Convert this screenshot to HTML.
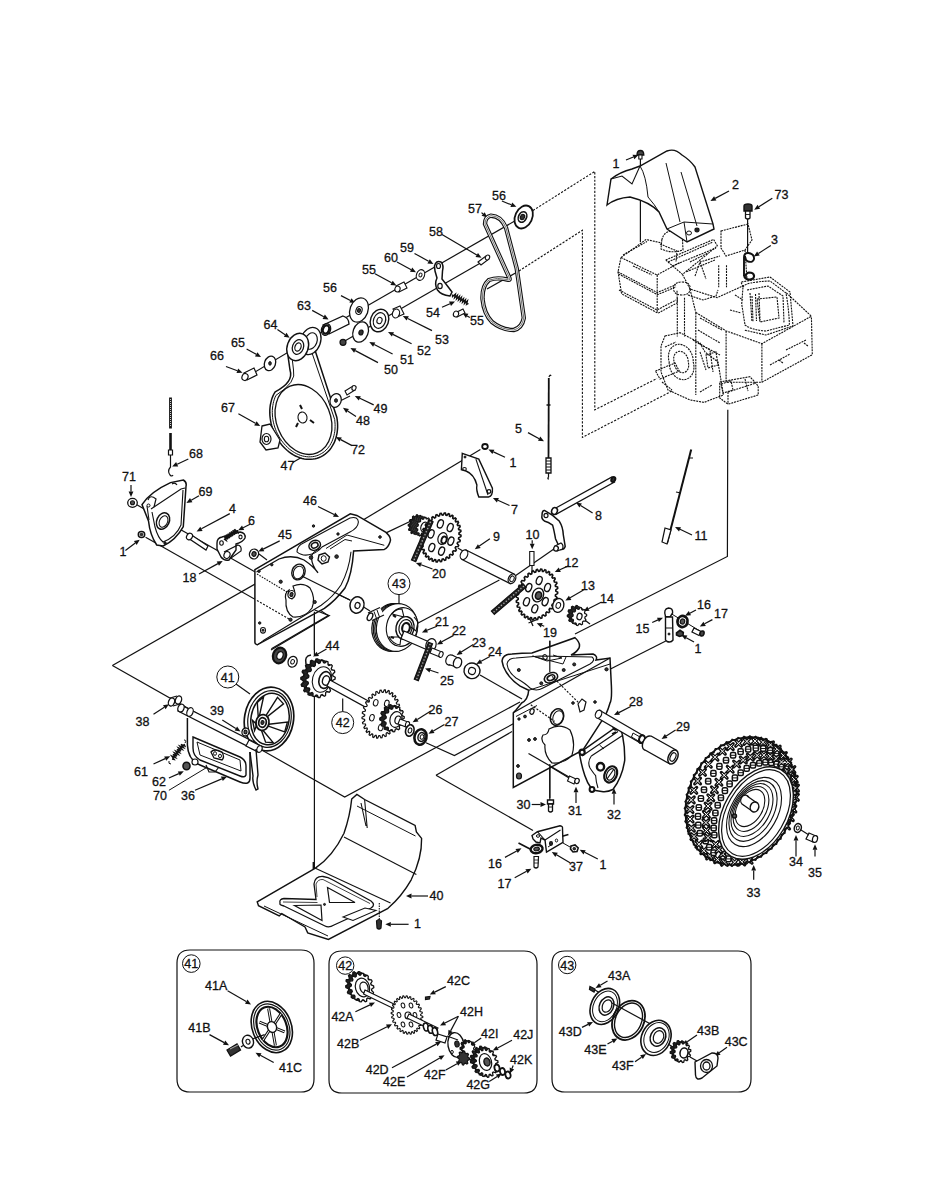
<!DOCTYPE html>
<html><head><meta charset="utf-8"><style>
html,body{margin:0;padding:0;background:#fff;}
body{width:927px;height:1200px;overflow:hidden;position:relative;}
svg{position:absolute;left:0;top:0;}
text{font-family:"Liberation Sans",sans-serif;fill:#111;stroke:#111;stroke-width:0.3px;}
</style></head><body>
<svg width="927" height="1200" viewBox="0 0 927 1200">
<text x="612.5" y="168" font-size="12.5" text-anchor="start">1</text>
<text x="732" y="189" font-size="12.5" text-anchor="start">2</text>
<text x="774.5" y="199" font-size="12.5" text-anchor="start">73</text>
<text x="771" y="244" font-size="12.5" text-anchor="start">3</text>
<text x="492" y="199.5" font-size="12.5" text-anchor="start">56</text>
<text x="468" y="213" font-size="12.5" text-anchor="start">57</text>
<text x="429" y="236" font-size="12.5" text-anchor="start">58</text>
<text x="400" y="252" font-size="12.5" text-anchor="start">59</text>
<text x="384" y="262" font-size="12.5" text-anchor="start">60</text>
<text x="362" y="274" font-size="12.5" text-anchor="start">55</text>
<text x="426" y="317" font-size="12.5" text-anchor="start">54</text>
<text x="470" y="325" font-size="12.5" text-anchor="start">55</text>
<text x="435" y="344" font-size="12.5" text-anchor="start">53</text>
<text x="417" y="355" font-size="12.5" text-anchor="start">52</text>
<text x="400" y="364" font-size="12.5" text-anchor="start">51</text>
<text x="384" y="374" font-size="12.5" text-anchor="start">50</text>
<text x="373.5" y="413" font-size="12.5" text-anchor="start">49</text>
<text x="356" y="425" font-size="12.5" text-anchor="start">48</text>
<text x="351" y="454" font-size="12.5" text-anchor="start">72</text>
<text x="515" y="433" font-size="12.5" text-anchor="start">5</text>
<text x="323" y="292" font-size="12.5" text-anchor="start">56</text>
<text x="297" y="310" font-size="12.5" text-anchor="start">63</text>
<text x="263.5" y="329" font-size="12.5" text-anchor="start">64</text>
<text x="231" y="347" font-size="12.5" text-anchor="start">65</text>
<text x="210" y="360" font-size="12.5" text-anchor="start">66</text>
<text x="221" y="412" font-size="12.5" text-anchor="start">67</text>
<text x="280.5" y="470" font-size="12.5" text-anchor="start">47</text>
<text x="189" y="458" font-size="12.5" text-anchor="start">68</text>
<text x="122" y="481" font-size="12.5" text-anchor="start">71</text>
<text x="198.5" y="496" font-size="12.5" text-anchor="start">69</text>
<text x="303" y="505" font-size="12.5" text-anchor="start">46</text>
<text x="229" y="513" font-size="12.5" text-anchor="start">4</text>
<text x="248" y="525" font-size="12.5" text-anchor="start">6</text>
<text x="278" y="539" font-size="12.5" text-anchor="start">45</text>
<text x="119.5" y="556" font-size="12.5" text-anchor="start">1</text>
<text x="182.5" y="582" font-size="12.5" text-anchor="start">18</text>
<text x="325.5" y="650" font-size="12.5" text-anchor="start">44</text>
<text x="210" y="715" font-size="12.5" text-anchor="start">39</text>
<text x="135.5" y="726" font-size="12.5" text-anchor="start">38</text>
<text x="134" y="776" font-size="12.5" text-anchor="start">61</text>
<text x="152" y="786" font-size="12.5" text-anchor="start">62</text>
<text x="153" y="800" font-size="12.5" text-anchor="start">70</text>
<text x="181" y="800" font-size="12.5" text-anchor="start">36</text>
<text x="509.5" y="467" font-size="12.5" text-anchor="start">1</text>
<text x="511" y="514" font-size="12.5" text-anchor="start">7</text>
<text x="595" y="520" font-size="12.5" text-anchor="start">8</text>
<text x="493" y="541" font-size="12.5" text-anchor="start">9</text>
<text x="525.5" y="539" font-size="12.5" text-anchor="start">10</text>
<text x="564.5" y="567" font-size="12.5" text-anchor="start">12</text>
<text x="432" y="578" font-size="12.5" text-anchor="start">20</text>
<text x="581" y="590" font-size="12.5" text-anchor="start">13</text>
<text x="600" y="603" font-size="12.5" text-anchor="start">14</text>
<text x="435" y="626" font-size="12.5" text-anchor="start">21</text>
<text x="543" y="637" font-size="12.5" text-anchor="start">19</text>
<text x="452" y="635" font-size="12.5" text-anchor="start">22</text>
<text x="472" y="647" font-size="12.5" text-anchor="start">23</text>
<text x="488" y="656" font-size="12.5" text-anchor="start">24</text>
<text x="440" y="685" font-size="12.5" text-anchor="start">25</text>
<text x="629" y="706" font-size="12.5" text-anchor="start">28</text>
<text x="428.5" y="714" font-size="12.5" text-anchor="start">26</text>
<text x="444.5" y="726" font-size="12.5" text-anchor="start">27</text>
<text x="694.5" y="540" font-size="12.5" text-anchor="start">11</text>
<text x="697" y="609" font-size="12.5" text-anchor="start">16</text>
<text x="714" y="618" font-size="12.5" text-anchor="start">17</text>
<text x="635.5" y="633" font-size="12.5" text-anchor="start">15</text>
<text x="694.5" y="653" font-size="12.5" text-anchor="start">1</text>
<text x="676" y="731" font-size="12.5" text-anchor="start">29</text>
<text x="516.5" y="809" font-size="12.5" text-anchor="start">30</text>
<text x="568" y="815" font-size="12.5" text-anchor="start">31</text>
<text x="607" y="819" font-size="12.5" text-anchor="start">32</text>
<text x="488" y="868" font-size="12.5" text-anchor="start">16</text>
<text x="569" y="871" font-size="12.5" text-anchor="start">37</text>
<text x="599.5" y="869" font-size="12.5" text-anchor="start">1</text>
<text x="497.5" y="888" font-size="12.5" text-anchor="start">17</text>
<text x="429.5" y="900" font-size="12.5" text-anchor="start">40</text>
<text x="414" y="928" font-size="12.5" text-anchor="start">1</text>
<text x="789" y="866" font-size="12.5" text-anchor="start">34</text>
<text x="808" y="877" font-size="12.5" text-anchor="start">35</text>
<text x="746.5" y="897" font-size="12.5" text-anchor="start">33</text>
<text x="205" y="990" font-size="12.5" text-anchor="start">41A</text>
<text x="188.3" y="1032" font-size="12.5" text-anchor="start">41B</text>
<text x="279" y="1071.5" font-size="12.5" text-anchor="start">41C</text>
<text x="447" y="985" font-size="12.5" text-anchor="start">42C</text>
<text x="331.4" y="1021" font-size="12.5" text-anchor="start">42A</text>
<text x="337" y="1048" font-size="12.5" text-anchor="start">42B</text>
<text x="365.7" y="1074" font-size="12.5" text-anchor="start">42D</text>
<text x="383" y="1086" font-size="12.5" text-anchor="start">42E</text>
<text x="424" y="1079" font-size="12.5" text-anchor="start">42F</text>
<text x="460" y="1016" font-size="12.5" text-anchor="start">42H</text>
<text x="481" y="1038" font-size="12.5" text-anchor="start">42I</text>
<text x="513.2" y="1039" font-size="12.5" text-anchor="start">42J</text>
<text x="510" y="1064" font-size="12.5" text-anchor="start">42K</text>
<text x="466.4" y="1089" font-size="12.5" text-anchor="start">42G</text>
<text x="608" y="979.5" font-size="12.5" text-anchor="start">43A</text>
<text x="558.8" y="1036" font-size="12.5" text-anchor="start">43D</text>
<text x="584.3" y="1054" font-size="12.5" text-anchor="start">43E</text>
<text x="697" y="1035" font-size="12.5" text-anchor="start">43B</text>
<text x="724.7" y="1046" font-size="12.5" text-anchor="start">43C</text>
<text x="612" y="1070" font-size="12.5" text-anchor="start">43F</text>
<path d="M190,950 H301 Q314,950 314,963 V1079 Q314,1092 301,1092 H190 Q177,1092 177,1079 V963 Q177,950 190,950 Z" fill="none" stroke="#111" stroke-width="1.2" />
<path d="M342,951 H524 Q537,951 537,964 V1080 Q537,1093 524,1093 H342 Q329,1093 329,1080 V964 Q329,951 342,951 Z" fill="none" stroke="#111" stroke-width="1.2" />
<path d="M565,951 H738 Q751,951 751,964 V1079 Q751,1092 738,1092 H565 Q552,1092 552,1079 V964 Q552,951 565,951 Z" fill="none" stroke="#111" stroke-width="1.2" />
<path d="M626.0,160.0 L633.4,157.0" stroke="#111" stroke-width="1.2" fill="none"/>
<path d="M638.5,155.0 L634.3,159.3 L632.5,154.8 Z" fill="#111"/>
<path d="M729.0,191.0 L715.2,198.4" stroke="#111" stroke-width="1.2" fill="none"/>
<path d="M710.4,201.0 L714.1,196.3 L716.4,200.5 Z" fill="#111"/>
<path d="M772.3,198.3 L758.9,206.8" stroke="#111" stroke-width="1.2" fill="none"/>
<path d="M754.2,209.7 L757.6,204.7 L760.1,208.8 Z" fill="#111"/>
<path d="M501.9,201.0 L511.3,204.8" stroke="#111" stroke-width="1.2" fill="none"/>
<path d="M516.4,206.8 L510.4,207.0 L512.2,202.5 Z" fill="#111"/>
<path d="M481.5,212.6 L483.1,214.0" stroke="#111" stroke-width="1.2" fill="none"/>
<path d="M487.3,217.6 L481.6,215.8 L484.7,212.2 Z" fill="#111"/>
<path d="M442.0,234.5 L476.8,255.0" stroke="#111" stroke-width="1.2" fill="none"/>
<path d="M481.5,257.8 L475.5,257.1 L478.0,252.9 Z" fill="#111"/>
<path d="M414.5,253.4 L428.6,261.3" stroke="#111" stroke-width="1.2" fill="none"/>
<path d="M433.4,264.0 L427.4,263.4 L429.8,259.2 Z" fill="#111"/>
<path d="M397.0,262.0 L411.2,269.7" stroke="#111" stroke-width="1.2" fill="none"/>
<path d="M416.0,272.3 L410.0,271.8 L412.3,267.6 Z" fill="#111"/>
<path d="M375.0,273.8 L391.6,282.8" stroke="#111" stroke-width="1.2" fill="none"/>
<path d="M396.4,285.4 L390.4,284.9 L392.7,280.7 Z" fill="#111"/>
<path d="M442.0,307.3 L450.0,303.7" stroke="#111" stroke-width="1.2" fill="none"/>
<path d="M455.0,301.5 L451.0,305.9 L449.0,301.5 Z" fill="#111"/>
<path d="M469.8,317.5 L467.2,315.9" stroke="#111" stroke-width="1.2" fill="none"/>
<path d="M462.5,313.0 L468.4,313.8 L465.9,317.9 Z" fill="#111"/>
<path d="M432.0,330.6 L407.7,318.5" stroke="#111" stroke-width="1.2" fill="none"/>
<path d="M402.8,316.0 L408.8,316.3 L406.6,320.6 Z" fill="#111"/>
<path d="M411.6,343.7 L392.9,334.4" stroke="#111" stroke-width="1.2" fill="none"/>
<path d="M388.0,332.0 L394.0,332.3 L391.9,336.6 Z" fill="#111"/>
<path d="M392.6,354.0 L374.2,344.5" stroke="#111" stroke-width="1.2" fill="none"/>
<path d="M369.3,342.0 L375.3,342.4 L373.1,346.7 Z" fill="#111"/>
<path d="M378.0,362.6 L355.3,350.6" stroke="#111" stroke-width="1.2" fill="none"/>
<path d="M350.4,348.0 L356.4,348.5 L354.1,352.7 Z" fill="#111"/>
<path d="M373.7,404.9 L359.8,398.3" stroke="#111" stroke-width="1.2" fill="none"/>
<path d="M354.8,396.0 L360.8,396.2 L358.8,400.5 Z" fill="#111"/>
<path d="M352.0,445.6 L340.7,439.6" stroke="#111" stroke-width="1.2" fill="none"/>
<path d="M335.8,437.0 L341.8,437.5 L339.5,441.7 Z" fill="#111"/>
<path d="M292.7,462.5 L302.2,457.0" stroke="#111" stroke-width="1.2" fill="none"/>
<path d="M307.0,454.2 L303.4,459.0 L301.0,454.9 Z" fill="#111"/>
<path d="M356.0,416.5 L347.6,410.9" stroke="#111" stroke-width="1.2" fill="none"/>
<path d="M343.0,407.8 L348.9,408.9 L346.2,412.9 Z" fill="#111"/>
<path d="M528.0,432.6 L539.2,438.7" stroke="#111" stroke-width="1.2" fill="none"/>
<path d="M544.0,441.3 L538.0,440.8 L540.3,436.6 Z" fill="#111"/>
<path d="M341.0,295.6 L350.4,300.5" stroke="#111" stroke-width="1.2" fill="none"/>
<path d="M355.3,303.0 L349.3,302.6 L351.5,298.3 Z" fill="#111"/>
<path d="M312.2,310.4 L323.8,316.8" stroke="#111" stroke-width="1.2" fill="none"/>
<path d="M328.6,319.4 L322.6,318.9 L324.9,314.6 Z" fill="#111"/>
<path d="M277.4,329.6 L285.1,334.7" stroke="#111" stroke-width="1.2" fill="none"/>
<path d="M289.7,337.8 L283.8,336.7 L286.5,332.8 Z" fill="#111"/>
<path d="M246.6,348.9 L256.2,354.3" stroke="#111" stroke-width="1.2" fill="none"/>
<path d="M261.0,357.0 L255.0,356.4 L257.4,352.2 Z" fill="#111"/>
<path d="M226.0,366.5 L237.4,370.8" stroke="#111" stroke-width="1.2" fill="none"/>
<path d="M242.5,372.7 L236.5,373.0 L238.2,368.5 Z" fill="#111"/>
<path d="M238.4,413.7 L255.4,423.3" stroke="#111" stroke-width="1.2" fill="none"/>
<path d="M260.2,426.0 L254.2,425.4 L256.6,421.2 Z" fill="#111"/>
<path d="M188.3,459.0 L177.2,464.3" stroke="#111" stroke-width="1.2" fill="none"/>
<path d="M172.2,466.6 L176.1,462.1 L178.2,466.4 Z" fill="#111"/>
<path d="M131.0,485.0 L131.0,491.5" stroke="#111" stroke-width="1.2" fill="none"/>
<path d="M131.0,497.0 L128.6,491.5 L133.4,491.5 Z" fill="#111"/>
<path d="M199.0,495.8 L191.2,500.2" stroke="#111" stroke-width="1.2" fill="none"/>
<path d="M186.4,502.9 L190.0,498.1 L192.4,502.3 Z" fill="#111"/>
<path d="M229.8,513.6 L201.4,528.8" stroke="#111" stroke-width="1.2" fill="none"/>
<path d="M196.6,531.4 L200.3,526.7 L202.6,530.9 Z" fill="#111"/>
<path d="M250.0,524.3 L243.1,527.7" stroke="#111" stroke-width="1.2" fill="none"/>
<path d="M238.2,530.2 L242.0,525.6 L244.2,529.9 Z" fill="#111"/>
<path d="M279.7,540.9 L263.2,549.1" stroke="#111" stroke-width="1.2" fill="none"/>
<path d="M258.3,551.5 L262.2,546.9 L264.3,551.2 Z" fill="#111"/>
<path d="M125.4,550.4 L135.3,543.0" stroke="#111" stroke-width="1.2" fill="none"/>
<path d="M139.7,539.7 L136.7,544.9 L133.9,541.1 Z" fill="#111"/>
<path d="M199.0,574.0 L217.9,563.6" stroke="#111" stroke-width="1.2" fill="none"/>
<path d="M222.7,561.0 L219.0,565.7 L216.7,561.5 Z" fill="#111"/>
<path d="M318.0,506.5 L334.1,514.5" stroke="#111" stroke-width="1.2" fill="none"/>
<path d="M339.0,517.0 L333.0,516.7 L335.2,512.4 Z" fill="#111"/>
<path d="M326.5,649.0 L317.8,653.9" stroke="#111" stroke-width="1.2" fill="none"/>
<path d="M313.0,656.6 L316.6,651.8 L319.0,656.0 Z" fill="#111"/>
<path d="M222.3,720.0 L235.8,728.5" stroke="#111" stroke-width="1.2" fill="none"/>
<path d="M240.5,731.4 L234.6,730.5 L237.1,726.4 Z" fill="#111"/>
<path d="M153.5,714.2 L164.3,707.2" stroke="#111" stroke-width="1.2" fill="none"/>
<path d="M168.9,704.2 L165.6,709.2 L163.0,705.2 Z" fill="#111"/>
<path d="M153.5,764.0 L165.2,758.6" stroke="#111" stroke-width="1.2" fill="none"/>
<path d="M170.2,756.3 L166.2,760.8 L164.2,756.4 Z" fill="#111"/>
<path d="M168.9,778.0 L178.8,773.6" stroke="#111" stroke-width="1.2" fill="none"/>
<path d="M183.8,771.3 L179.8,775.7 L177.8,771.4 Z" fill="#111"/>
<path d="M195.0,790.3 L221.8,778.9" stroke="#111" stroke-width="1.2" fill="none"/>
<path d="M226.9,776.7 L222.8,781.1 L220.9,776.6 Z" fill="#111"/>
<path d="M505.0,457.2 L493.4,451.9" stroke="#111" stroke-width="1.2" fill="none"/>
<path d="M488.4,449.6 L494.4,449.7 L492.4,454.1 Z" fill="#111"/>
<path d="M509.5,505.5 L497.9,500.3" stroke="#111" stroke-width="1.2" fill="none"/>
<path d="M492.9,498.0 L498.9,498.1 L496.9,502.5 Z" fill="#111"/>
<path d="M592.6,513.0 L580.6,505.4" stroke="#111" stroke-width="1.2" fill="none"/>
<path d="M576.0,502.5 L581.9,503.4 L579.4,507.5 Z" fill="#111"/>
<path d="M489.9,538.7 L479.3,546.1" stroke="#111" stroke-width="1.2" fill="none"/>
<path d="M474.8,549.3 L477.9,544.2 L480.7,548.1 Z" fill="#111"/>
<path d="M532.2,540.2 L532.2,543.8" stroke="#111" stroke-width="1.2" fill="none"/>
<path d="M532.2,549.3 L529.8,543.8 L534.6,543.8 Z" fill="#111"/>
<path d="M568.4,565.9 L559.8,569.7" stroke="#111" stroke-width="1.2" fill="none"/>
<path d="M554.8,572.0 L558.8,567.6 L560.8,571.9 Z" fill="#111"/>
<path d="M432.5,569.0 L421.1,564.8" stroke="#111" stroke-width="1.2" fill="none"/>
<path d="M415.9,562.9 L421.9,562.5 L420.2,567.0 Z" fill="#111"/>
<path d="M583.5,590.0 L570.1,597.8" stroke="#111" stroke-width="1.2" fill="none"/>
<path d="M565.4,600.6 L568.9,595.7 L571.4,599.9 Z" fill="#111"/>
<path d="M601.6,602.0 L588.4,608.7" stroke="#111" stroke-width="1.2" fill="none"/>
<path d="M583.5,611.2 L587.3,606.6 L589.5,610.8 Z" fill="#111"/>
<path d="M437.0,626.3 L427.0,630.3" stroke="#111" stroke-width="1.2" fill="none"/>
<path d="M421.9,632.4 L426.1,628.1 L427.9,632.6 Z" fill="#111"/>
<path d="M453.6,635.4 L441.8,641.8" stroke="#111" stroke-width="1.2" fill="none"/>
<path d="M437.0,644.4 L440.7,639.7 L443.0,643.9 Z" fill="#111"/>
<path d="M473.3,644.4 L461.2,652.1" stroke="#111" stroke-width="1.2" fill="none"/>
<path d="M456.6,655.0 L460.0,650.0 L462.5,654.1 Z" fill="#111"/>
<path d="M489.9,656.5 L481.1,661.3" stroke="#111" stroke-width="1.2" fill="none"/>
<path d="M476.3,664.0 L480.0,659.2 L482.3,663.4 Z" fill="#111"/>
<path d="M438.5,673.0 L430.2,670.3" stroke="#111" stroke-width="1.2" fill="none"/>
<path d="M425.0,668.6 L431.0,668.0 L429.5,672.6 Z" fill="#111"/>
<path d="M544.2,626.3 L541.8,625.3" stroke="#111" stroke-width="1.2" fill="none"/>
<path d="M536.7,623.3 L542.7,623.1 L540.9,627.6 Z" fill="#111"/>
<path d="M630.7,706.5 L618.9,712.6" stroke="#111" stroke-width="1.2" fill="none"/>
<path d="M614.0,715.1 L617.8,710.4 L620.0,714.7 Z" fill="#111"/>
<path d="M430.8,711.0 L417.3,719.4" stroke="#111" stroke-width="1.2" fill="none"/>
<path d="M412.6,722.3 L416.0,717.4 L418.5,721.4 Z" fill="#111"/>
<path d="M444.4,724.6 L433.3,731.0" stroke="#111" stroke-width="1.2" fill="none"/>
<path d="M428.5,733.7 L432.1,728.9 L434.5,733.1 Z" fill="#111"/>
<path d="M692.0,535.0 L680.0,529.3" stroke="#111" stroke-width="1.2" fill="none"/>
<path d="M675.0,527.0 L681.0,527.2 L679.0,531.5 Z" fill="#111"/>
<path d="M696.0,610.0 L689.9,613.2" stroke="#111" stroke-width="1.2" fill="none"/>
<path d="M685.0,615.7 L688.8,611.0 L691.0,615.3 Z" fill="#111"/>
<path d="M712.4,619.6 L704.6,623.8" stroke="#111" stroke-width="1.2" fill="none"/>
<path d="M699.8,626.4 L703.5,621.7 L705.8,625.9 Z" fill="#111"/>
<path d="M652.2,622.5 L658.0,619.9" stroke="#111" stroke-width="1.2" fill="none"/>
<path d="M663.0,617.7 L658.9,622.1 L657.0,617.7 Z" fill="#111"/>
<path d="M694.0,642.0 L686.2,637.7" stroke="#111" stroke-width="1.2" fill="none"/>
<path d="M681.4,635.1 L687.4,635.6 L685.1,639.8 Z" fill="#111"/>
<path d="M675.6,730.0 L666.2,736.0" stroke="#111" stroke-width="1.2" fill="none"/>
<path d="M661.6,739.0 L664.9,734.0 L667.5,738.0 Z" fill="#111"/>
<path d="M531.7,804.5 L540.5,804.5" stroke="#111" stroke-width="1.2" fill="none"/>
<path d="M546.0,804.5 L540.5,806.9 L540.5,802.1 Z" fill="#111"/>
<path d="M576.0,803.0 L576.0,792.2" stroke="#111" stroke-width="1.2" fill="none"/>
<path d="M576.0,786.7 L578.4,792.2 L573.6,792.2 Z" fill="#111"/>
<path d="M614.0,804.5 L614.0,793.8" stroke="#111" stroke-width="1.2" fill="none"/>
<path d="M614.0,788.3 L616.4,793.8 L611.6,793.8 Z" fill="#111"/>
<path d="M505.0,857.4 L516.7,851.0" stroke="#111" stroke-width="1.2" fill="none"/>
<path d="M521.5,848.3 L517.8,853.1 L515.5,848.9 Z" fill="#111"/>
<path d="M570.0,862.7 L556.5,854.8" stroke="#111" stroke-width="1.2" fill="none"/>
<path d="M551.8,852.0 L557.8,852.7 L555.3,856.9 Z" fill="#111"/>
<path d="M597.8,859.0 L584.6,852.3" stroke="#111" stroke-width="1.2" fill="none"/>
<path d="M579.7,849.8 L585.7,850.2 L583.5,854.4 Z" fill="#111"/>
<path d="M514.7,877.8 L526.6,871.3" stroke="#111" stroke-width="1.2" fill="none"/>
<path d="M531.4,868.7 L527.7,873.4 L525.4,869.2 Z" fill="#111"/>
<path d="M428.0,896.0 L411.5,896.0" stroke="#111" stroke-width="1.2" fill="none"/>
<path d="M406.0,896.0 L411.5,893.6 L411.5,898.4 Z" fill="#111"/>
<path d="M408.6,924.3 L390.8,924.3" stroke="#111" stroke-width="1.2" fill="none"/>
<path d="M385.3,924.3 L390.8,921.9 L390.8,926.7 Z" fill="#111"/>
<path d="M796.0,856.4 L796.0,840.5" stroke="#111" stroke-width="1.2" fill="none"/>
<path d="M796.0,835.0 L798.4,840.5 L793.6,840.5 Z" fill="#111"/>
<path d="M815.0,856.4 L815.0,849.8" stroke="#111" stroke-width="1.2" fill="none"/>
<path d="M815.0,844.3 L817.4,849.8 L812.6,849.8 Z" fill="#111"/>
<path d="M753.7,879.7 L753.7,870.5" stroke="#111" stroke-width="1.2" fill="none"/>
<path d="M753.7,865.0 L756.1,870.5 L751.3,870.5 Z" fill="#111"/>
<path d="M227.6,990.8 L246.2,1001.6" stroke="#111" stroke-width="1.2" fill="none"/>
<path d="M251.0,1004.4 L245.0,1003.7 L247.5,999.6 Z" fill="#111"/>
<path d="M209.5,1034.6 L224.2,1042.6" stroke="#111" stroke-width="1.2" fill="none"/>
<path d="M229.0,1045.2 L223.0,1044.7 L225.3,1040.5 Z" fill="#111"/>
<path d="M273.7,1062.5 L260.3,1055.3" stroke="#111" stroke-width="1.2" fill="none"/>
<path d="M255.5,1052.7 L261.5,1053.2 L259.2,1057.4 Z" fill="#111"/>
<path d="M445.8,986.6 L434.7,992.1" stroke="#111" stroke-width="1.2" fill="none"/>
<path d="M429.8,994.6 L433.6,990.0 L435.8,994.3 Z" fill="#111"/>
<path d="M355.4,1011.7 L370.0,1004.9" stroke="#111" stroke-width="1.2" fill="none"/>
<path d="M375.0,1002.6 L371.0,1007.1 L369.0,1002.7 Z" fill="#111"/>
<path d="M360.0,1040.3 L387.1,1026.8" stroke="#111" stroke-width="1.2" fill="none"/>
<path d="M392.0,1024.3 L388.2,1028.9 L386.0,1024.6 Z" fill="#111"/>
<path d="M392.0,1067.8 L436.3,1044.1" stroke="#111" stroke-width="1.2" fill="none"/>
<path d="M441.2,1041.5 L437.5,1046.2 L435.2,1042.0 Z" fill="#111"/>
<path d="M407.0,1077.0 L439.8,1058.0" stroke="#111" stroke-width="1.2" fill="none"/>
<path d="M444.6,1055.2 L441.0,1060.0 L438.6,1055.9 Z" fill="#111"/>
<path d="M445.8,1070.0 L457.0,1063.7" stroke="#111" stroke-width="1.2" fill="none"/>
<path d="M461.8,1061.0 L458.2,1065.8 L455.8,1061.6 Z" fill="#111"/>
<path d="M481.2,1038.0 L474.3,1042.8" stroke="#111" stroke-width="1.2" fill="none"/>
<path d="M469.8,1046.0 L472.9,1040.9 L475.7,1044.8 Z" fill="#111"/>
<path d="M512.0,1040.3 L497.6,1048.0" stroke="#111" stroke-width="1.2" fill="none"/>
<path d="M492.7,1050.6 L496.4,1045.9 L498.7,1050.1 Z" fill="#111"/>
<path d="M513.2,1065.5 L512.0,1068.4" stroke="#111" stroke-width="1.2" fill="none"/>
<path d="M509.8,1073.5 L509.7,1067.5 L514.2,1069.4 Z" fill="#111"/>
<path d="M489.2,1081.5 L497.2,1076.4" stroke="#111" stroke-width="1.2" fill="none"/>
<path d="M501.8,1073.5 L498.4,1078.5 L495.9,1074.4 Z" fill="#111"/>
<path d="M607.5,981.0 L600.3,985.2" stroke="#111" stroke-width="1.2" fill="none"/>
<path d="M595.5,988.0 L599.0,983.2 L601.5,987.3 Z" fill="#111"/>
<path d="M582.0,1027.4 L588.1,1024.4" stroke="#111" stroke-width="1.2" fill="none"/>
<path d="M593.0,1021.9 L589.2,1026.5 L587.0,1022.2 Z" fill="#111"/>
<path d="M607.5,1044.0 L612.6,1041.2" stroke="#111" stroke-width="1.2" fill="none"/>
<path d="M617.4,1038.5 L613.8,1043.3 L611.4,1039.1 Z" fill="#111"/>
<path d="M635.0,1061.7 L641.5,1057.2" stroke="#111" stroke-width="1.2" fill="none"/>
<path d="M646.0,1054.0 L642.9,1059.1 L640.1,1055.2 Z" fill="#111"/>
<path d="M697.0,1035.0 L687.2,1041.8" stroke="#111" stroke-width="1.2" fill="none"/>
<path d="M682.7,1045.0 L685.8,1039.9 L688.6,1043.8 Z" fill="#111"/>
<path d="M727.0,1047.3 L719.2,1052.8" stroke="#111" stroke-width="1.2" fill="none"/>
<path d="M714.7,1056.0 L717.8,1050.9 L720.6,1054.8 Z" fill="#111"/>
<path d="M770.8,245.4 L758.4,253.5" stroke="#111" stroke-width="1.2" fill="none"/>
<path d="M753.8,256.5 L757.1,251.5 L759.7,255.5 Z" fill="#111"/>
<path d="M458.4,1016.3 L444.9,1023.0" stroke="#111" stroke-width="1.2" fill="none"/>
<path d="M440.0,1025.5 L443.8,1020.9 L446.0,1025.2 Z" fill="#111"/>
<path d="M458.4,1016.3 L450.6,1030.9" stroke="#111" stroke-width="1.2" fill="none"/>
<path d="M448.0,1035.8 L448.5,1029.8 L452.7,1032.1 Z" fill="#111"/>
<path d="M168.9,790.3 L206.5,767.6" fill="none" stroke="#111" stroke-width="1.0"/>
<path d="M533.0,210.5 L360.0,310.0" fill="none" stroke="#111" stroke-width="1.2"/>
<path d="M352.0,314.0 L250.0,375.0" fill="none" stroke="#111" stroke-width="1.2"/>
<path d="M484.0,261.0 L343.0,342.0" fill="none" stroke="#111" stroke-width="1.2"/>
<path d="M519.0,271.0 L487.0,289.0" fill="none" stroke="#111" stroke-width="1.2"/>
<path d="M350.0,396.0 L314.0,414.0" fill="none" stroke="#111" stroke-width="1.2"/>
<path d="M262.0,437.0 L300.0,420.0" fill="none" stroke="#111" stroke-width="1.2"/>
<path d="M533.0,210.5 L594.8,171.4 L594.8,409.9 L657.0,378.5" fill="none" stroke="#111" stroke-width="1.1" stroke-dasharray="2.2,1.5"/>
<path d="M519.0,271.0 L582.4,230.3 L582.4,437.4 L673.0,390.5" fill="none" stroke="#111" stroke-width="1.1" stroke-dasharray="2.2,1.5"/>
<path d="M640.4,158.0 L640.4,242.0" fill="none" stroke="#111" stroke-width="1.2"/>
<path d="M747.6,219.0 L747.6,253.0" fill="none" stroke="#111" stroke-width="1.2"/>
<path d="M727.8,409.8 L727.4,556.5 L575.0,634.0" fill="none" stroke="#111" stroke-width="1.2"/>
<path d="M665.8,641.0 L610.5,669.0" fill="none" stroke="#111" stroke-width="1.2"/>
<path d="M480.0,675.0 L522.0,699.0" fill="none" stroke="#111" stroke-width="1.2"/>
<path d="M133.7,503.0 L254.8,571.7" fill="none" stroke="#111" stroke-width="1.2"/>
<path d="M145.6,537.3 L257.0,600.5" fill="none" stroke="#111" stroke-width="1.2"/>
<path d="M257.0,600.5 L290.4,619.2" fill="none" stroke="#111" stroke-width="1.2" stroke-dasharray="2,1.5"/>
<path d="M112.4,665.5 L281.0,569.3" fill="none" stroke="#111" stroke-width="1.2"/>
<path d="M281.0,569.3 L480.4,449.5" fill="none" stroke="#111" stroke-width="1.2"/>
<path d="M112.4,665.5 L344.7,797.0 L520.0,702.0" fill="none" stroke="#111" stroke-width="1.2"/>
<path d="M271.4,648.8 L328.3,615.6 L314.0,606.0" fill="none" stroke="#111" stroke-width="1.2"/>
<path d="M314.4,606.0 L314.4,655.0" fill="none" stroke="#111" stroke-width="1.2"/>
<path d="M314.4,682.0 L314.4,869.0" fill="none" stroke="#111" stroke-width="1.2"/>
<path d="M257.0,574.0 L288.0,592.0" fill="none" stroke="#111" stroke-width="1.2" stroke-dasharray="2,1.5"/>
<path d="M411.5,520.7 L386.6,532.6" fill="none" stroke="#111" stroke-width="1.2"/>
<path d="M457.8,548.0 L466.0,552.7" fill="none" stroke="#111" stroke-width="1.2"/>
<path d="M416.3,624.0 L499.4,580.0" fill="none" stroke="#111" stroke-width="1.2"/>
<path d="M515.7,575.4 L556.4,547.3" fill="none" stroke="#111" stroke-width="1.2"/>
<path d="M300.0,576.5 L350.0,600.0" fill="none" stroke="#111" stroke-width="1.2"/>
<path d="M364.0,607.3 L370.0,611.0" fill="none" stroke="#111" stroke-width="1.2"/>
<path d="M426.0,742.7 L454.4,755.5 L513.3,723.8" fill="none" stroke="#111" stroke-width="1.2"/>
<path d="M436.0,775.3 L512.0,731.6" fill="none" stroke="#111" stroke-width="1.2"/>
<path d="M436.0,775.3 L533.0,830.4" fill="none" stroke="#111" stroke-width="1.2"/>
<path d="M532.0,560.0 L532.0,574.2" fill="none" stroke="#111" stroke-width="1.2"/>
<path d="M549.8,640.7 L549.8,674.0" fill="none" stroke="#111" stroke-width="1.2"/>
<path d="M552.0,676.3 L578.3,702.4" fill="none" stroke="#111" stroke-width="1.2" stroke-dasharray="2,1.5"/>
<path d="M530.8,704.8 L554.6,721.4" fill="none" stroke="#111" stroke-width="1.2" stroke-dasharray="2,1.5"/>
<path d="M528.5,753.4 L573.6,780.7" fill="none" stroke="#111" stroke-width="1.2"/>
<path d="M549.8,764.0 L549.8,800.0" fill="none" stroke="#111" stroke-width="1.2"/>
<path d="M580.7,617.0 L590.0,624.0" fill="none" stroke="#111" stroke-width="1.2"/>
<path d="M621,257.5 L646,239.5 L662,243 M621,257.5 L657,275 L680,262.5" fill="none" stroke="#111" stroke-width="1.1" stroke-dasharray="2.0,0.9" />
<path d="M621,257.5 L618,271.8 L621.6,293.8 L658,313.2 L677.3,302.8 L677,290" fill="none" stroke="#111" stroke-width="1.1" stroke-dasharray="2.0,0.9" />
<path d="M617.8,271.8 L657.2,292.5 L676,284.7 M618.5,274 L657.5,294.7 L676,287" fill="none" stroke="#111" stroke-width="1.1" stroke-dasharray="2.0,0.9" />
<path d="M657.2,275 L657.2,313" fill="none" stroke="#111" stroke-width="1.1" stroke-dasharray="2.0,0.9" />
<path d="M633,266 L652,275" fill="none" stroke="#111" stroke-width="1.1" stroke-dasharray="2.0,0.9" />
<path d="M661.8,240 Q664,231 672,231 Q681,232 682.5,240 L683,250 Q672,254 661,249 Z" fill="none" stroke="#111" stroke-width="1.1" stroke-dasharray="2.0,0.9" />
<path d="M665.7,260 L713.6,239.4 L717.4,245.9 L682.5,274.4 Z" fill="none" stroke="#111" stroke-width="1.1" stroke-dasharray="2.0,0.9" />
<path d="M686.4,271.8 L714.9,260 M682.5,274.4 L690,289 L717,297.7 L745,285" fill="none" stroke="#111" stroke-width="1.1" stroke-dasharray="2.0,0.9" />
<path d="M690,262 L708,253" fill="none" stroke="#111" stroke-width="1.1" stroke-dasharray="2.0,0.9" />
<path d="M673.4,288.5 Q674,282 681.8,282 Q690,282 690.3,288.5 Q690,295 681.8,295 Q674,295 673.4,288.5 Z" fill="none" stroke="#111" stroke-width="1.1" stroke-dasharray="2.0,0.9" />
<path d="M677.3,297.7 L677.3,336.5 M684.5,297.7 L684.5,336.5" fill="none" stroke="#111" stroke-width="1.1" stroke-dasharray="2.0,0.9" />
<path d="M718.7,265.3 L718.7,287.3 M726.5,265.3 L726.5,287.3" fill="none" stroke="#111" stroke-width="1.1" stroke-dasharray="2.0,0.9" />
<path d="M721,231 L748,224 L752,240 L745,250 L726,256 L721,248 Z" fill="none" stroke="#111" stroke-width="1.1" stroke-dasharray="2.0,0.9" />
<path d="M745,250 L747,280" fill="none" stroke="#111" stroke-width="1.1" stroke-dasharray="2.0,0.9" />
<path d="M690,289 L695.8,312.5" fill="none" stroke="#111" stroke-width="1.1" stroke-dasharray="2.0,0.9" />
<path d="M743,287 Q745,282 770,281 L786,293 Q789,310 789.4,325 L766,331 Q752,330 745,325 L741.7,304 Z" fill="none" stroke="#111" stroke-width="1.1" stroke-dasharray="2.0,0.9" />
<path d="M747,290 L768,286 L783,296 L784,323 M750,293 L752,322" fill="none" stroke="#111" stroke-width="1.1" stroke-dasharray="2.0,0.9" />
<path d="M757,299 L777,297 L779,318 L760,322 Z" fill="none" stroke="#111" stroke-width="1.1" stroke-dasharray="2.0,0.9" />
<path d="M695.8,312.5 L726.1,330.9 L761.9,343.7 L811.4,316.2 L785.7,292.3" fill="none" stroke="#111" stroke-width="1.1" stroke-dasharray="2.0,0.9" />
<path d="M726.1,330.9 L726.1,382.2 L761.9,382.2 L812.3,354.7 L811.4,316.2" fill="none" stroke="#111" stroke-width="1.1" stroke-dasharray="2.0,0.9" />
<path d="M761.9,343.7 L761.9,382.2" fill="none" stroke="#111" stroke-width="1.1" stroke-dasharray="2.0,0.9" />
<path d="M695.8,312.5 L695.8,395" fill="none" stroke="#111" stroke-width="1.1" stroke-dasharray="2.0,0.9" />
<path d="M804,343 L808,346 M779,360 L783,363" fill="none" stroke="#111" stroke-width="1.1" stroke-dasharray="2.0,0.9" />
<path d="M665,336 L680,332.7 L700,343 L705,352 L718,362 L723.4,395 L704,402.4 L690,400 L668,390 L661,372 L661,346 Z" fill="none" stroke="#111" stroke-width="1.1" stroke-dasharray="2.0,0.9" />
<path d="M681.2,362 m-12,0 a12,15 -20 1,0 24,0 a12,15 -20 1,0 -24,0" fill="none" stroke="#111" stroke-width="1.1" stroke-dasharray="2.0,0.9" />
<path d="M681.2,362 m-7,0 a7,9 -20 1,0 14,0 a7,9 -20 1,0 -14,0" fill="none" stroke="#111" stroke-width="1.1" stroke-dasharray="2.0,0.9" />
<path d="M693,340 L710,350 L713,372 M700,352 L706,370" fill="none" stroke="#111" stroke-width="1.1" stroke-dasharray="2.0,0.9" />
<path d="M655.5,371 L675,363 L679.3,371 L660,379 Z" fill="none" stroke="#111" stroke-width="1.1" stroke-dasharray="2.0,0.9" />
<path d="M719.7,382 L750,376.7 L758.2,386 L758.2,395 L728,404.2 L719.7,398 Z" fill="none" stroke="#111" stroke-width="1.1" stroke-dasharray="2.0,0.9" />
<path d="M728,392 L756,383 M728,392 L728,404" fill="none" stroke="#111" stroke-width="1.1" stroke-dasharray="2.0,0.9" />
<path d="M623,255 L647,241.5 M660,244 L677,251 L676,262" fill="none" stroke="#111" stroke-width="1.1" stroke-dasharray="2.0,0.9" />
<path d="M619,290 L657,310 L676,300" fill="none" stroke="#111" stroke-width="1.1" stroke-dasharray="2.0,0.9" />
<path d="M668,262 L713,242 M672,266 L716,248" fill="none" stroke="#111" stroke-width="1.1" stroke-dasharray="2.0,0.9" />
<path d="M695,276 L700,262 L720,256 M700,262 L706,279" fill="none" stroke="#111" stroke-width="1.1" stroke-dasharray="2.0,0.9" />
<path d="M688,295 L703,300 L716,296 L718,290" fill="none" stroke="#111" stroke-width="1.1" stroke-dasharray="2.0,0.9" />
<path d="M752,296 L753,322 M755.5,294 L756.5,321 M759,293 L760,320" fill="none" stroke="#111" stroke-width="1.1" stroke-dasharray="2.0,0.9" />
<path d="M743,287 L741,282 L770,277 L790,292 L793,326 L766,335 L744,330" fill="none" stroke="#111" stroke-width="1.1" stroke-dasharray="2.0,0.9" />
<path d="M735,295 L743,300 M730,310 L741,313" fill="none" stroke="#111" stroke-width="1.1" stroke-dasharray="2.0,0.9" />
<path d="M700,318 L722,330 M698,330 L720,343 M698,343 L720,355" fill="none" stroke="#111" stroke-width="1.1" stroke-dasharray="2.0,0.9" />
<path d="M665,347 L676,342 M662,382 L672,390 M700,392 L712,385" fill="none" stroke="#111" stroke-width="1.1" stroke-dasharray="2.0,0.9" />
<path d="M706,355 L716,352 L718,365 L708,368 Z" fill="none" stroke="#111" stroke-width="1.1" stroke-dasharray="2.0,0.9" />
<path d="M721,384 L731,381 L733,390 L723,393 Z M745,379 L748,391" fill="none" stroke="#111" stroke-width="1.1" stroke-dasharray="2.0,0.9" />
<path d="M786,350 L806,340 M770,365 L790,354" fill="none" stroke="#111" stroke-width="1.1" stroke-dasharray="2.0,0.9" />
<path d="M607,205 L611,179 Q620,172 632,169 L640,166 L667,151 Q675,148 682,155 Q690,160 695,167 L713,224 L714,229 L687,242 L667,229 L659,212 Q650,202 630,197 Q616,198 607,205 Z" fill="#fff" stroke="#111" stroke-width="1.4" />
<path d="M611,179 L622,176 L632,184 L640,166" fill="none" stroke="#111" stroke-width="1.1" />
<path d="M640,166 Q646,175 648,197 Q655,205 659,212" fill="none" stroke="#111" stroke-width="1.0" />
<path d="M666,163 L680,222 M681,172 L697,226" fill="none" stroke="#111" stroke-width="1.0" />
<path d="M667,229 L684,222 L713,224 M684,222 L687,242" fill="none" stroke="#111" stroke-width="1.0" />
<ellipse cx="689" cy="233" rx="2.5" ry="2" transform="rotate(0 689 233)" fill="none" stroke="#111" stroke-width="1.0"/>
<ellipse cx="697" cy="230" rx="2" ry="1.8" transform="rotate(0 697 230)" fill="#222" stroke="#111" stroke-width="1.2"/>
<path d="M637,155 Q637,150.5 640.4,150.5 Q643.8,150.5 643.8,155 Z" fill="#444" stroke="#111" stroke-width="1.3" />
<path d="M638.8,155 L642,155 L642,159 L638.8,159 Z" fill="#fff" stroke="#111" stroke-width="1.1" />
<path d="M744,206 Q744,204 748,204 Q752,204 752,206 L752,211 L744,211 Z" fill="#333" stroke="#111" stroke-width="1.4" />
<path d="M745.5,211 L750,211 L750,218 Q747.7,220 745.5,218 Z" fill="#fff" stroke="#111" stroke-width="1.3" />
<path d="M745.5,214.5 L750,214.5" fill="none" stroke="#111" stroke-width="0.9" />
<path d="M744,276 L744,257.5 Q744,252.5 748.5,253 Q754.5,254 754,259 Q753,263 748,261.5 Q745,260 745.5,257" fill="none" stroke="#111" stroke-width="1.9" />
<path d="M744,275 Q745,280 750,279.5 Q754.5,279 754,275.5 Q753.5,272.5 749,272.5 Q746,273 745.5,276" fill="none" stroke="#111" stroke-width="2.2" />
<ellipse cx="523.7" cy="217" rx="8.5" ry="12" transform="rotate(25 523.7 217)" fill="#fff" stroke="#111" stroke-width="1.8"/>
<ellipse cx="522.5" cy="217" rx="4" ry="5.5" transform="rotate(25 522.5 217)" fill="#fff" stroke="#111" stroke-width="1.6"/>
<ellipse cx="522.5" cy="217" rx="2" ry="2.8" transform="rotate(25 522.5 217)" fill="#333" stroke="#111" stroke-width="1.2"/>
<path d="M491,215.7 Q485,217 485,224 L509,277 Q511,281 507,279.5 Q497,277 489,280 Q482,286 482.5,299 Q484,314 492,322 Q502,330 513.7,330 Q522,328 523.8,318 L516.7,268.5 L506,227.8 Q501,216 491,215.7 Z" fill="none" stroke="#111" stroke-width="4.4" />
<path d="M491,215.7 Q485,217 485,224 L509,277 Q511,281 507,279.5 Q497,277 489,280 Q482,286 482.5,299 Q484,314 492,322 Q502,330 513.7,330 Q522,328 523.8,318 L516.7,268.5 L506,227.8 Q501,216 491,215.7 Z" fill="none" stroke="#fff" stroke-width="2.2" />
<path d="M491,215.7 Q485,217 485,224 L509,277 Q511,281 507,279.5 Q497,277 489,280 Q482,286 482.5,299 Q484,314 492,322 Q502,330 513.7,330 Q522,328 523.8,318 L516.7,268.5 L506,227.8 Q501,216 491,215.7 Z" fill="none" stroke="#333" stroke-width="0.7" />
<path d="M478,262 L486,256 L489,259 L481,265 Z" fill="#fff" stroke="#111" stroke-width="1.1" />
<ellipse cx="487.5" cy="257.5" rx="2" ry="2.5" transform="rotate(30 487.5 257.5)" fill="#fff" stroke="#111" stroke-width="1.1"/>
<path d="M434.5,266 Q436,260 441,262 Q444,265 442.5,271 L442,279 Q446,284 452,292 L450,296 Q441,295 437.5,290 Q434,284 437,278 L435,271 Z" fill="#fff" stroke="#111" stroke-width="1.5" />
<ellipse cx="438.5" cy="266" rx="2" ry="2.5" transform="rotate(0 438.5 266)" fill="none" stroke="#111" stroke-width="1.2"/>
<ellipse cx="440" cy="286" rx="2.2" ry="2.6" transform="rotate(0 440 286)" fill="none" stroke="#111" stroke-width="1.2"/>
<path d="M452.5,294.5 L452.6,296.6 L455.4,294.1 L454.6,297.8 L457.4,295.2 L456.6,298.9 L459.4,296.3 L458.6,300.0 L461.4,297.4 L460.6,301.1 L463.4,298.6 L462.6,302.3 L465.4,299.7 L464.6,303.4 L467.4,300.8 L466.6,304.5 L468.5,303.5" fill="none" stroke="#111" stroke-width="1.4"/>
<ellipse cx="420.5" cy="275" rx="4" ry="5.5" transform="rotate(20 420.5 275)" fill="#fff" stroke="#111" stroke-width="1.2"/>
<ellipse cx="420.5" cy="275" rx="1.5" ry="2" transform="rotate(20 420.5 275)" fill="none" stroke="#111" stroke-width="1"/>
<path d="M396,286 L404,282 L407,288 L399,292 Z" fill="#fff" stroke="#111" stroke-width="1.1" />
<ellipse cx="397.5" cy="289" rx="2.6" ry="3" transform="rotate(20 397.5 289)" fill="#fff" stroke="#111" stroke-width="1.1"/>
<path d="M455,313 L463,309 L465,313 L457,317 Z" fill="#fff" stroke="#111" stroke-width="1.1" />
<ellipse cx="456" cy="314" rx="2.6" ry="3" transform="rotate(20 456 314)" fill="#fff" stroke="#111" stroke-width="1.1"/>
<path d="M393,309 L400,306 L404,314 L397,317 Z" fill="#fff" stroke="#111" stroke-width="1.1" />
<ellipse cx="396" cy="313.5" rx="3.5" ry="4.5" transform="rotate(20 396 313.5)" fill="#fff" stroke="#111" stroke-width="1.2"/>
<ellipse cx="379.5" cy="320.5" rx="9" ry="11.5" transform="rotate(20 379.5 320.5)" fill="#fff" stroke="#111" stroke-width="1.4"/>
<ellipse cx="379.5" cy="320.5" rx="6" ry="8" transform="rotate(20 379.5 320.5)" fill="none" stroke="#111" stroke-width="1.2"/>
<ellipse cx="379.5" cy="320.5" rx="2.5" ry="3.2" transform="rotate(20 379.5 320.5)" fill="#fff" stroke="#111" stroke-width="1.1"/>
<ellipse cx="360.6" cy="332" rx="7.5" ry="10.5" transform="rotate(20 360.6 332)" fill="#fff" stroke="#111" stroke-width="1.3"/>
<ellipse cx="361" cy="332.5" rx="2" ry="2.5" transform="rotate(20 361 332.5)" fill="#333" stroke="#111" stroke-width="1.2"/>
<ellipse cx="343" cy="342.3" rx="3" ry="3" transform="rotate(0 343 342.3)" fill="#444" stroke="#111" stroke-width="1.2"/>
<ellipse cx="359" cy="310" rx="9" ry="12.5" transform="rotate(20 359 310)" fill="#fff" stroke="#111" stroke-width="1.3"/>
<ellipse cx="359" cy="310.5" rx="3" ry="4" transform="rotate(20 359 310.5)" fill="#fff" stroke="#111" stroke-width="1.1"/>
<ellipse cx="359" cy="310.5" rx="1.5" ry="2" transform="rotate(20 359 310.5)" fill="#333" stroke="#111" stroke-width="1"/>
<path d="M323,325 L343,316 Q349,318 349,324 L329,334 Z" fill="#fff" stroke="#111" stroke-width="1.3" />
<ellipse cx="326" cy="329.5" rx="4.5" ry="6" transform="rotate(20 326 329.5)" fill="#fff" stroke="#111" stroke-width="1.3"/>
<ellipse cx="326" cy="329.5" rx="3" ry="4.2" transform="rotate(20 326 329.5)" fill="#fff" stroke="#111" stroke-width="2.2"/>
<ellipse cx="270" cy="363.4" rx="5.5" ry="7.5" transform="rotate(20 270 363.4)" fill="#fff" stroke="#111" stroke-width="1.3"/>
<ellipse cx="270" cy="363.4" rx="1.3" ry="1.8" transform="rotate(0 270 363.4)" fill="#333" stroke="#111" stroke-width="1"/>
<path d="M244,373 L254,368 L257,375 L247,380 Z" fill="#fff" stroke="#111" stroke-width="1.2" />
<ellipse cx="245" cy="377" rx="3" ry="3.5" transform="rotate(20 245 377)" fill="#fff" stroke="#111" stroke-width="1.2"/>
<path d="M336.8,417.2 L337.2,419.8 L337.5,422.5 L337.6,425.1 L337.6,427.7 L337.4,430.3 L337.1,432.8 L336.6,435.2 L336.0,437.6 L335.3,439.9 L334.4,442.1 L333.4,444.2 L332.2,446.2 L331.0,448.1 L329.6,449.9 L328.1,451.5 L326.5,453.0 L324.8,454.4 L323.0,455.6 L321.2,456.6 L319.2,457.5 L317.2,458.2 L315.2,458.7 L313.1,459.1 L310.9,459.3 L308.7,459.3 L306.5,459.2 L304.3,458.9 L302.1,458.4 L299.9,457.8 L297.7,456.9 L295.5,456.0 L293.4,454.8 L291.3,453.5 L289.3,452.1 L287.3,450.5 L285.4,448.8 L283.6,446.9 L281.8,445.0 L280.2,442.9 L278.6,440.7 L277.2,438.4 L275.9,436.1 L274.6,433.7 L273.6,431.2 L272.6,428.6 L271.8,426.0 L271.1,423.4 L270.6,420.8 L270.2,418.2 L269.9,415.5 L269.8,412.9 L269.8,410.3 L270.0,407.7 L270.3,405.2 L270.8,402.8 L271.4,400.4 L272.1,398.1 L273.0,395.9 L274.0,393.8 L275.2,391.8 Q294,382 290,370 L288,356 Q287,340 298,335 Q309,333 313,344 Z" fill="#fff" stroke="#111" stroke-width="1.5" />
<path d="M334.7,419.5 L334.9,421.9 L335.1,424.3 L335.1,426.6 L335.0,429.0 L334.8,431.3 L334.4,433.5 L333.9,435.7 L333.3,437.8 L332.6,439.9 L331.8,441.8 L330.8,443.7 L329.8,445.5 L328.6,447.1 L327.4,448.7 L326.0,450.1 L324.6,451.4 L323.0,452.6 L321.4,453.6 L319.7,454.5 L318.0,455.3 L316.2,455.9 L314.3,456.4 L312.4,456.7 L310.5,456.8 L308.5,456.9 L306.6,456.7 L304.6,456.4 L302.6,456.0 L300.6,455.4 L298.6,454.6 L296.7,453.8 L294.7,452.7 L292.9,451.6 L291.0,450.3 L289.2,448.9 L287.5,447.3 L285.8,445.7 L284.2,443.9 L282.7,442.1 L281.2,440.1 L279.9,438.1 L278.6,436.0 L277.5,433.8 L276.4,431.6 L275.5,429.3 L274.7,427.0 L274.0,424.6 L273.4,422.2 L272.9,419.8 L272.6,417.4 L272.4,415.0 L272.3,412.6 L272.3,410.3 L272.5,408.0 L272.8,405.7 L273.2,403.5 L273.7,401.3 L274.4,399.2 L275.1,397.2 L276.0,395.3 Q297,382 293.5,370 L292,357 Q292,343 299,340 Q307,339 310,347 Z" fill="none" stroke="#111" stroke-width="1.0" />
<ellipse cx="303.5" cy="419.5" rx="27" ry="36" transform="rotate(-22 303.5 419.5)" fill="#fff" stroke="#111" stroke-width="1.3"/>
<ellipse cx="302.5" cy="417.5" rx="4.5" ry="5.5" transform="rotate(-10 302.5 417.5)" fill="#fff" stroke="#111" stroke-width="1.1"/>
<path d="M300,405 L302,409 M310,420 L314,423 M298,423 L296,427" fill="none" stroke="#111" stroke-width="2.0" />
<ellipse cx="310.5" cy="341" rx="10" ry="14" transform="rotate(20 310.5 341)" fill="#fff" stroke="#111" stroke-width="1.3"/>
<ellipse cx="311" cy="341" rx="6" ry="8.5" transform="rotate(20 311 341)" fill="none" stroke="#111" stroke-width="1.2"/>
<ellipse cx="297.7" cy="347" rx="10.5" ry="14" transform="rotate(20 297.7 347)" fill="#fff" stroke="#111" stroke-width="1.4"/>
<ellipse cx="298" cy="347" rx="5.5" ry="7.5" transform="rotate(20 298 347)" fill="none" stroke="#111" stroke-width="1.3"/>
<ellipse cx="298" cy="347" rx="3" ry="4.2" transform="rotate(20 298 347)" fill="#fff" stroke="#111" stroke-width="1.2"/>
<path d="M262,426 L270,424 L280,440 L278,448 L266,450 L260,442 Z" fill="#fff" stroke="#111" stroke-width="1.3" />
<ellipse cx="266.5" cy="439" rx="4.5" ry="5.5" transform="rotate(0 266.5 439)" fill="none" stroke="#111" stroke-width="1.2"/>
<ellipse cx="266.5" cy="439" rx="2.2" ry="2.8" transform="rotate(0 266.5 439)" fill="none" stroke="#111" stroke-width="1.1"/>
<ellipse cx="335.6" cy="400.5" rx="5.5" ry="7" transform="rotate(20 335.6 400.5)" fill="#fff" stroke="#111" stroke-width="1.3"/>
<ellipse cx="336" cy="400.5" rx="1.5" ry="1.8" transform="rotate(0 336 400.5)" fill="#333" stroke="#111" stroke-width="1"/>
<path d="M345,391 L353,386 L355,390 L347,395 Z" fill="#fff" stroke="#111" stroke-width="1.1" />
<ellipse cx="354" cy="388" rx="2" ry="2.5" transform="rotate(20 354 388)" fill="#fff" stroke="#111" stroke-width="1.1"/>
<path d="M548.8,378 L548.5,458" fill="none" stroke="#111" stroke-width="1.8" />
<path d="M549,377 Q550,374 551,376" fill="none" stroke="#111" stroke-width="1.2" />
<path d="M546,458 L551,458 L551,473 L546,473 Z" fill="#fff" stroke="#111" stroke-width="1.3" />
<path d="M546,461 L551,461 M546,464 L551,464 M546,467 L551,467 M546,470 L551,470" fill="none" stroke="#111" stroke-width="1.1" />
<path d="M548.5,473 L548.5,477 Q547,479 549,479" fill="none" stroke="#111" stroke-width="1.2" />
<path d="M546.5,405 L550.5,405" fill="none" stroke="#111" stroke-width="1.5" />
<path d="M170.5,397.5 L170.5,428.5" fill="none" stroke="#111" stroke-width="2.8" />
<path d="M170.5,399 L170.5,427" fill="none" stroke="#fff" stroke-width="0.8" stroke-dasharray="1,1" />
<path d="M170.5,433 L170.5,451" fill="none" stroke="#111" stroke-width="2.6" />
<path d="M168.5,450 L172.5,450 L172.5,455 L168.5,455 Z" fill="#fff" stroke="#111" stroke-width="1.2" />
<path d="M170.5,455 L170.5,467 Q167,471 170,475 Q172,477 173,475" fill="none" stroke="#111" stroke-width="1.2" />
<path d="M142,504.6 Q150,492 170.5,482.6 L183.3,480 Q187,482 186,486.3 L183.3,526.6 Q176,540 163,546 L156.7,545 Q150,535 148.5,521 Z" fill="#fff" stroke="#111" stroke-width="1.5" />
<path d="M147,506 L149,520 M151,509 L181,489 L185,488 M152,512 L155,527 Q158,538 163,542 Q176,537 181,525 L183,490" fill="none" stroke="#111" stroke-width="1.1" />
<path d="M148,500 Q150,494 156,499 L154,507" fill="none" stroke="#111" stroke-width="1.2" />
<ellipse cx="163" cy="521" rx="6.2" ry="8.5" transform="rotate(25 163 521)" fill="#fff" stroke="#111" stroke-width="1.5"/>
<ellipse cx="163.5" cy="521.5" rx="4" ry="6" transform="rotate(25 163.5 521.5)" fill="none" stroke="#111" stroke-width="1.0"/>
<path d="M172,484 Q175,482 177,485" fill="none" stroke="#111" stroke-width="1.2" />
<ellipse cx="165" cy="543" rx="1.2" ry="1.2" transform="rotate(0 165 543)" fill="#333" stroke="#111" stroke-width="1"/>
<ellipse cx="148.5" cy="505.5" rx="1.5" ry="1.5" transform="rotate(0 148.5 505.5)" fill="#fff" stroke="#111" stroke-width="1"/>
<ellipse cx="132.5" cy="502.8" rx="4.8" ry="4.5" transform="rotate(0 132.5 502.8)" fill="#fff" stroke="#111" stroke-width="1.3"/>
<ellipse cx="132.5" cy="502.8" rx="2" ry="2" transform="rotate(0 132.5 502.8)" fill="#555" stroke="#111" stroke-width="1.1"/>
<ellipse cx="141.5" cy="534.5" rx="3.2" ry="3" transform="rotate(0 141.5 534.5)" fill="#fff" stroke="#111" stroke-width="1.5"/>
<ellipse cx="141.5" cy="534.5" rx="1.3" ry="1.2" transform="rotate(0 141.5 534.5)" fill="#333" stroke="#111" stroke-width="1.0"/>
<path d="M190,534 L208,546 L206,550 L188,538 Z" fill="#fff" stroke="#111" stroke-width="1.2" />
<ellipse cx="189.5" cy="536.5" rx="2.8" ry="3.5" transform="rotate(30 189.5 536.5)" fill="#fff" stroke="#111" stroke-width="1.2"/>
<path d="M217,543 Q217,538 222,537 L240,532 Q246,533 245,538 Q243,542 236,544 L236,550 L229,560 Q224,561 221,557 L217,549 Z" fill="#fff" stroke="#111" stroke-width="1.4" />
<ellipse cx="221.5" cy="543" rx="1.8" ry="2.2" transform="rotate(0 221.5 543)" fill="none" stroke="#111" stroke-width="1.1"/>
<ellipse cx="240.5" cy="537" rx="1.6" ry="1.9" transform="rotate(0 240.5 537)" fill="none" stroke="#111" stroke-width="1.1"/>
<path d="M224,552 L238,545 Q242,546 241,551 L231,558" fill="none" stroke="#111" stroke-width="1.2" />
<ellipse cx="227" cy="555" rx="3" ry="3.5" transform="rotate(20 227 555)" fill="#fff" stroke="#111" stroke-width="1.2"/>
<path d="M224.0,539.0 L226.1,540.4 L224.4,536.0 L227.8,539.2 L226.1,534.8 L229.5,538.1 L227.8,533.7 L231.2,537.0 L229.5,532.6 L232.9,535.9 L231.2,531.5 L234.6,534.7 L232.8,530.3 L236.2,533.6 L234.5,529.2 L237.9,532.5 L237.5,530.0" fill="none" stroke="#111" stroke-width="1.5"/>
<ellipse cx="254" cy="554" rx="4.5" ry="5" transform="rotate(20 254 554)" fill="#fff" stroke="#111" stroke-width="1.3"/>
<ellipse cx="254" cy="554" rx="2" ry="2.3" transform="rotate(20 254 554)" fill="#555" stroke="#111" stroke-width="1.2"/>
<path d="M254.9,569.6 L350.3,513.8 L356.8,515.4 L386,532.4 Q392,538 390,542 Q388,548 384.3,549.4 L353.6,551 Q352,575 345,588 Q336,600 324.4,608.4 L257.3,644.8 Q254.9,644 254.9,642.4 Z" fill="#fff" stroke="#111" stroke-width="1.5" />
<path d="M263,640.8 L321.2,605.2 Q333,597 341,585 Q349,570 351,551.8" fill="none" stroke="#111" stroke-width="1.1" />
<path d="M257.3,644.8 L263,640.8" fill="none" stroke="#111" stroke-width="1.0" />
<path d="M297,551.8 Q297,546 303.4,543 L350,518 Q358,516 358.4,522 Q358,528 350,532 L322,547 Q318,552 312,554 Q303,557 297,551.8 Z" fill="none" stroke="#111" stroke-width="1.1" />
<path d="M326,548.5 L347,535 L384.3,545.3" fill="none" stroke="#111" stroke-width="1.0" />
<path d="M330,549 L345,539.5 L352,541" fill="none" stroke="#111" stroke-width="1.0" />
<path d="M256.5,572 L279,559 Q292,554 304,560 Q313,566 318,572.8 Q312,566 311.5,558 Q311,552 320,549" fill="none" stroke="#111" stroke-width="1.3" />
<ellipse cx="314.7" cy="545.3" rx="6" ry="4.8" transform="rotate(-25 314.7 545.3)" fill="#fff" stroke="#111" stroke-width="1.4"/>
<ellipse cx="314.7" cy="545.3" rx="3.5" ry="2.6" transform="rotate(-25 314.7 545.3)" fill="#fff" stroke="#111" stroke-width="1.5"/>
<path d="M319,555 L325,553 L329.5,557 L328,562 L322,564 L318,560 Z" fill="#fff" stroke="#111" stroke-width="1.4" />
<ellipse cx="323.7" cy="558.5" rx="2.5" ry="2.8" transform="rotate(0 323.7 558.5)" fill="none" stroke="#111" stroke-width="1.0"/>
<ellipse cx="298.5" cy="572" rx="6.5" ry="8" transform="rotate(20 298.5 572)" fill="#fff" stroke="#111" stroke-width="1.4"/>
<ellipse cx="298.5" cy="572.5" rx="5" ry="6.5" transform="rotate(20 298.5 572.5)" fill="none" stroke="#111" stroke-width="1.0"/>
<path d="M293,586 Q303,582 310,588 Q316,598 312,608 Q305,618 293,617 Q285,612 286,600 Q284,593 289,590 Q287,596 292,599 Q297,596 293,586 Z" fill="none" stroke="#111" stroke-width="1.2" />
<ellipse cx="291.5" cy="594.5" rx="3.5" ry="4" transform="rotate(20 291.5 594.5)" fill="#fff" stroke="#111" stroke-width="1.3"/>
<ellipse cx="291.5" cy="594.5" rx="1.5" ry="2" transform="rotate(20 291.5 594.5)" fill="#444" stroke="#111" stroke-width="1.1"/>
<ellipse cx="280.7" cy="581.7" rx="1.6" ry="1.6" transform="rotate(0 280.7 581.7)" fill="#333" stroke="#111" stroke-width="1.0"/>
<ellipse cx="314.7" cy="602" rx="1.6" ry="1.6" transform="rotate(0 314.7 602)" fill="#333" stroke="#111" stroke-width="1.0"/>
<ellipse cx="290.5" cy="619.7" rx="1.6" ry="1.6" transform="rotate(0 290.5 619.7)" fill="#333" stroke="#111" stroke-width="1.0"/>
<ellipse cx="259.7" cy="623" rx="1.2" ry="1.2" transform="rotate(0 259.7 623)" fill="#333" stroke="#111" stroke-width="1.0"/>
<ellipse cx="259" cy="571.2" rx="1.2" ry="1.2" transform="rotate(0 259 571.2)" fill="#333" stroke="#111" stroke-width="1.0"/>
<ellipse cx="271.8" cy="564.7" rx="1.2" ry="1.2" transform="rotate(0 271.8 564.7)" fill="#333" stroke="#111" stroke-width="1.0"/>
<ellipse cx="336.6" cy="556.6" rx="1.8" ry="1.8" transform="rotate(0 336.6 556.6)" fill="#333" stroke="#111" stroke-width="1.0"/>
<ellipse cx="311" cy="557.5" rx="1.8" ry="1.8" transform="rotate(0 311 557.5)" fill="#333" stroke="#111" stroke-width="1.0"/>
<ellipse cx="313.5" cy="526" rx="1.2" ry="1.2" transform="rotate(0 313.5 526)" fill="#333" stroke="#111" stroke-width="1.0"/>
<ellipse cx="338" cy="534" rx="1.2" ry="1.2" transform="rotate(0 338 534)" fill="#333" stroke="#111" stroke-width="1.0"/>
<ellipse cx="380" cy="537" rx="1.3" ry="1.3" transform="rotate(0 380 537)" fill="#333" stroke="#111" stroke-width="1.0"/>
<ellipse cx="263" cy="630.3" rx="2.5" ry="2.8" transform="rotate(0 263 630.3)" fill="#fff" stroke="#111" stroke-width="1.1"/>
<ellipse cx="263" cy="630.3" rx="1" ry="1" transform="rotate(0 263 630.3)" fill="#333" stroke="#111" stroke-width="1"/>
<path d="M462.3,453.3 L478.8,459.1 L492.4,488.2 Q493,496 488.5,497 L478.8,497 Q476,490 476.9,485 Q474,474 466,471 L461.4,469.8 Z" fill="#fff" stroke="#111" stroke-width="1.4" />
<path d="M475.9,459.1 L488,495" fill="none" stroke="#111" stroke-width="1.1" />
<ellipse cx="464.5" cy="469" rx="1.8" ry="1.5" transform="rotate(0 464.5 469)" fill="none" stroke="#111" stroke-width="1.1"/>
<ellipse cx="489" cy="491.5" rx="1.8" ry="1.8" transform="rotate(0 489 491.5)" fill="none" stroke="#111" stroke-width="1.3"/>
<ellipse cx="465" cy="457" rx="1" ry="1" transform="rotate(0 465 457)" fill="#333" stroke="#111" stroke-width="1"/>
<ellipse cx="485" cy="446.5" rx="2.8" ry="2.5" transform="rotate(0 485 446.5)" fill="#fff" stroke="#111" stroke-width="1.8"/>
<path d="M554,509 L612,477 L614.5,482 L556.5,514 Z" fill="#fff" stroke="#111" stroke-width="1.3" />
<ellipse cx="613.3" cy="479.5" rx="1.8" ry="2.6" transform="rotate(25 613.3 479.5)" fill="#333" stroke="#111" stroke-width="2.0"/>
<path d="M542,515.4 Q542,510 544.9,510.6 L552.6,515.4 L559.4,521.3 Q563,527 563.3,534.8 L565.2,546.5 Q564,550 560.4,549.4 L555.5,538.7 Q554,530 552.6,525.1 Q548,522 544.9,521.3 Q541,519 542,515.4 Z" fill="#fff" stroke="#111" stroke-width="1.5" />
<ellipse cx="546" cy="515.5" rx="2" ry="2.2" transform="rotate(0 546 515.5)" fill="none" stroke="#111" stroke-width="1.2"/>
<ellipse cx="554.5" cy="511" rx="2.8" ry="3.5" transform="rotate(20 554.5 511)" fill="#fff" stroke="#111" stroke-width="1.6"/>
<path d="M555,546 L561,543 Q564,545 562.5,549 L557,551 Z" fill="#fff" stroke="#111" stroke-width="1.2" />
<ellipse cx="556" cy="548.5" rx="2.3" ry="2.6" transform="rotate(20 556 548.5)" fill="#fff" stroke="#111" stroke-width="1.3"/>
<path d="M466,550 L514,574 L510,583.5 L462,559.5 Z" fill="#fff" stroke="#111" stroke-width="1.3" />
<ellipse cx="464" cy="554.7" rx="3.5" ry="5" transform="rotate(25 464 554.7)" fill="#fff" stroke="#111" stroke-width="1.2"/>
<ellipse cx="512" cy="578.8" rx="3.5" ry="5" transform="rotate(25 512 578.8)" fill="#fff" stroke="#111" stroke-width="1.3"/>
<ellipse cx="512" cy="578.8" rx="2" ry="3" transform="rotate(25 512 578.8)" fill="none" stroke="#111" stroke-width="1.0"/>
<path d="M421.6,526.6 L422.5,528.3 L421.9,529.4 L420.1,529.5 L419.4,530.3 L419.5,532.3 L418.6,533.0 L417.1,532.1 L416.3,532.4 L415.5,534.2 L414.5,534.2 L413.9,532.7 L413.1,532.5 L411.7,533.5 L410.9,532.9 L411.2,531.1 L410.7,530.4 L409.0,530.4 L408.6,529.3 L409.8,527.7 L409.7,526.7 L408.2,525.7 L408.3,524.5 L410.0,523.5 L410.4,522.4 L409.5,520.7 L410.1,519.6 L411.9,519.5 L412.6,518.7 L412.5,516.7 L413.4,516.0 L414.9,516.9 L415.7,516.6 L416.5,514.8 L417.5,514.8 L418.1,516.3 L418.9,516.5 L420.3,515.5 L421.1,516.1 L420.8,517.9 L421.3,518.6 L423.0,518.6 L423.4,519.7 L422.2,521.3 L422.3,522.3 L423.8,523.3 L423.7,524.5 L422.0,525.5 Z" fill="#222" stroke="#111" stroke-width="1.2"/>
<path d="M423.6,527.2 L424.5,528.9 L423.9,530.0 L422.1,530.1 L421.4,530.9 L421.5,532.9 L420.6,533.6 L419.1,532.7 L418.3,533.1 L417.5,534.8 L416.5,534.9 L415.9,533.3 L415.1,533.1 L413.7,534.1 L412.9,533.5 L413.2,531.7 L412.7,531.0 L411.0,531.0 L410.6,530.0 L411.8,528.4 L411.7,527.3 L410.2,526.3 L410.3,525.1 L412.0,524.1 L412.4,523.1 L411.5,521.4 L412.1,520.2 L413.9,520.2 L414.6,519.3 L414.5,517.4 L415.4,516.7 L416.9,517.5 L417.7,517.2 L418.5,515.5 L419.5,515.4 L420.1,516.9 L420.9,517.1 L422.3,516.1 L423.1,516.7 L422.8,518.5 L423.3,519.2 L425.0,519.2 L425.4,520.3 L424.2,521.9 L424.3,522.9 L425.8,523.9 L425.7,525.2 L424.0,526.1 Z" fill="#333" stroke="#111" stroke-width="0.6"/>
<path d="M425.6,527.8 L426.5,529.5 L425.9,530.7 L424.1,530.7 L423.4,531.5 L423.5,533.5 L422.6,534.2 L421.1,533.3 L420.3,533.7 L419.5,535.4 L418.5,535.5 L417.9,533.9 L417.1,533.7 L415.7,534.7 L414.9,534.2 L415.2,532.3 L414.7,531.6 L413.0,531.6 L412.6,530.6 L413.8,529.0 L413.7,528.0 L412.2,527.0 L412.3,525.7 L414.0,524.8 L414.4,523.7 L413.5,522.0 L414.1,520.8 L415.9,520.8 L416.6,520.0 L416.5,518.0 L417.4,517.3 L418.9,518.2 L419.7,517.8 L420.5,516.1 L421.5,516.0 L422.1,517.6 L422.9,517.8 L424.3,516.8 L425.1,517.3 L424.8,519.2 L425.3,519.9 L427.0,519.9 L427.4,520.9 L426.2,522.5 L426.3,523.5 L427.8,524.5 L427.7,525.8 L426.0,526.7 Z" fill="#333" stroke="#111" stroke-width="0.6"/>
<path d="M427.6,528.4 L428.5,530.1 L427.9,531.3 L426.1,531.3 L425.4,532.2 L425.5,534.1 L424.6,534.8 L423.1,534.0 L422.3,534.3 L421.5,536.0 L420.5,536.1 L419.9,534.6 L419.1,534.4 L417.7,535.4 L416.9,534.8 L417.2,533.0 L416.7,532.3 L415.0,532.3 L414.6,531.2 L415.8,529.6 L415.7,528.6 L414.2,527.6 L414.3,526.3 L416.0,525.4 L416.4,524.3 L415.5,522.6 L416.1,521.5 L417.9,521.4 L418.6,520.6 L418.5,518.6 L419.4,517.9 L420.9,518.8 L421.7,518.4 L422.5,516.7 L423.5,516.6 L424.1,518.2 L424.9,518.4 L426.3,517.4 L427.1,518.0 L426.8,519.8 L427.3,520.5 L429.0,520.5 L429.4,521.5 L428.2,523.1 L428.3,524.2 L429.8,525.2 L429.7,526.4 L428.0,527.4 Z" fill="#333" stroke="#111" stroke-width="0.6"/>
<path d="M429.6,529.1 L430.5,530.8 L429.9,531.9 L428.1,532.0 L427.4,532.8 L427.5,534.8 L426.6,535.5 L425.1,534.6 L424.3,534.9 L423.5,536.7 L422.5,536.7 L421.9,535.2 L421.1,535.0 L419.7,536.0 L418.9,535.4 L419.2,533.6 L418.7,532.9 L417.0,532.9 L416.6,531.8 L417.8,530.2 L417.7,529.2 L416.2,528.2 L416.3,527.0 L418.0,526.0 L418.4,524.9 L417.5,523.2 L418.1,522.1 L419.9,522.0 L420.6,521.2 L420.5,519.2 L421.4,518.5 L422.9,519.4 L423.7,519.1 L424.5,517.3 L425.5,517.3 L426.1,518.8 L426.9,519.0 L428.3,518.0 L429.1,518.6 L428.8,520.4 L429.3,521.1 L431.0,521.1 L431.4,522.2 L430.2,523.8 L430.3,524.8 L431.8,525.8 L431.7,527.0 L430.0,528.0 Z" fill="#fff" stroke="#111" stroke-width="1.2"/>
<ellipse cx="424.5" cy="527" rx="3.5" ry="5" transform="rotate(20 424.5 527)" fill="#fff" stroke="#111" stroke-width="1.2"/>
<path d="M457.2,543.5 L458.7,545.4 L458.1,546.6 L455.8,546.8 L455.2,547.8 L456.3,550.0 L455.6,551.1 L453.3,550.8 L452.6,551.8 L453.2,554.1 L452.4,555.0 L450.3,554.3 L449.5,555.0 L449.7,557.5 L448.7,558.2 L446.9,557.0 L446.0,557.6 L445.7,560.0 L444.7,560.4 L443.2,558.9 L442.2,559.2 L441.5,561.5 L440.4,561.7 L439.3,559.8 L438.4,559.9 L437.3,561.9 L436.2,561.9 L435.6,559.8 L434.7,559.6 L433.2,561.3 L432.2,561.0 L432.1,558.8 L431.3,558.4 L429.5,559.7 L428.6,559.1 L428.9,556.8 L428.2,556.2 L426.3,557.0 L425.5,556.2 L426.3,554.0 L425.8,553.2 L423.6,553.6 L423.1,552.6 L424.3,550.5 L424.0,549.6 L421.8,549.4 L421.5,548.3 L423.1,546.4 L422.9,545.4 L420.8,544.7 L420.7,543.5 L422.6,542.0 L422.6,540.8 L420.6,539.7 L420.7,538.4 L422.9,537.3 L423.1,536.1 L421.4,534.6 L421.7,533.3 L424.0,532.7 L424.4,531.5 L422.9,529.6 L423.5,528.4 L425.8,528.2 L426.4,527.2 L425.3,525.0 L426.0,523.9 L428.3,524.2 L429.0,523.2 L428.4,520.9 L429.2,520.0 L431.3,520.7 L432.1,520.0 L431.9,517.5 L432.9,516.8 L434.7,518.0 L435.6,517.4 L435.9,515.0 L436.9,514.6 L438.4,516.1 L439.4,515.8 L440.1,513.5 L441.2,513.3 L442.3,515.2 L443.2,515.1 L444.3,513.1 L445.4,513.1 L446.0,515.2 L446.9,515.4 L448.4,513.7 L449.4,514.0 L449.5,516.2 L450.3,516.6 L452.1,515.3 L453.0,515.9 L452.7,518.2 L453.4,518.8 L455.3,518.0 L456.1,518.8 L455.3,521.0 L455.8,521.8 L458.0,521.4 L458.5,522.4 L457.3,524.5 L457.6,525.4 L459.8,525.6 L460.1,526.7 L458.5,528.6 L458.7,529.6 L460.8,530.3 L460.9,531.5 L459.0,533.0 L459.0,534.2 L461.0,535.3 L460.9,536.6 L458.7,537.7 L458.5,538.9 L460.2,540.4 L459.9,541.7 L457.6,542.3 Z" fill="#fff" stroke="#111" stroke-width="1.6"/>
<ellipse cx="450.9" cy="541.1" rx="2.8" ry="4.2" transform="rotate(20 450.9 541.1)" fill="none" stroke="#111" stroke-width="1.3"/>
<ellipse cx="441.6" cy="551.1" rx="2.8" ry="4.2" transform="rotate(20 441.6 551.1)" fill="none" stroke="#111" stroke-width="1.3"/>
<ellipse cx="431.8" cy="547.5" rx="2.8" ry="4.2" transform="rotate(20 431.8 547.5)" fill="none" stroke="#111" stroke-width="1.3"/>
<ellipse cx="431.1" cy="533.9" rx="2.8" ry="4.2" transform="rotate(20 431.1 533.9)" fill="none" stroke="#111" stroke-width="1.3"/>
<ellipse cx="440.4" cy="523.9" rx="2.8" ry="4.2" transform="rotate(20 440.4 523.9)" fill="none" stroke="#111" stroke-width="1.3"/>
<ellipse cx="450.2" cy="527.5" rx="2.8" ry="4.2" transform="rotate(20 450.2 527.5)" fill="none" stroke="#111" stroke-width="1.3"/>
<ellipse cx="442.5" cy="538.5" rx="4.5" ry="6" transform="rotate(20 442.5 538.5)" fill="#fff" stroke="#111" stroke-width="1.2"/>
<ellipse cx="444" cy="540" rx="2.5" ry="3.5" transform="rotate(20 444 540)" fill="#fff" stroke="#111" stroke-width="1.8"/>
<path d="M415.7,561.8 L433.1,521.8 L428.9,520.0 L411.5,560.0 Z" fill="#222" stroke="#111" stroke-width="1.2"/>
<circle cx="414.3" cy="559.4" r="0.8" fill="#aaa"/>
<circle cx="415.6" cy="556.3" r="0.8" fill="#aaa"/>
<circle cx="416.9" cy="553.2" r="0.8" fill="#aaa"/>
<circle cx="418.3" cy="550.1" r="0.8" fill="#aaa"/>
<circle cx="419.6" cy="547.1" r="0.8" fill="#aaa"/>
<circle cx="421.0" cy="544.0" r="0.8" fill="#aaa"/>
<circle cx="422.3" cy="540.9" r="0.8" fill="#aaa"/>
<circle cx="423.6" cy="537.8" r="0.8" fill="#aaa"/>
<circle cx="425.0" cy="534.7" r="0.8" fill="#aaa"/>
<circle cx="426.3" cy="531.7" r="0.8" fill="#aaa"/>
<circle cx="427.7" cy="528.6" r="0.8" fill="#aaa"/>
<circle cx="429.0" cy="525.5" r="0.8" fill="#aaa"/>
<circle cx="430.3" cy="522.4" r="0.8" fill="#aaa"/>
<path d="M529.7,551.5 L534,551.5 L534,565.5 L529.7,565.5 Z" fill="#fff" stroke="#111" stroke-width="1.1" />
<path d="M553.9,600.8 L555.3,602.7 L554.8,604.0 L552.4,604.2 L551.8,605.3 L552.9,607.5 L552.1,608.7 L549.8,608.4 L549.1,609.4 L549.7,611.8 L548.8,612.7 L546.7,612.0 L545.9,612.8 L546.0,615.3 L545.0,616.0 L543.2,614.9 L542.2,615.5 L541.9,617.9 L540.9,618.4 L539.3,616.9 L538.3,617.2 L537.6,619.5 L536.5,619.7 L535.4,617.9 L534.4,618.0 L533.3,620.0 L532.2,619.9 L531.5,617.8 L530.6,617.7 L529.1,619.4 L528.1,619.0 L527.9,616.8 L527.1,616.4 L525.3,617.7 L524.4,617.1 L524.7,614.8 L524.0,614.1 L522.0,615.0 L521.2,614.1 L522.0,611.9 L521.4,611.1 L519.3,611.4 L518.8,610.3 L520.0,608.3 L519.6,607.2 L517.4,607.0 L517.1,605.9 L518.7,604.0 L518.5,602.9 L516.4,602.2 L516.3,600.9 L518.2,599.4 L518.2,598.1 L516.3,597.0 L516.4,595.6 L518.5,594.5 L518.7,593.3 L517.0,591.7 L517.4,590.4 L519.7,589.6 L520.1,588.4 L518.7,586.5 L519.2,585.2 L521.6,585.0 L522.2,583.9 L521.1,581.7 L521.9,580.5 L524.2,580.8 L524.9,579.8 L524.3,577.4 L525.2,576.5 L527.3,577.2 L528.1,576.4 L528.0,573.9 L529.0,573.2 L530.8,574.3 L531.8,573.7 L532.1,571.3 L533.1,570.8 L534.7,572.3 L535.7,572.0 L536.4,569.7 L537.5,569.5 L538.6,571.3 L539.6,571.2 L540.7,569.2 L541.8,569.3 L542.5,571.4 L543.4,571.5 L544.9,569.8 L545.9,570.2 L546.1,572.4 L546.9,572.8 L548.7,571.5 L549.6,572.1 L549.3,574.4 L550.0,575.1 L552.0,574.2 L552.8,575.1 L552.0,577.3 L552.6,578.1 L554.7,577.8 L555.2,578.9 L554.0,580.9 L554.4,582.0 L556.6,582.2 L556.9,583.3 L555.3,585.2 L555.5,586.3 L557.6,587.0 L557.7,588.3 L555.8,589.8 L555.8,591.1 L557.7,592.2 L557.6,593.6 L555.5,594.7 L555.3,595.9 L557.0,597.5 L556.6,598.8 L554.3,599.6 Z" fill="#fff" stroke="#111" stroke-width="1.6"/>
<ellipse cx="545.2" cy="601.6" rx="2.8" ry="4.2" transform="rotate(20 545.2 601.6)" fill="none" stroke="#111" stroke-width="1.3"/>
<ellipse cx="534.8" cy="608.7" rx="2.8" ry="4.2" transform="rotate(20 534.8 608.7)" fill="none" stroke="#111" stroke-width="1.3"/>
<ellipse cx="526.5" cy="601.7" rx="2.8" ry="4.2" transform="rotate(20 526.5 601.7)" fill="none" stroke="#111" stroke-width="1.3"/>
<ellipse cx="528.8" cy="587.6" rx="2.8" ry="4.2" transform="rotate(20 528.8 587.6)" fill="none" stroke="#111" stroke-width="1.3"/>
<ellipse cx="539.2" cy="580.5" rx="2.8" ry="4.2" transform="rotate(20 539.2 580.5)" fill="none" stroke="#111" stroke-width="1.3"/>
<ellipse cx="547.5" cy="587.5" rx="2.8" ry="4.2" transform="rotate(20 547.5 587.5)" fill="none" stroke="#111" stroke-width="1.3"/>
<ellipse cx="538" cy="595" rx="5.5" ry="7" transform="rotate(20 538 595)" fill="#fff" stroke="#111" stroke-width="1.4"/>
<ellipse cx="538.5" cy="595.5" rx="3" ry="3.8" transform="rotate(20 538.5 595.5)" fill="#555" stroke="#111" stroke-width="1.6"/>
<path d="M494.4,614.4 L526.1,587.2 L523.1,583.8 L491.4,611.0 Z" fill="#222" stroke="#111" stroke-width="1.2"/>
<circle cx="494.1" cy="611.7" r="0.8" fill="#aaa"/>
<circle cx="496.6" cy="609.6" r="0.8" fill="#aaa"/>
<circle cx="499.0" cy="607.5" r="0.8" fill="#aaa"/>
<circle cx="501.4" cy="605.4" r="0.8" fill="#aaa"/>
<circle cx="503.9" cy="603.3" r="0.8" fill="#aaa"/>
<circle cx="506.3" cy="601.2" r="0.8" fill="#aaa"/>
<circle cx="508.8" cy="599.1" r="0.8" fill="#aaa"/>
<circle cx="511.2" cy="597.0" r="0.8" fill="#aaa"/>
<circle cx="513.6" cy="594.9" r="0.8" fill="#aaa"/>
<circle cx="516.1" cy="592.8" r="0.8" fill="#aaa"/>
<circle cx="518.5" cy="590.7" r="0.8" fill="#aaa"/>
<circle cx="520.9" cy="588.6" r="0.8" fill="#aaa"/>
<circle cx="523.4" cy="586.5" r="0.8" fill="#aaa"/>
<path d="M528.5,623 L536,620 M530,619 L533,626" fill="none" stroke="#111" stroke-width="1.3" />
<ellipse cx="558.3" cy="605.4" rx="5.5" ry="7" transform="rotate(15 558.3 605.4)" fill="#fff" stroke="#111" stroke-width="1.3"/>
<ellipse cx="558.3" cy="605.4" rx="2.3" ry="3" transform="rotate(15 558.3 605.4)" fill="none" stroke="#111" stroke-width="1.0"/>
<path d="M580.8,616.1 L581.9,617.8 L581.3,619.1 L579.3,619.2 L578.5,620.0 L578.5,622.1 L577.4,622.8 L575.9,621.7 L574.9,621.9 L573.8,623.5 L572.6,623.3 L572.2,621.4 L571.4,620.9 L569.6,621.4 L568.8,620.5 L569.5,618.5 L569.2,617.5 L567.4,616.7 L567.3,615.3 L569.0,614.1 L569.2,612.9 L568.1,611.2 L568.7,609.9 L570.7,609.8 L571.5,609.0 L571.5,606.9 L572.6,606.2 L574.1,607.3 L575.1,607.1 L576.2,605.5 L577.4,605.7 L577.8,607.6 L578.6,608.1 L580.4,607.6 L581.2,608.5 L580.5,610.5 L580.8,611.5 L582.6,612.3 L582.7,613.7 L581.0,614.9 Z" fill="#222" stroke="#111" stroke-width="1.2"/>
<path d="M581.8,616.6 L582.9,618.3 L582.3,619.6 L580.3,619.7 L579.5,620.5 L579.5,622.6 L578.4,623.3 L576.9,622.2 L575.9,622.4 L574.8,624.0 L573.6,623.8 L573.2,621.9 L572.4,621.4 L570.6,621.9 L569.8,621.0 L570.5,619.0 L570.2,618.0 L568.4,617.2 L568.3,615.8 L570.0,614.6 L570.2,613.4 L569.1,611.7 L569.7,610.4 L571.7,610.3 L572.5,609.5 L572.5,607.4 L573.6,606.7 L575.1,607.8 L576.1,607.6 L577.2,606.0 L578.4,606.2 L578.8,608.1 L579.6,608.6 L581.4,608.1 L582.2,609.0 L581.5,611.0 L581.8,612.0 L583.6,612.8 L583.7,614.2 L582.0,615.4 Z" fill="#333" stroke="#111" stroke-width="0.6"/>
<path d="M582.8,617.1 L583.9,618.8 L583.3,620.1 L581.3,620.2 L580.5,621.0 L580.5,623.1 L579.4,623.8 L577.9,622.7 L576.9,622.9 L575.8,624.5 L574.6,624.3 L574.2,622.4 L573.4,621.9 L571.6,622.4 L570.8,621.5 L571.5,619.5 L571.2,618.5 L569.4,617.7 L569.3,616.3 L571.0,615.1 L571.2,613.9 L570.1,612.2 L570.7,610.9 L572.7,610.8 L573.5,610.0 L573.5,607.9 L574.6,607.2 L576.1,608.3 L577.1,608.1 L578.2,606.5 L579.4,606.7 L579.8,608.6 L580.6,609.1 L582.4,608.6 L583.2,609.5 L582.5,611.5 L582.8,612.5 L584.6,613.3 L584.7,614.7 L583.0,615.9 Z" fill="#333" stroke="#111" stroke-width="0.6"/>
<path d="M583.8,617.6 L584.9,619.3 L584.3,620.6 L582.3,620.7 L581.5,621.5 L581.5,623.6 L580.4,624.3 L578.9,623.2 L577.9,623.4 L576.8,625.0 L575.6,624.8 L575.2,622.9 L574.4,622.4 L572.6,622.9 L571.8,622.0 L572.5,620.0 L572.2,619.0 L570.4,618.2 L570.3,616.8 L572.0,615.6 L572.2,614.4 L571.1,612.7 L571.7,611.4 L573.7,611.3 L574.5,610.5 L574.5,608.4 L575.6,607.7 L577.1,608.8 L578.1,608.6 L579.2,607.0 L580.4,607.2 L580.8,609.1 L581.6,609.6 L583.4,609.1 L584.2,610.0 L583.5,612.0 L583.8,613.0 L585.6,613.8 L585.7,615.2 L584.0,616.4 Z" fill="#333" stroke="#111" stroke-width="0.6"/>
<path d="M584.8,618.1 L585.9,619.8 L585.3,621.1 L583.3,621.2 L582.5,622.0 L582.5,624.1 L581.4,624.8 L579.9,623.7 L578.9,623.9 L577.8,625.5 L576.6,625.3 L576.2,623.4 L575.4,622.9 L573.6,623.4 L572.8,622.5 L573.5,620.5 L573.2,619.5 L571.4,618.7 L571.3,617.3 L573.0,616.1 L573.2,614.9 L572.1,613.2 L572.7,611.9 L574.7,611.8 L575.5,611.0 L575.5,608.9 L576.6,608.2 L578.1,609.3 L579.1,609.1 L580.2,607.5 L581.4,607.7 L581.8,609.6 L582.6,610.1 L584.4,609.6 L585.2,610.5 L584.5,612.5 L584.8,613.5 L586.6,614.3 L586.7,615.7 L585.0,616.9 Z" fill="#fff" stroke="#111" stroke-width="1.2"/>
<ellipse cx="579.5" cy="616.5" rx="2.5" ry="3.3" transform="rotate(15 579.5 616.5)" fill="#fff" stroke="#111" stroke-width="1.2"/>
<ellipse cx="357" cy="605" rx="7" ry="8.3" transform="rotate(15 357 605)" fill="#fff" stroke="#111" stroke-width="1.5"/>
<ellipse cx="357.5" cy="605.5" rx="2.5" ry="3" transform="rotate(15 357.5 605.5)" fill="none" stroke="#111" stroke-width="1.2"/>
<ellipse cx="392.5" cy="627.5" rx="20.5" ry="24" transform="rotate(12 392.5 627.5)" fill="#fff" stroke="#111" stroke-width="1.2"/>
<ellipse cx="394" cy="627.5" rx="20.5" ry="24" transform="rotate(12 394 627.5)" fill="#fff" stroke="#111" stroke-width="1.2"/>
<ellipse cx="395.5" cy="627.5" rx="20.5" ry="24" transform="rotate(12 395.5 627.5)" fill="#fff" stroke="#111" stroke-width="1.2"/>
<ellipse cx="397" cy="627.5" rx="20.5" ry="24" transform="rotate(12 397 627.5)" fill="#fff" stroke="#111" stroke-width="1.2"/>
<ellipse cx="402" cy="627" rx="15.5" ry="19.5" transform="rotate(12 402 627)" fill="#fff" stroke="#111" stroke-width="1.1"/>
<path d="M392,614 Q395,609 402,609 L404,617 Z M389,637 Q393,644 400,645 L401,637 Z" fill="none" stroke="#111" stroke-width="1.1" />
<path d="M393,615 L396,617 M391,637 L394,638" fill="none" stroke="#111" stroke-width="2.2" />
<ellipse cx="405" cy="628" rx="9" ry="11.5" transform="rotate(12 405 628)" fill="#fff" stroke="#111" stroke-width="1.4"/>
<ellipse cx="405.5" cy="628" rx="6.5" ry="8.5" transform="rotate(12 405.5 628)" fill="none" stroke="#111" stroke-width="1.2"/>
<ellipse cx="406" cy="628" rx="3.8" ry="5" transform="rotate(12 406 628)" fill="#fff" stroke="#111" stroke-width="2.2"/>
<path d="M414,617 L418,622 L416,631 L411,627" fill="none" stroke="#111" stroke-width="1.1" />
<path d="M368,613 L380,607.5 L384,615 L372,620.5 Z" fill="#fff" stroke="#111" stroke-width="0.01" />
<path d="M368,613 L380,607.5 M372,620.5 L384,615" fill="none" stroke="#111" stroke-width="1.3" />
<ellipse cx="370" cy="616.8" rx="2.4" ry="4" transform="rotate(25 370 616.8)" fill="#fff" stroke="#111" stroke-width="1.4"/>
<path d="M374,611.5 L376.5,618.5 M377,610 L379.5,617" fill="none" stroke="#111" stroke-width="1.0" />
<path d="M404,631 L434,644 L431,651.5 L401,638.5 Z" fill="#fff" stroke="#111" stroke-width="1.3" />
<ellipse cx="431" cy="645" rx="5" ry="6.5" transform="rotate(20 431 645)" fill="#fff" stroke="#111" stroke-width="1.2"/>
<path d="M432,648 L442,652 L440,657 L430,653 Z" fill="#fff" stroke="#111" stroke-width="1.1" />
<ellipse cx="441" cy="654.5" rx="2" ry="3" transform="rotate(20 441 654.5)" fill="#fff" stroke="#111" stroke-width="1.1"/>
<path d="M418.3,680.8 L432.5,643.8 L428.5,642.2 L414.3,679.2 Z" fill="#222" stroke="#111" stroke-width="1.2"/>
<circle cx="416.9" cy="678.5" r="0.8" fill="#aaa"/>
<circle cx="418.1" cy="675.4" r="0.8" fill="#aaa"/>
<circle cx="419.3" cy="672.3" r="0.8" fill="#aaa"/>
<circle cx="420.4" cy="669.2" r="0.8" fill="#aaa"/>
<circle cx="421.6" cy="666.1" r="0.8" fill="#aaa"/>
<circle cx="422.8" cy="663.0" r="0.8" fill="#aaa"/>
<circle cx="424.0" cy="660.0" r="0.8" fill="#aaa"/>
<circle cx="425.2" cy="656.9" r="0.8" fill="#aaa"/>
<circle cx="426.4" cy="653.8" r="0.8" fill="#aaa"/>
<circle cx="427.5" cy="650.7" r="0.8" fill="#aaa"/>
<circle cx="428.7" cy="647.6" r="0.8" fill="#aaa"/>
<circle cx="429.9" cy="644.5" r="0.8" fill="#aaa"/>
<ellipse cx="450" cy="660" rx="4" ry="5.2" transform="rotate(20 450 660)" fill="#fff" stroke="#111" stroke-width="1.3"/>
<path d="M452,655 L459,658.5 L456,667 L449,664.5 Z" fill="#fff" stroke="#111" stroke-width="0.01" />
<path d="M452,655 L459,658.5 M456,667 L449,664.5" fill="none" stroke="#111" stroke-width="1.3" />
<ellipse cx="457.5" cy="662.8" rx="4" ry="5.2" transform="rotate(20 457.5 662.8)" fill="#fff" stroke="#111" stroke-width="1.4"/>
<ellipse cx="472" cy="670.8" rx="8" ry="7.8" transform="rotate(15 472 670.8)" fill="#fff" stroke="#111" stroke-width="1.4"/>
<ellipse cx="472" cy="671" rx="3.5" ry="3.5" transform="rotate(15 472 671)" fill="none" stroke="#111" stroke-width="1.1"/>
<path d="M399.0,595.0 L399.0,604.0" fill="none" stroke="#111" stroke-width="1.2"/>
<ellipse cx="399" cy="583.6" rx="11" ry="11" transform="rotate(0 399 583.6)" fill="#fff" stroke="#111" stroke-width="1.0"/>
<text x="399" y="588.1" font-size="12.5" text-anchor="middle">43</text>
<path d="M502,661 Q503,654 512,654 Q522,653 532,653 L575,637.7 Q581,643 579,648 Q576,653 571,655 L593,654 Q598,656 596,660 L610,658 L611.4,686 Q612,700 610,703 Q607,714 601.6,721.2 L583,750 L513.3,787.5 L513.3,712.7 L516,710 L521.6,703 Q528,700 528.7,690.3 L520.2,686.1 Q508,678 503.4,666.5 Z" fill="#fff" stroke="#111" stroke-width="1.5" />
<path d="M507,664 Q508,658 516,658 L540,656 L592,657 Q596,660 590,664 L543,688 Q536,692 530,688 Q525,683 516,678 Q508,672 507,664 Z" fill="none" stroke="#111" stroke-width="1.1" />
<path d="M532,656 L563,664 L566,657" fill="none" stroke="#111" stroke-width="1.0" />
<path d="M533,656 L547,661 L562,658 L553,655" fill="none" stroke="#111" stroke-width="1.0" />
<ellipse cx="545" cy="657" rx="2" ry="2.5" transform="rotate(-30 545 657)" fill="none" stroke="#111" stroke-width="1.0"/>
<path d="M513.2,712.7 L610,658" fill="none" stroke="#111" stroke-width="1.3" />
<path d="M516,716.5 L537,705.5" fill="none" stroke="#111" stroke-width="1.0" />
<path d="M528.7,690.3 L610,664" fill="none" stroke="#111" stroke-width="1.0" />
<ellipse cx="551" cy="677.7" rx="7" ry="4.8" transform="rotate(-25 551 677.7)" fill="#fff" stroke="#111" stroke-width="1.5"/>
<ellipse cx="551" cy="677.7" rx="4" ry="2.5" transform="rotate(-25 551 677.7)" fill="#fff" stroke="#111" stroke-width="1.6"/>
<ellipse cx="518.8" cy="670" rx="1.5" ry="1.5" transform="rotate(0 518.8 670)" fill="#333" stroke="#111" stroke-width="1.0"/>
<ellipse cx="541.3" cy="683.3" rx="1.5" ry="1.5" transform="rotate(0 541.3 683.3)" fill="#333" stroke="#111" stroke-width="1.0"/>
<ellipse cx="563.7" cy="670" rx="1.5" ry="1.5" transform="rotate(0 563.7 670)" fill="#333" stroke="#111" stroke-width="1.0"/>
<ellipse cx="574.2" cy="664.4" rx="1.5" ry="1.5" transform="rotate(0 574.2 664.4)" fill="#333" stroke="#111" stroke-width="1.0"/>
<ellipse cx="606.5" cy="669.3" rx="1.6" ry="1.6" transform="rotate(0 606.5 669.3)" fill="#333" stroke="#111" stroke-width="1.0"/>
<ellipse cx="573" cy="703" rx="1.3" ry="1.3" transform="rotate(0 573 703)" fill="#333" stroke="#111" stroke-width="1.0"/>
<ellipse cx="595" cy="702" rx="1.3" ry="1.3" transform="rotate(0 595 702)" fill="#333" stroke="#111" stroke-width="1.0"/>
<ellipse cx="519" cy="719" rx="1.2" ry="1.2" transform="rotate(0 519 719)" fill="#333" stroke="#111" stroke-width="1.0"/>
<ellipse cx="525" cy="716.5" rx="1.4" ry="1.4" transform="rotate(0 525 716.5)" fill="#333" stroke="#111" stroke-width="1.0"/>
<ellipse cx="529" cy="740" rx="1.4" ry="1.4" transform="rotate(0 529 740)" fill="#333" stroke="#111" stroke-width="1.0"/>
<ellipse cx="535" cy="739" rx="1.4" ry="1.4" transform="rotate(0 535 739)" fill="#333" stroke="#111" stroke-width="1.0"/>
<ellipse cx="518" cy="766" rx="1.4" ry="1.4" transform="rotate(0 518 766)" fill="#333" stroke="#111" stroke-width="1.0"/>
<ellipse cx="532" cy="711.5" rx="2" ry="2.8" transform="rotate(20 532 711.5)" fill="#fff" stroke="#111" stroke-width="1.2"/>
<ellipse cx="519" cy="776" rx="2.5" ry="3" transform="rotate(0 519 776)" fill="#555" stroke="#111" stroke-width="1.2"/>
<path d="M578,704 L582,699 L586,702 L584,710 L580,712 Z" fill="#fff" stroke="#111" stroke-width="1.2" />
<ellipse cx="557" cy="717" rx="6.5" ry="8.5" transform="rotate(20 557 717)" fill="#fff" stroke="#111" stroke-width="1.5"/>
<ellipse cx="558" cy="717.5" rx="5" ry="7" transform="rotate(20 558 717.5)" fill="none" stroke="#111" stroke-width="1.0"/>
<path d="M549,729 Q560,723 570,730 Q576,742 572,755 Q565,764 552,763 Q544,755 545,745 Q540,740 543,735 Q548,735 549,729 Z" fill="none" stroke="#111" stroke-width="1.2" />
<path d="M579.4,752.9 L616.1,727 Q621,728 622.6,735.6 Q625,748 624.7,760.4 Q622,778 612.9,789.5 Q608,792 603.2,791.7 L592.4,790 Q587,783 584.8,775.5 Q581,764 579.4,752.9 Z" fill="#fff" stroke="#111" stroke-width="1.5" />
<path d="M582,756 L618,731.5 M591.3,756 L622.5,735.6" fill="none" stroke="#111" stroke-width="1.2" />
<path d="M591.3,756 Q587,762 590,768 Q594,774 595.6,775.5 Q596,782 598,788" fill="none" stroke="#111" stroke-width="1.1" />
<path d="M599.5,745 L604,749" fill="none" stroke="#111" stroke-width="1.0" />
<path d="M612,734 L616,732" fill="none" stroke="#111" stroke-width="1.8" />
<ellipse cx="582.1" cy="752.3" rx="2.6" ry="2.6" transform="rotate(0 582.1 752.3)" fill="#fff" stroke="#111" stroke-width="2.2"/>
<ellipse cx="616.1" cy="727" rx="2.6" ry="2.6" transform="rotate(0 616.1 727)" fill="#fff" stroke="#111" stroke-width="2.2"/>
<ellipse cx="592" cy="789.5" rx="2.4" ry="2.4" transform="rotate(0 592 789.5)" fill="#fff" stroke="#111" stroke-width="2.0"/>
<ellipse cx="600.5" cy="766.8" rx="3.6" ry="3.8" transform="rotate(0 600.5 766.8)" fill="#fff" stroke="#111" stroke-width="2.4"/>
<ellipse cx="610.7" cy="774.4" rx="6" ry="8.5" transform="rotate(25 610.7 774.4)" fill="#fff" stroke="#111" stroke-width="2.2"/>
<ellipse cx="610.7" cy="774.4" rx="3.8" ry="6" transform="rotate(25 610.7 774.4)" fill="none" stroke="#111" stroke-width="1.2"/>
<path d="M607,779 L614,769" fill="none" stroke="#111" stroke-width="1.2" />
<path d="M600,710.5 L643,735.5 L640.5,743 L597.5,718 Z" fill="#fff" stroke="#111" stroke-width="1.3" />
<ellipse cx="598.5" cy="714.2" rx="3" ry="4.2" transform="rotate(25 598.5 714.2)" fill="#fff" stroke="#111" stroke-width="1.2"/>
<ellipse cx="641.5" cy="739.2" rx="3" ry="4.2" transform="rotate(25 641.5 739.2)" fill="#fff" stroke="#111" stroke-width="1.4"/>
<path d="M633,733 L640,737 L638.5,741 L631.5,737 Z" fill="#fff" stroke="#111" stroke-width="1.0" />
<ellipse cx="642" cy="739" rx="2.8" ry="3.8" transform="rotate(25 642 739)" fill="#fff" stroke="#111" stroke-width="2.0"/>
<ellipse cx="647.5" cy="743" rx="4.5" ry="7.5" transform="rotate(25 647.5 743)" fill="#fff" stroke="#111" stroke-width="1.4"/>
<path d="M651,736 L676,750 L670,764 L645,750 Z" fill="#fff" stroke="#111" stroke-width="0.01" />
<path d="M651,736 L676,750 M670,764 L645,750" fill="none" stroke="#111" stroke-width="1.4" />
<ellipse cx="673" cy="757" rx="4.5" ry="7.5" transform="rotate(25 673 757)" fill="#fff" stroke="#111" stroke-width="1.5"/>
<ellipse cx="673" cy="757" rx="2.6" ry="4.5" transform="rotate(25 673 757)" fill="none" stroke="#111" stroke-width="1.2"/>
<path d="M547.5,800 L553.5,800 L553.5,804 L547.5,804 Z" fill="#fff" stroke="#111" stroke-width="1.4" />
<path d="M548.5,804 L552.5,804 L552.5,811 Q550.5,813 548.5,811 Z" fill="#fff" stroke="#111" stroke-width="1.3" />
<path d="M548.5,807 L552.5,807" fill="none" stroke="#111" stroke-width="0.9" />
<path d="M569.5,776 L576,779 L574,784 L567.5,781 Z" fill="#fff" stroke="#111" stroke-width="1.1" />
<ellipse cx="577" cy="781" rx="2.2" ry="2.6" transform="rotate(20 577 781)" fill="#fff" stroke="#111" stroke-width="1.2"/>
<path d="M532,835.5 L537.4,831.7 L560,825.7 Q563,826 562.5,829 L563,842.3 L546.5,852 L545,840 L541,838 L540,843 L536,842 L533,839 Z" fill="#fff" stroke="#111" stroke-width="1.4" />
<path d="M545,840 L560.5,830 M537.4,831.7 L545,840" fill="none" stroke="#111" stroke-width="1.1" />
<ellipse cx="538" cy="836" rx="1.6" ry="1.3" transform="rotate(0 538 836)" fill="none" stroke="#111" stroke-width="1.0"/>
<ellipse cx="551" cy="843.5" rx="1.4" ry="1.8" transform="rotate(0 551 843.5)" fill="#333" stroke="#111" stroke-width="1.3"/>
<ellipse cx="556.5" cy="840.5" rx="1.2" ry="1.5" transform="rotate(0 556.5 840.5)" fill="none" stroke="#111" stroke-width="1.0"/>
<path d="M548,847 L551,845" fill="none" stroke="#111" stroke-width="1.0" />
<path d="M518.5,843 L531.5,849.8" fill="none" stroke="#111" stroke-width="1.6" />
<path d="M562.3,836.3 L568.4,834.5" fill="none" stroke="#111" stroke-width="1.5" />
<ellipse cx="536.6" cy="849" rx="6" ry="4.2" transform="rotate(-10 536.6 849)" fill="#fff" stroke="#111" stroke-width="2.4"/>
<ellipse cx="536.6" cy="849" rx="2.8" ry="1.8" transform="rotate(-10 536.6 849)" fill="#555" stroke="#111" stroke-width="1.2"/>
<path d="M534,856.5 L538.5,856.5 L538,867 Q536,869 534,867 Z" fill="#fff" stroke="#111" stroke-width="1.2" />
<path d="M534,860 L538.5,860 M534,863 L538.5,863" fill="none" stroke="#111" stroke-width="0.8" />
<path d="M563.0,843.0 L570.0,847.0" fill="none" stroke="#111" stroke-width="1.0"/>
<path d="M571,846 L575,845 L578.2,848 L577,851.5 L573,852 L570.5,849 Z" fill="#fff" stroke="#111" stroke-width="1.6" />
<ellipse cx="574.3" cy="848.7" rx="1.3" ry="1.3" transform="rotate(0 574.3 848.7)" fill="#333" stroke="#111" stroke-width="1"/>
<path d="M670.0,613.0 L700.0,631.0" fill="none" stroke="#111" stroke-width="1.0"/>
<path d="M665.5,616.5 Q663,609 668.5,608 Q673,608 672.6,613 L670,617 Z" fill="#fff" stroke="#111" stroke-width="1.4" />
<path d="M665.5,617 L672.5,617 L673,640 Q671,643 667,641.5 L665.5,640 Z" fill="#fff" stroke="#111" stroke-width="1.4" />
<path d="M666,628 L672.5,628" fill="none" stroke="#111" stroke-width="1.0" />
<ellipse cx="669" cy="634" rx="1" ry="1" transform="rotate(0 669 634)" fill="#333" stroke="#111" stroke-width="1"/>
<ellipse cx="682.5" cy="621.5" rx="5" ry="5.5" transform="rotate(15 682.5 621.5)" fill="#fff" stroke="#111" stroke-width="2.8"/>
<ellipse cx="682.5" cy="621.5" rx="2.2" ry="2.6" transform="rotate(15 682.5 621.5)" fill="#555" stroke="#111" stroke-width="1.2"/>
<path d="M694,628 L701,631.5 L699,635.5 L692,632 Z" fill="#fff" stroke="#111" stroke-width="1.3" />
<ellipse cx="702" cy="633.5" rx="2" ry="2.6" transform="rotate(20 702 633.5)" fill="#444" stroke="#111" stroke-width="1.5"/>
<path d="M676.5,633 L680,630.3 L683.3,632.5 L683,635.5 L679.5,636.5 L676.5,635 Z" fill="#444" stroke="#111" stroke-width="1.6" />
<path d="M691.2,449.6 L667,543.4" fill="none" stroke="#111" stroke-width="2.0" />
<path d="M689,458 L693,458 M676,492 L681,493" fill="none" stroke="#111" stroke-width="1.2" />
<path d="M665,528 L671,530 L667,544 L662,542 Z" fill="#fff" stroke="#111" stroke-width="1.2" />
<ellipse cx="279.5" cy="655.5" rx="6.5" ry="8" transform="rotate(20 279.5 655.5)" fill="#444" stroke="#111" stroke-width="2.2"/>
<ellipse cx="280" cy="655.5" rx="3" ry="4" transform="rotate(20 280 655.5)" fill="#fff" stroke="#111" stroke-width="1.2"/>
<ellipse cx="292.6" cy="661.8" rx="4.5" ry="5.5" transform="rotate(20 292.6 661.8)" fill="#fff" stroke="#111" stroke-width="1.3"/>
<ellipse cx="292.6" cy="661.8" rx="1.8" ry="2.3" transform="rotate(20 292.6 661.8)" fill="none" stroke="#111" stroke-width="1.0"/>
<path d="M311,655 Q304,656 306,664 Q309,670 314,667" fill="none" stroke="#111" stroke-width="1.5" />
<path d="M327.1,680.6 L328.9,683.0 L328.2,684.7 L325.4,685.1 L324.6,686.5 L325.5,689.4 L324.3,690.7 L321.8,690.0 L320.7,691.0 L320.5,694.0 L319.2,694.7 L317.2,693.0 L316.0,693.4 L314.9,696.1 L313.4,696.1 L312.4,693.7 L311.2,693.4 L309.3,695.3 L308.0,694.7 L308.0,691.8 L307.1,691.0 L304.6,691.8 L303.7,690.6 L304.8,687.8 L304.3,686.6 L301.6,686.2 L301.2,684.5 L303.3,682.3 L303.2,680.7 L300.8,679.2 L300.9,677.4 L303.5,676.0 L303.9,674.4 L302.1,672.0 L302.8,670.3 L305.6,669.9 L306.4,668.5 L305.5,665.6 L306.7,664.3 L309.2,665.0 L310.3,664.0 L310.5,661.0 L311.8,660.3 L313.8,662.0 L315.0,661.6 L316.1,658.9 L317.6,658.9 L318.6,661.3 L319.8,661.6 L321.7,659.7 L323.0,660.3 L323.0,663.2 L323.9,664.0 L326.4,663.2 L327.3,664.4 L326.2,667.2 L326.7,668.4 L329.4,668.8 L329.8,670.5 L327.7,672.7 L327.8,674.3 L330.2,675.8 L330.1,677.6 L327.5,679.0 Z" fill="#222" stroke="#111" stroke-width="1.3"/>
<path d="M328.3,681.0 L330.1,683.4 L329.4,685.1 L326.6,685.5 L325.8,686.8 L326.7,689.8 L325.6,691.1 L323.0,690.4 L321.9,691.3 L321.8,694.4 L320.4,695.1 L318.4,693.4 L317.2,693.8 L316.1,696.4 L314.7,696.5 L313.6,694.0 L312.5,693.8 L310.5,695.7 L309.2,695.1 L309.3,692.2 L308.4,691.4 L305.9,692.2 L305.0,691.0 L306.1,688.2 L305.5,687.0 L302.9,686.6 L302.5,684.9 L304.5,682.7 L304.4,681.1 L302.0,679.6 L302.2,677.8 L304.8,676.4 L305.2,674.8 L303.4,672.4 L304.1,670.7 L306.9,670.3 L307.7,668.9 L306.8,666.0 L307.9,664.6 L310.5,665.4 L311.6,664.4 L311.7,661.4 L313.1,660.6 L315.1,662.4 L316.3,662.0 L317.4,659.3 L318.8,659.2 L319.9,661.7 L321.0,661.9 L323.0,660.1 L324.3,660.7 L324.2,663.5 L325.1,664.3 L327.6,663.5 L328.5,664.8 L327.4,667.5 L328.0,668.8 L330.6,669.2 L331.0,670.8 L329.0,673.1 L329.1,674.7 L331.5,676.1 L331.3,678.0 L328.7,679.4 Z" fill="#333" stroke="#111" stroke-width="0.6"/>
<path d="M329.6,681.4 L331.4,683.7 L330.7,685.5 L327.9,685.8 L327.1,687.2 L328.0,690.1 L326.8,691.5 L324.3,690.8 L323.2,691.7 L323.0,694.7 L321.7,695.5 L319.7,693.8 L318.5,694.2 L317.4,696.8 L315.9,696.9 L314.9,694.4 L313.7,694.2 L311.8,696.1 L310.5,695.4 L310.5,692.6 L309.6,691.8 L307.1,692.6 L306.2,691.4 L307.3,688.6 L306.8,687.3 L304.1,687.0 L303.7,685.3 L305.8,683.0 L305.7,681.5 L303.3,680.0 L303.4,678.2 L306.0,676.7 L306.4,675.1 L304.6,672.8 L305.3,671.0 L308.1,670.7 L308.9,669.3 L308.0,666.4 L309.2,665.0 L311.7,665.7 L312.8,664.8 L313.0,661.8 L314.3,661.0 L316.3,662.7 L317.5,662.3 L318.6,659.7 L320.1,659.6 L321.1,662.1 L322.3,662.3 L324.2,660.4 L325.5,661.1 L325.5,663.9 L326.4,664.7 L328.9,663.9 L329.8,665.1 L328.7,667.9 L329.2,669.2 L331.9,669.5 L332.3,671.2 L330.2,673.5 L330.3,675.0 L332.7,676.5 L332.6,678.3 L330.0,679.8 Z" fill="#333" stroke="#111" stroke-width="0.6"/>
<path d="M330.8,681.7 L332.6,684.1 L331.9,685.8 L329.1,686.2 L328.3,687.6 L329.2,690.5 L328.1,691.9 L325.5,691.1 L324.4,692.1 L324.3,695.1 L322.9,695.9 L320.9,694.1 L319.7,694.5 L318.6,697.2 L317.2,697.3 L316.1,694.8 L315.0,694.6 L313.0,696.4 L311.7,695.8 L311.8,693.0 L310.9,692.2 L308.4,693.0 L307.5,691.7 L308.6,689.0 L308.0,687.7 L305.4,687.3 L305.0,685.7 L307.0,683.4 L306.9,681.8 L304.5,680.4 L304.7,678.5 L307.3,677.1 L307.7,675.5 L305.9,673.1 L306.6,671.4 L309.4,671.0 L310.2,669.7 L309.3,666.7 L310.4,665.4 L313.0,666.1 L314.1,665.2 L314.2,662.1 L315.6,661.4 L317.6,663.1 L318.8,662.7 L319.9,660.1 L321.3,660.0 L322.4,662.5 L323.5,662.7 L325.5,660.8 L326.8,661.4 L326.7,664.3 L327.6,665.1 L330.1,664.3 L331.0,665.5 L329.9,668.3 L330.5,669.5 L333.1,669.9 L333.5,671.6 L331.5,673.8 L331.6,675.4 L334.0,676.9 L333.8,678.7 L331.2,680.1 Z" fill="#333" stroke="#111" stroke-width="0.6"/>
<path d="M332.1,682.1 L333.9,684.5 L333.2,686.2 L330.4,686.6 L329.6,688.0 L330.5,690.9 L329.3,692.2 L326.8,691.5 L325.7,692.5 L325.5,695.5 L324.2,696.2 L322.2,694.5 L321.0,694.9 L319.9,697.6 L318.4,697.6 L317.4,695.2 L316.2,694.9 L314.3,696.8 L313.0,696.2 L313.0,693.3 L312.1,692.5 L309.6,693.3 L308.7,692.1 L309.8,689.3 L309.3,688.1 L306.6,687.7 L306.2,686.0 L308.3,683.8 L308.2,682.2 L305.8,680.7 L305.9,678.9 L308.5,677.5 L308.9,675.9 L307.1,673.5 L307.8,671.8 L310.6,671.4 L311.4,670.0 L310.5,667.1 L311.7,665.8 L314.2,666.5 L315.3,665.5 L315.5,662.5 L316.8,661.8 L318.8,663.5 L320.0,663.1 L321.1,660.4 L322.6,660.4 L323.6,662.8 L324.8,663.1 L326.7,661.2 L328.0,661.8 L328.0,664.7 L328.9,665.5 L331.4,664.7 L332.3,665.9 L331.2,668.7 L331.7,669.9 L334.4,670.3 L334.8,672.0 L332.7,674.2 L332.8,675.8 L335.2,677.3 L335.1,679.1 L332.5,680.5 Z" fill="#fff" stroke="#111" stroke-width="1.3"/>
<ellipse cx="322" cy="679.5" rx="9.5" ry="13" transform="rotate(15 322 679.5)" fill="none" stroke="#111" stroke-width="1.1"/>
<ellipse cx="325" cy="680" rx="6" ry="8.5" transform="rotate(15 325 680)" fill="#fff" stroke="#111" stroke-width="1.6"/>
<ellipse cx="326" cy="680.5" rx="3.5" ry="4.8" transform="rotate(15 326 680.5)" fill="#fff" stroke="#111" stroke-width="1.4"/>
<path d="M330,680 L372,703 L369,709 L327,686 Z" fill="#fff" stroke="#111" stroke-width="1.3" />
<path d="M396.5,718.1 L398.5,720.1 L398.0,721.4 L395.3,721.6 L394.8,722.8 L396.4,725.2 L395.8,726.3 L393.1,726.0 L392.5,727.0 L393.6,729.6 L392.8,730.6 L390.3,729.7 L389.5,730.5 L390.1,733.3 L389.2,734.1 L387.1,732.6 L386.2,733.2 L386.2,736.1 L385.1,736.6 L383.5,734.6 L382.6,734.9 L382.0,737.7 L380.9,737.9 L379.8,735.6 L378.9,735.6 L377.7,738.1 L376.7,738.1 L376.2,735.4 L375.3,735.3 L373.7,737.4 L372.7,737.0 L372.8,734.3 L372.0,733.8 L370.0,735.4 L369.1,734.8 L369.8,732.0 L369.2,731.3 L366.8,732.4 L366.1,731.5 L367.4,728.9 L366.9,728.0 L364.4,728.5 L363.9,727.3 L365.7,725.1 L365.4,724.0 L362.8,723.8 L362.5,722.5 L364.7,720.7 L364.6,719.5 L362.1,718.6 L362.0,717.3 L364.6,715.9 L364.7,714.7 L362.3,713.2 L362.5,711.9 L365.3,711.1 L365.5,709.9 L363.5,707.9 L364.0,706.6 L366.7,706.4 L367.2,705.2 L365.6,702.8 L366.2,701.7 L368.9,702.0 L369.5,701.0 L368.4,698.4 L369.2,697.4 L371.7,698.3 L372.5,697.5 L371.9,694.7 L372.8,693.9 L374.9,695.4 L375.8,694.8 L375.8,691.9 L376.9,691.4 L378.5,693.4 L379.4,693.1 L380.0,690.3 L381.1,690.1 L382.2,692.4 L383.1,692.4 L384.3,689.9 L385.3,689.9 L385.8,692.6 L386.7,692.7 L388.3,690.6 L389.3,691.0 L389.2,693.7 L390.0,694.2 L392.0,692.6 L392.9,693.2 L392.2,696.0 L392.8,696.7 L395.2,695.6 L395.9,696.5 L394.6,699.1 L395.1,700.0 L397.6,699.5 L398.1,700.7 L396.3,702.9 L396.6,704.0 L399.2,704.2 L399.5,705.5 L397.3,707.3 L397.4,708.5 L399.9,709.4 L400.0,710.7 L397.4,712.1 L397.3,713.3 L399.7,714.8 L399.5,716.1 L396.7,716.9 Z" fill="#fff" stroke="#111" stroke-width="1.2"/>
<ellipse cx="389.9" cy="718.6" rx="2.3" ry="3.3" transform="rotate(15 389.9 718.6)" fill="none" stroke="#111" stroke-width="1.0"/>
<ellipse cx="380.7" cy="727.5" rx="2.3" ry="3.3" transform="rotate(15 380.7 727.5)" fill="none" stroke="#111" stroke-width="1.0"/>
<ellipse cx="371.9" cy="717.7" rx="2.3" ry="3.3" transform="rotate(15 371.9 717.7)" fill="none" stroke="#111" stroke-width="1.0"/>
<ellipse cx="375.7" cy="702.8" rx="2.3" ry="3.3" transform="rotate(15 375.7 702.8)" fill="none" stroke="#111" stroke-width="1.0"/>
<ellipse cx="386.8" cy="703.4" rx="2.3" ry="3.3" transform="rotate(15 386.8 703.4)" fill="none" stroke="#111" stroke-width="1.0"/>
<path d="M397.7,719.6 L399.1,721.7 L398.5,723.2 L396.0,723.5 L395.3,724.6 L395.6,727.2 L394.5,728.2 L392.4,727.2 L391.4,727.7 L390.6,730.1 L389.2,730.3 L388.2,728.3 L387.2,728.1 L385.4,729.6 L384.2,729.0 L384.4,726.5 L383.7,725.7 L381.5,725.9 L380.8,724.5 L382.1,722.3 L381.9,721.0 L379.8,719.9 L379.8,718.2 L382.0,716.8 L382.3,715.4 L380.9,713.3 L381.5,711.8 L384.0,711.5 L384.7,710.4 L384.4,707.8 L385.5,706.8 L387.6,707.8 L388.6,707.3 L389.4,704.9 L390.8,704.7 L391.8,706.7 L392.8,706.9 L394.6,705.4 L395.8,706.0 L395.6,708.5 L396.3,709.3 L398.5,709.1 L399.2,710.5 L397.9,712.7 L398.1,714.0 L400.2,715.1 L400.2,716.8 L398.0,718.2 Z" fill="#222" stroke="#111" stroke-width="1.3"/>
<path d="M398.7,720.0 L400.1,722.1 L399.5,723.6 L397.0,723.9 L396.3,725.0 L396.6,727.6 L395.5,728.6 L393.4,727.6 L392.4,728.1 L391.6,730.5 L390.2,730.7 L389.2,728.7 L388.2,728.5 L386.4,730.0 L385.2,729.3 L385.4,726.9 L384.7,726.0 L382.5,726.3 L381.8,724.9 L383.1,722.7 L382.9,721.4 L380.8,720.3 L380.8,718.6 L383.0,717.2 L383.3,715.8 L381.9,713.7 L382.5,712.1 L385.0,711.9 L385.7,710.8 L385.4,708.2 L386.5,707.2 L388.6,708.2 L389.6,707.6 L390.4,705.3 L391.8,705.1 L392.8,707.1 L393.8,707.3 L395.6,705.8 L396.8,706.4 L396.6,708.9 L397.3,709.7 L399.5,709.5 L400.2,710.8 L398.9,713.1 L399.1,714.4 L401.2,715.5 L401.2,717.1 L399.0,718.5 Z" fill="#333" stroke="#111" stroke-width="0.6"/>
<path d="M399.7,720.3 L401.1,722.5 L400.5,724.0 L398.0,724.2 L397.3,725.4 L397.6,727.9 L396.5,729.0 L394.4,727.9 L393.4,728.5 L392.6,730.8 L391.2,731.0 L390.2,729.1 L389.2,728.9 L387.4,730.4 L386.2,729.7 L386.4,727.3 L385.7,726.4 L383.5,726.6 L382.8,725.3 L384.1,723.1 L383.9,721.8 L381.8,720.7 L381.8,719.0 L384.0,717.6 L384.3,716.2 L382.9,714.0 L383.5,712.5 L386.0,712.3 L386.7,711.1 L386.4,708.6 L387.5,707.5 L389.6,708.6 L390.6,708.0 L391.4,705.7 L392.8,705.5 L393.8,707.4 L394.8,707.6 L396.6,706.1 L397.8,706.8 L397.6,709.2 L398.3,710.1 L400.5,709.9 L401.2,711.2 L399.9,713.4 L400.1,714.7 L402.2,715.8 L402.2,717.5 L400.0,718.9 Z" fill="#333" stroke="#111" stroke-width="0.6"/>
<path d="M400.7,720.7 L402.1,722.8 L401.5,724.4 L399.0,724.6 L398.3,725.7 L398.6,728.3 L397.5,729.3 L395.4,728.3 L394.4,728.9 L393.6,731.2 L392.2,731.4 L391.2,729.4 L390.2,729.2 L388.4,730.7 L387.2,730.1 L387.4,727.6 L386.7,726.8 L384.5,727.0 L383.8,725.7 L385.1,723.4 L384.9,722.1 L382.8,721.0 L382.8,719.4 L385.0,718.0 L385.3,716.5 L383.9,714.4 L384.5,712.9 L387.0,712.6 L387.7,711.5 L387.4,708.9 L388.5,707.9 L390.6,708.9 L391.6,708.4 L392.4,706.0 L393.8,705.8 L394.8,707.8 L395.8,708.0 L397.6,706.5 L398.8,707.2 L398.6,709.6 L399.3,710.5 L401.5,710.2 L402.2,711.6 L400.9,713.8 L401.1,715.1 L403.2,716.2 L403.2,717.9 L401.0,719.3 Z" fill="#333" stroke="#111" stroke-width="0.6"/>
<path d="M401.7,721.1 L403.1,723.2 L402.5,724.8 L400.0,725.0 L399.3,726.1 L399.6,728.7 L398.5,729.7 L396.4,728.7 L395.4,729.2 L394.6,731.6 L393.2,731.8 L392.2,729.8 L391.2,729.6 L389.4,731.1 L388.2,730.5 L388.4,728.0 L387.7,727.2 L385.5,727.4 L384.8,726.0 L386.1,723.8 L385.9,722.5 L383.8,721.4 L383.8,719.8 L386.0,718.3 L386.3,716.9 L384.9,714.8 L385.5,713.2 L388.0,713.0 L388.7,711.9 L388.4,709.3 L389.5,708.3 L391.6,709.3 L392.6,708.8 L393.4,706.4 L394.8,706.2 L395.8,708.2 L396.8,708.4 L398.6,706.9 L399.8,707.5 L399.6,710.0 L400.3,710.8 L402.5,710.6 L403.2,712.0 L401.9,714.2 L402.1,715.5 L404.2,716.6 L404.2,718.2 L402.0,719.7 Z" fill="#fff" stroke="#111" stroke-width="1.3"/>
<ellipse cx="396" cy="719.5" rx="6" ry="8" transform="rotate(15 396 719.5)" fill="#fff" stroke="#111" stroke-width="1.2"/>
<ellipse cx="398" cy="720" rx="3" ry="4" transform="rotate(15 398 720)" fill="#fff" stroke="#111" stroke-width="1.2"/>
<path d="M400,719 L408,722 L406,727 L398,724 Z" fill="#fff" stroke="#111" stroke-width="1.1" />
<ellipse cx="407.5" cy="724.5" rx="2" ry="3" transform="rotate(15 407.5 724.5)" fill="#fff" stroke="#111" stroke-width="1.1"/>
<ellipse cx="409.8" cy="730.5" rx="4.2" ry="5.8" transform="rotate(15 409.8 730.5)" fill="#fff" stroke="#111" stroke-width="1.6"/>
<ellipse cx="410" cy="730.5" rx="1.8" ry="2.5" transform="rotate(15 410 730.5)" fill="none" stroke="#111" stroke-width="1.1"/>
<ellipse cx="420.5" cy="737" rx="6" ry="7.8" transform="rotate(15 420.5 737)" fill="#fff" stroke="#111" stroke-width="2.6"/>
<ellipse cx="421.5" cy="737" rx="3.5" ry="4.5" transform="rotate(15 421.5 737)" fill="#fff" stroke="#111" stroke-width="1.5"/>
<ellipse cx="422" cy="737" rx="1.8" ry="2.3" transform="rotate(15 422 737)" fill="#fff" stroke="#111" stroke-width="1.0"/>
<ellipse cx="342.7" cy="722.6" rx="11" ry="11" transform="rotate(0 342.7 722.6)" fill="#fff" stroke="#111" stroke-width="1.0"/>
<text x="342.7" y="727.1" font-size="12.5" text-anchor="middle">42</text>
<path d="M342.7,711.5 L342.7,698.5" fill="none" stroke="#111" stroke-width="1.2"/>
<ellipse cx="269" cy="719" rx="24.5" ry="32" transform="rotate(10 269 719)" fill="#fff" stroke="#111" stroke-width="1.7"/>
<ellipse cx="269.5" cy="719" rx="21.5" ry="28.5" transform="rotate(10 269.5 719)" fill="none" stroke="#111" stroke-width="1.2"/>
<ellipse cx="270" cy="719" rx="19" ry="26" transform="rotate(10 270 719)" fill="none" stroke="#111" stroke-width="1.5"/>
<path d="M268.8,724.3 L287.4,722.1 L284.7,731.9 L268.3,726.1 Z" fill="#fff" stroke="#111" stroke-width="1.4"/>
<path d="M263.1,730.5 L273.2,742.6 L265.6,742.2 L261.5,730.4 Z" fill="#fff" stroke="#111" stroke-width="1.4"/>
<path d="M256.5,725.6 L254.6,730.5 L252.5,720.4 L256.1,723.8 Z" fill="#fff" stroke="#111" stroke-width="1.4"/>
<path d="M258.2,716.5 L257.3,702.5 L263.6,696.7 L259.5,715.4 Z" fill="#fff" stroke="#111" stroke-width="1.4"/>
<path d="M265.9,715.7 L277.5,697.3 L283.5,703.8 L267.1,716.8 Z" fill="#fff" stroke="#111" stroke-width="1.4"/>
<ellipse cx="262.5" cy="722.5" rx="6.5" ry="8" transform="rotate(10 262.5 722.5)" fill="#fff" stroke="#111" stroke-width="1.8"/>
<ellipse cx="262.5" cy="722.5" rx="3.8" ry="4.8" transform="rotate(10 262.5 722.5)" fill="#fff" stroke="#111" stroke-width="1.8"/>
<ellipse cx="262.5" cy="722.5" rx="1.6" ry="2" transform="rotate(10 262.5 722.5)" fill="#333" stroke="#111" stroke-width="1"/>
<ellipse cx="227.8" cy="677" rx="11" ry="11" transform="rotate(0 227.8 677)" fill="#fff" stroke="#111" stroke-width="1.0"/>
<text x="227.8" y="681.5" font-size="12.5" text-anchor="middle">41</text>
<path d="M236.0,684.0 L250.0,694.0" fill="none" stroke="#111" stroke-width="1.2"/>
<path d="M170,698 L177,696 L180,704 L173,706 Z" fill="#fff" stroke="#111" stroke-width="0.01" />
<path d="M170,698 L177,696 M173,706 L180,704" fill="none" stroke="#111" stroke-width="1.2" />
<ellipse cx="171.5" cy="702" rx="3" ry="4.2" transform="rotate(20 171.5 702)" fill="#fff" stroke="#111" stroke-width="1.3"/>
<ellipse cx="178.5" cy="700" rx="3" ry="4.2" transform="rotate(20 178.5 700)" fill="#fff" stroke="#111" stroke-width="1.3"/>
<path d="M181,705 L256,743 L253,749 L178,711 Z" fill="#fff" stroke="#111" stroke-width="1.3" />
<ellipse cx="181" cy="708" rx="3" ry="4" transform="rotate(20 181 708)" fill="#fff" stroke="#111" stroke-width="1.2"/>
<ellipse cx="190" cy="712" rx="3" ry="4.5" transform="rotate(20 190 712)" fill="#fff" stroke="#111" stroke-width="1.2"/>
<path d="M249,740 L261,746 L258,752 L246,746 Z" fill="#fff" stroke="#111" stroke-width="1.2" />
<ellipse cx="259.5" cy="749" rx="2.5" ry="3.5" transform="rotate(20 259.5 749)" fill="#fff" stroke="#111" stroke-width="1.2"/>
<path d="M187.4,718 L187.4,745 Q188,760 200,765 L240,782 Q250,786 250,778 L250,752" fill="none" stroke="#111" stroke-width="1.5" />
<path d="M193,737 L240,757 Q246,760 246,766 L246,775 Q245,778 240,776 L200,760 Q193,756 193,748 Z" fill="none" stroke="#111" stroke-width="1.4" />
<path d="M197,742 L240,760 L241,771 L200,755 Z" fill="none" stroke="#111" stroke-width="1.0" />
<path d="M211,752 Q214,748 222,752 Q225,757 222,760 L214,758 Z" fill="none" stroke="#111" stroke-width="1.3" />
<ellipse cx="215" cy="753.5" rx="1.5" ry="1.8" transform="rotate(0 215 753.5)" fill="none" stroke="#111" stroke-width="1.0"/>
<ellipse cx="220" cy="756" rx="1.5" ry="1.8" transform="rotate(0 220 756)" fill="none" stroke="#111" stroke-width="1.0"/>
<path d="M250,752 L253,776 Q252,782 256,790 L258,789 Q256,782 258,775 L256,749" fill="none" stroke="#111" stroke-width="1.4" />
<path d="M206,765 L209,772 L215,772 L219,767" fill="none" stroke="#111" stroke-width="1.2" />
<ellipse cx="245.5" cy="732" rx="3.5" ry="4" transform="rotate(15 245.5 732)" fill="#fff" stroke="#111" stroke-width="1.3"/>
<ellipse cx="245.5" cy="732" rx="1.5" ry="1.8" transform="rotate(15 245.5 732)" fill="#555" stroke="#111" stroke-width="1.2"/>
<path d="M172.0,759.0 L174.2,759.4 L171.8,756.1 L175.6,757.7 L173.1,754.4 L176.9,756.1 L174.4,752.8 L178.2,754.4 L175.8,751.1 L179.6,752.7 L177.1,749.4 L180.9,751.1 L178.4,747.8 L182.2,749.4 L179.8,746.1 L183.6,747.7 L181.1,744.4 L184.9,746.1 L184.0,744.0" fill="none" stroke="#111" stroke-width="1.4"/>
<path d="M169,761 Q168,764 171,764 M185,743 Q187,740 184,740" fill="none" stroke="#111" stroke-width="1.0" />
<ellipse cx="186.5" cy="766" rx="3.5" ry="3.8" transform="rotate(0 186.5 766)" fill="#555" stroke="#111" stroke-width="1.6"/>
<ellipse cx="195" cy="762" rx="3" ry="3" transform="rotate(0 195 762)" fill="#fff" stroke="#111" stroke-width="1.2"/>
<ellipse cx="741" cy="801" rx="53" ry="66" transform="rotate(25 741 801)" fill="#fff" stroke="#111" stroke-width="1.6"/>
<path d="M783.7,823.1 L789.5,828.9 M789.5,823.1 L783.7,828.9" stroke="#111" stroke-width="3.2" stroke-linecap="round"/>
<path d="M784.6,824.0 L788.6,828.0 M788.6,824.0 L784.6,828.0" stroke="#fff" stroke-width="1.0" stroke-linecap="round"/>
<path d="M746.2,857.3 L752.0,863.1 M752.0,857.3 L746.2,863.1" stroke="#111" stroke-width="3.2" stroke-linecap="round"/>
<path d="M747.1,858.2 L751.1,862.2 M751.1,858.2 L747.1,862.2" stroke="#fff" stroke-width="1.0" stroke-linecap="round"/>
<path d="M738.9,859.0 L744.7,864.8 M744.7,859.0 L738.9,864.8" stroke="#111" stroke-width="3.2" stroke-linecap="round"/>
<path d="M739.8,859.9 L743.8,863.9 M743.8,859.9 L739.8,863.9" stroke="#fff" stroke-width="1.0" stroke-linecap="round"/>
<path d="M731.7,859.3 L737.5,865.1 M737.5,859.3 L731.7,865.1" stroke="#111" stroke-width="3.2" stroke-linecap="round"/>
<path d="M732.6,860.2 L736.6,864.2 M736.6,860.2 L732.6,864.2" stroke="#fff" stroke-width="1.0" stroke-linecap="round"/>
<path d="M721.7,859.4 L727.5,865.2 M727.5,859.4 L721.7,865.2" stroke="#111" stroke-width="3.2" stroke-linecap="round"/>
<path d="M722.6,860.3 L726.6,864.3 M726.6,860.3 L722.6,864.3" stroke="#fff" stroke-width="1.0" stroke-linecap="round"/>
<rect x="725.8" y="856.1" width="5.2" height="5.6" rx="1.5" fill="#fff" stroke="#111" stroke-width="1.5"/>
<path d="M725.8,858.9 L731.0,858.9" stroke="#111" stroke-width="1.0"/>
<path d="M714.7,856.8 L720.5,862.6 M720.5,856.8 L714.7,862.6" stroke="#111" stroke-width="3.2" stroke-linecap="round"/>
<path d="M715.6,857.7 L719.6,861.7 M719.6,857.7 L715.6,861.7" stroke="#fff" stroke-width="1.0" stroke-linecap="round"/>
<rect x="720.5" y="853.3" width="5.2" height="5.6" rx="1.5" fill="#fff" stroke="#111" stroke-width="1.5"/>
<path d="M720.5,856.1 L725.7,856.1" stroke="#111" stroke-width="1.0"/>
<path d="M706.7,853.1 L712.5,858.9 M712.5,853.1 L706.7,858.9" stroke="#111" stroke-width="3.2" stroke-linecap="round"/>
<path d="M707.6,854.0 L711.6,858.0 M711.6,854.0 L707.6,858.0" stroke="#fff" stroke-width="1.0" stroke-linecap="round"/>
<rect x="711.0" y="849.9" width="5.2" height="5.6" rx="1.5" fill="#fff" stroke="#111" stroke-width="1.5"/>
<path d="M711.0,852.7 L716.2,852.7" stroke="#111" stroke-width="1.0"/>
<path d="M719.8,851.0 L725.6,856.8 M725.6,851.0 L719.8,856.8" stroke="#111" stroke-width="3.2" stroke-linecap="round"/>
<path d="M720.7,851.9 L724.7,855.9 M724.7,851.9 L720.7,855.9" stroke="#fff" stroke-width="1.0" stroke-linecap="round"/>
<path d="M700.9,847.8 L706.7,853.6 M706.7,847.8 L700.9,853.6" stroke="#111" stroke-width="3.2" stroke-linecap="round"/>
<path d="M701.8,848.7 L705.8,852.7 M705.8,848.7 L701.8,852.7" stroke="#fff" stroke-width="1.0" stroke-linecap="round"/>
<rect x="706.6" y="844.5" width="5.2" height="5.6" rx="1.5" fill="#fff" stroke="#111" stroke-width="1.5"/>
<path d="M706.6,847.3 L711.8,847.3" stroke="#111" stroke-width="1.0"/>
<path d="M715.9,846.7 L721.7,852.5 M721.7,846.7 L715.9,852.5" stroke="#111" stroke-width="3.2" stroke-linecap="round"/>
<path d="M716.8,847.6 L720.8,851.6 M720.8,847.6 L716.8,851.6" stroke="#fff" stroke-width="1.0" stroke-linecap="round"/>
<path d="M696.0,841.3 L701.8,847.1 M701.8,841.3 L696.0,847.1" stroke="#111" stroke-width="3.2" stroke-linecap="round"/>
<path d="M696.9,842.2 L700.9,846.2 M700.9,842.2 L696.9,846.2" stroke="#fff" stroke-width="1.0" stroke-linecap="round"/>
<rect x="703.1" y="838.1" width="5.2" height="5.6" rx="1.5" fill="#fff" stroke="#111" stroke-width="1.5"/>
<path d="M703.1,840.9 L708.3,840.9" stroke="#111" stroke-width="1.0"/>
<path d="M712.8,841.4 L718.6,847.2 M718.6,841.4 L712.8,847.2" stroke="#111" stroke-width="3.2" stroke-linecap="round"/>
<path d="M713.7,842.3 L717.7,846.3 M717.7,842.3 L713.7,846.3" stroke="#fff" stroke-width="1.0" stroke-linecap="round"/>
<path d="M691.1,833.6 L696.9,839.4 M696.9,833.6 L691.1,839.4" stroke="#111" stroke-width="3.2" stroke-linecap="round"/>
<path d="M692.0,834.5 L696.0,838.5 M696.0,834.5 L692.0,838.5" stroke="#fff" stroke-width="1.0" stroke-linecap="round"/>
<rect x="697.2" y="830.5" width="5.2" height="5.6" rx="1.5" fill="#fff" stroke="#111" stroke-width="1.5"/>
<path d="M697.2,833.3 L702.4,833.3" stroke="#111" stroke-width="1.0"/>
<path d="M705.1,834.8 L710.9,840.6 M710.9,834.8 L705.1,840.6" stroke="#111" stroke-width="3.2" stroke-linecap="round"/>
<path d="M706.0,835.7 L710.0,839.7 M710.0,835.7 L706.0,839.7" stroke="#fff" stroke-width="1.0" stroke-linecap="round"/>
<rect x="711.7" y="832.2" width="5.2" height="5.6" rx="1.5" fill="#fff" stroke="#111" stroke-width="1.5"/>
<path d="M711.7,835.0 L716.9,835.0" stroke="#111" stroke-width="1.0"/>
<path d="M688.5,825.2 L694.3,831.0 M694.3,825.2 L688.5,831.0" stroke="#111" stroke-width="3.2" stroke-linecap="round"/>
<path d="M689.4,826.1 L693.4,830.1 M693.4,826.1 L689.4,830.1" stroke="#fff" stroke-width="1.0" stroke-linecap="round"/>
<rect x="695.7" y="822.3" width="5.2" height="5.6" rx="1.5" fill="#fff" stroke="#111" stroke-width="1.5"/>
<path d="M695.7,825.1 L700.9,825.1" stroke="#111" stroke-width="1.0"/>
<path d="M703.5,827.5 L709.3,833.3 M709.3,827.5 L703.5,833.3" stroke="#111" stroke-width="3.2" stroke-linecap="round"/>
<path d="M704.4,828.4 L708.4,832.4 M708.4,828.4 L704.4,832.4" stroke="#fff" stroke-width="1.0" stroke-linecap="round"/>
<rect x="711.1" y="825.2" width="5.2" height="5.6" rx="1.5" fill="#fff" stroke="#111" stroke-width="1.5"/>
<path d="M711.1,828.0 L716.3,828.0" stroke="#111" stroke-width="1.0"/>
<path d="M687.2,816.1 L693.0,821.9 M693.0,816.1 L687.2,821.9" stroke="#111" stroke-width="3.2" stroke-linecap="round"/>
<path d="M688.1,817.0 L692.1,821.0 M692.1,817.0 L688.1,821.0" stroke="#fff" stroke-width="1.0" stroke-linecap="round"/>
<rect x="695.4" y="813.6" width="5.2" height="5.6" rx="1.5" fill="#fff" stroke="#111" stroke-width="1.5"/>
<path d="M695.4,816.4 L700.6,816.4" stroke="#111" stroke-width="1.0"/>
<path d="M703.0,819.7 L708.8,825.5 M708.8,819.7 L703.0,825.5" stroke="#111" stroke-width="3.2" stroke-linecap="round"/>
<path d="M703.9,820.6 L707.9,824.6 M707.9,820.6 L703.9,824.6" stroke="#fff" stroke-width="1.0" stroke-linecap="round"/>
<rect x="711.5" y="817.8" width="5.2" height="5.6" rx="1.5" fill="#fff" stroke="#111" stroke-width="1.5"/>
<path d="M711.5,820.6 L716.7,820.6" stroke="#111" stroke-width="1.0"/>
<path d="M687.1,806.6 L692.9,812.4 M692.9,806.6 L687.1,812.4" stroke="#111" stroke-width="3.2" stroke-linecap="round"/>
<path d="M688.0,807.5 L692.0,811.5 M692.0,807.5 L688.0,811.5" stroke="#fff" stroke-width="1.0" stroke-linecap="round"/>
<rect x="696.2" y="804.7" width="5.2" height="5.6" rx="1.5" fill="#fff" stroke="#111" stroke-width="1.5"/>
<path d="M696.2,807.5 L701.4,807.5" stroke="#111" stroke-width="1.0"/>
<path d="M703.5,811.5 L709.3,817.3 M709.3,811.5 L703.5,817.3" stroke="#111" stroke-width="3.2" stroke-linecap="round"/>
<path d="M704.4,812.4 L708.4,816.4 M708.4,812.4 L704.4,816.4" stroke="#fff" stroke-width="1.0" stroke-linecap="round"/>
<rect x="712.8" y="810.2" width="5.2" height="5.6" rx="1.5" fill="#fff" stroke="#111" stroke-width="1.5"/>
<path d="M712.8,813.0 L718.0,813.0" stroke="#111" stroke-width="1.0"/>
<path d="M688.4,797.0 L694.2,802.8 M694.2,797.0 L688.4,802.8" stroke="#111" stroke-width="3.2" stroke-linecap="round"/>
<path d="M689.3,797.9 L693.3,801.9 M693.3,797.9 L689.3,801.9" stroke="#fff" stroke-width="1.0" stroke-linecap="round"/>
<rect x="698.3" y="795.7" width="5.2" height="5.6" rx="1.5" fill="#fff" stroke="#111" stroke-width="1.5"/>
<path d="M698.3,798.5 L703.5,798.5" stroke="#111" stroke-width="1.0"/>
<path d="M705.2,803.2 L711.0,809.0 M711.0,803.2 L705.2,809.0" stroke="#111" stroke-width="3.2" stroke-linecap="round"/>
<path d="M706.1,804.1 L710.1,808.1 M710.1,804.1 L706.1,808.1" stroke="#fff" stroke-width="1.0" stroke-linecap="round"/>
<rect x="715.1" y="802.5" width="5.2" height="5.6" rx="1.5" fill="#fff" stroke="#111" stroke-width="1.5"/>
<path d="M715.1,805.3 L720.3,805.3" stroke="#111" stroke-width="1.0"/>
<path d="M690.9,787.4 L696.7,793.2 M696.7,787.4 L690.9,793.2" stroke="#111" stroke-width="3.2" stroke-linecap="round"/>
<path d="M691.8,788.3 L695.8,792.3 M695.8,788.3 L691.8,792.3" stroke="#fff" stroke-width="1.0" stroke-linecap="round"/>
<rect x="701.4" y="786.9" width="5.2" height="5.6" rx="1.5" fill="#fff" stroke="#111" stroke-width="1.5"/>
<path d="M701.4,789.7 L706.6,789.7" stroke="#111" stroke-width="1.0"/>
<path d="M707.9,794.9 L713.7,800.7 M713.7,794.9 L707.9,800.7" stroke="#111" stroke-width="3.2" stroke-linecap="round"/>
<path d="M708.8,795.8 L712.8,799.8 M712.8,795.8 L708.8,799.8" stroke="#fff" stroke-width="1.0" stroke-linecap="round"/>
<rect x="718.3" y="795.0" width="5.2" height="5.6" rx="1.5" fill="#fff" stroke="#111" stroke-width="1.5"/>
<path d="M718.3,797.8 L723.5,797.8" stroke="#111" stroke-width="1.0"/>
<path d="M694.7,778.1 L700.5,783.9 M700.5,778.1 L694.7,783.9" stroke="#111" stroke-width="3.2" stroke-linecap="round"/>
<path d="M695.6,779.0 L699.6,783.0 M699.6,779.0 L695.6,783.0" stroke="#fff" stroke-width="1.0" stroke-linecap="round"/>
<rect x="705.6" y="778.4" width="5.2" height="5.6" rx="1.5" fill="#fff" stroke="#111" stroke-width="1.5"/>
<path d="M705.6,781.2 L710.8,781.2" stroke="#111" stroke-width="1.0"/>
<path d="M711.5,786.9 L717.3,792.7 M717.3,786.9 L711.5,792.7" stroke="#111" stroke-width="3.2" stroke-linecap="round"/>
<path d="M712.4,787.8 L716.4,791.8 M716.4,787.8 L712.4,791.8" stroke="#fff" stroke-width="1.0" stroke-linecap="round"/>
<rect x="722.3" y="787.8" width="5.2" height="5.6" rx="1.5" fill="#fff" stroke="#111" stroke-width="1.5"/>
<path d="M722.3,790.6 L727.5,790.6" stroke="#111" stroke-width="1.0"/>
<path d="M699.6,769.4 L705.4,775.2 M705.4,769.4 L699.6,775.2" stroke="#111" stroke-width="3.2" stroke-linecap="round"/>
<path d="M700.5,770.3 L704.5,774.3 M704.5,770.3 L700.5,774.3" stroke="#fff" stroke-width="1.0" stroke-linecap="round"/>
<rect x="710.8" y="770.6" width="5.2" height="5.6" rx="1.5" fill="#fff" stroke="#111" stroke-width="1.5"/>
<path d="M710.8,773.4 L716.0,773.4" stroke="#111" stroke-width="1.0"/>
<path d="M716.0,779.3 L721.8,785.1 M721.8,779.3 L716.0,785.1" stroke="#111" stroke-width="3.2" stroke-linecap="round"/>
<path d="M716.9,780.2 L720.9,784.2 M720.9,780.2 L716.9,784.2" stroke="#fff" stroke-width="1.0" stroke-linecap="round"/>
<rect x="727.0" y="781.1" width="5.2" height="5.6" rx="1.5" fill="#fff" stroke="#111" stroke-width="1.5"/>
<path d="M727.0,783.9 L732.2,783.9" stroke="#111" stroke-width="1.0"/>
<path d="M705.4,761.3 L711.2,767.1 M711.2,761.3 L705.4,767.1" stroke="#111" stroke-width="3.2" stroke-linecap="round"/>
<path d="M706.3,762.2 L710.3,766.2 M710.3,762.2 L706.3,766.2" stroke="#fff" stroke-width="1.0" stroke-linecap="round"/>
<rect x="716.8" y="763.6" width="5.2" height="5.6" rx="1.5" fill="#fff" stroke="#111" stroke-width="1.5"/>
<path d="M716.8,766.4 L722.0,766.4" stroke="#111" stroke-width="1.0"/>
<path d="M721.3,772.4 L727.1,778.2 M727.1,772.4 L721.3,778.2" stroke="#111" stroke-width="3.2" stroke-linecap="round"/>
<path d="M722.2,773.3 L726.2,777.3 M726.2,773.3 L722.2,777.3" stroke="#fff" stroke-width="1.0" stroke-linecap="round"/>
<rect x="732.3" y="775.1" width="5.2" height="5.6" rx="1.5" fill="#fff" stroke="#111" stroke-width="1.5"/>
<path d="M732.3,777.9 L737.5,777.9" stroke="#111" stroke-width="1.0"/>
<path d="M712.1,754.3 L717.9,760.1 M717.9,754.3 L712.1,760.1" stroke="#111" stroke-width="3.2" stroke-linecap="round"/>
<path d="M713.0,755.2 L717.0,759.2 M717.0,755.2 L713.0,759.2" stroke="#fff" stroke-width="1.0" stroke-linecap="round"/>
<rect x="723.4" y="757.5" width="5.2" height="5.6" rx="1.5" fill="#fff" stroke="#111" stroke-width="1.5"/>
<path d="M723.4,760.3 L728.6,760.3" stroke="#111" stroke-width="1.0"/>
<path d="M727.3,766.3 L733.1,772.1 M733.1,766.3 L727.3,772.1" stroke="#111" stroke-width="3.2" stroke-linecap="round"/>
<path d="M728.2,767.2 L732.2,771.2 M732.2,767.2 L728.2,771.2" stroke="#fff" stroke-width="1.0" stroke-linecap="round"/>
<rect x="738.1" y="769.9" width="5.2" height="5.6" rx="1.5" fill="#fff" stroke="#111" stroke-width="1.5"/>
<path d="M738.1,772.7 L743.3,772.7" stroke="#111" stroke-width="1.0"/>
<path d="M719.5,748.3 L725.3,754.1 M725.3,748.3 L719.5,754.1" stroke="#111" stroke-width="3.2" stroke-linecap="round"/>
<path d="M720.4,749.2 L724.4,753.2 M724.4,749.2 L720.4,753.2" stroke="#fff" stroke-width="1.0" stroke-linecap="round"/>
<rect x="730.5" y="752.5" width="5.2" height="5.6" rx="1.5" fill="#fff" stroke="#111" stroke-width="1.5"/>
<path d="M730.5,755.3 L735.7,755.3" stroke="#111" stroke-width="1.0"/>
<path d="M733.7,761.1 L739.5,766.9 M739.5,761.1 L733.7,766.9" stroke="#111" stroke-width="3.2" stroke-linecap="round"/>
<path d="M734.6,762.0 L738.6,766.0 M738.6,762.0 L734.6,766.0" stroke="#fff" stroke-width="1.0" stroke-linecap="round"/>
<rect x="744.1" y="765.6" width="5.2" height="5.6" rx="1.5" fill="#fff" stroke="#111" stroke-width="1.5"/>
<path d="M744.1,768.4 L749.3,768.4" stroke="#111" stroke-width="1.0"/>
<path d="M727.4,743.7 L733.2,749.5 M733.2,743.7 L727.4,749.5" stroke="#111" stroke-width="3.2" stroke-linecap="round"/>
<path d="M728.3,744.6 L732.3,748.6 M732.3,744.6 L728.3,748.6" stroke="#fff" stroke-width="1.0" stroke-linecap="round"/>
<rect x="738.0" y="748.8" width="5.2" height="5.6" rx="1.5" fill="#fff" stroke="#111" stroke-width="1.5"/>
<path d="M738.0,751.6 L743.2,751.6" stroke="#111" stroke-width="1.0"/>
<path d="M740.4,757.1 L746.2,762.9 M746.2,757.1 L740.4,762.9" stroke="#111" stroke-width="3.2" stroke-linecap="round"/>
<path d="M741.3,758.0 L745.3,762.0 M745.3,758.0 L741.3,762.0" stroke="#fff" stroke-width="1.0" stroke-linecap="round"/>
<rect x="750.4" y="762.4" width="5.2" height="5.6" rx="1.5" fill="#fff" stroke="#111" stroke-width="1.5"/>
<path d="M750.4,765.2 L755.6,765.2" stroke="#111" stroke-width="1.0"/>
<path d="M735.7,740.4 L741.5,746.2 M741.5,740.4 L735.7,746.2" stroke="#111" stroke-width="3.2" stroke-linecap="round"/>
<path d="M736.6,741.3 L740.6,745.3 M740.6,741.3 L736.6,745.3" stroke="#fff" stroke-width="1.0" stroke-linecap="round"/>
<rect x="745.6" y="746.4" width="5.2" height="5.6" rx="1.5" fill="#fff" stroke="#111" stroke-width="1.5"/>
<path d="M745.6,749.2 L750.8,749.2" stroke="#111" stroke-width="1.0"/>
<path d="M747.4,754.2 L753.2,760.0 M753.2,754.2 L747.4,760.0" stroke="#111" stroke-width="3.2" stroke-linecap="round"/>
<path d="M748.3,755.1 L752.3,759.1 M752.3,755.1 L748.3,759.1" stroke="#fff" stroke-width="1.0" stroke-linecap="round"/>
<rect x="756.7" y="760.4" width="5.2" height="5.6" rx="1.5" fill="#fff" stroke="#111" stroke-width="1.5"/>
<path d="M756.7,763.2 L761.9,763.2" stroke="#111" stroke-width="1.0"/>
<path d="M744.0,738.5 L749.8,744.3 M749.8,738.5 L744.0,744.3" stroke="#111" stroke-width="3.2" stroke-linecap="round"/>
<path d="M744.9,739.4 L748.9,743.4 M748.9,739.4 L744.9,743.4" stroke="#fff" stroke-width="1.0" stroke-linecap="round"/>
<rect x="753.2" y="745.3" width="5.2" height="5.6" rx="1.5" fill="#fff" stroke="#111" stroke-width="1.5"/>
<path d="M753.2,748.1 L758.4,748.1" stroke="#111" stroke-width="1.0"/>
<path d="M754.3,752.6 L760.1,758.4 M760.1,752.6 L754.3,758.4" stroke="#111" stroke-width="3.2" stroke-linecap="round"/>
<path d="M755.2,753.5 L759.2,757.5 M759.2,753.5 L755.2,757.5" stroke="#fff" stroke-width="1.0" stroke-linecap="round"/>
<rect x="762.8" y="759.5" width="5.2" height="5.6" rx="1.5" fill="#fff" stroke="#111" stroke-width="1.5"/>
<path d="M762.8,762.3 L768.0,762.3" stroke="#111" stroke-width="1.0"/>
<path d="M752.2,738.2 L758.0,744.0 M758.0,738.2 L752.2,744.0" stroke="#111" stroke-width="3.2" stroke-linecap="round"/>
<path d="M753.1,739.1 L757.1,743.1 M757.1,739.1 L753.1,743.1" stroke="#fff" stroke-width="1.0" stroke-linecap="round"/>
<rect x="760.6" y="745.7" width="5.2" height="5.6" rx="1.5" fill="#fff" stroke="#111" stroke-width="1.5"/>
<path d="M760.6,748.5 L765.8,748.5" stroke="#111" stroke-width="1.0"/>
<path d="M761.0,752.3 L766.8,758.1 M766.8,752.3 L761.0,758.1" stroke="#111" stroke-width="3.2" stroke-linecap="round"/>
<path d="M761.9,753.2 L765.9,757.2 M765.9,753.2 L761.9,757.2" stroke="#fff" stroke-width="1.0" stroke-linecap="round"/>
<rect x="768.6" y="759.8" width="5.2" height="5.6" rx="1.5" fill="#fff" stroke="#111" stroke-width="1.5"/>
<path d="M768.6,762.6 L773.8,762.6" stroke="#111" stroke-width="1.0"/>
<path d="M760.1,739.4 L765.9,745.2 M765.9,739.4 L760.1,745.2" stroke="#111" stroke-width="3.2" stroke-linecap="round"/>
<path d="M761.0,740.3 L765.0,744.3 M765.0,740.3 L761.0,744.3" stroke="#fff" stroke-width="1.0" stroke-linecap="round"/>
<rect x="767.5" y="747.5" width="5.2" height="5.6" rx="1.5" fill="#fff" stroke="#111" stroke-width="1.5"/>
<path d="M767.5,750.3 L772.7,750.3" stroke="#111" stroke-width="1.0"/>
<path d="M767.4,753.3 L773.2,759.1 M773.2,753.3 L767.4,759.1" stroke="#111" stroke-width="3.2" stroke-linecap="round"/>
<path d="M768.3,754.2 L772.3,758.2 M772.3,754.2 L768.3,758.2" stroke="#fff" stroke-width="1.0" stroke-linecap="round"/>
<rect x="774.0" y="761.3" width="5.2" height="5.6" rx="1.5" fill="#fff" stroke="#111" stroke-width="1.5"/>
<path d="M774.0,764.1 L779.2,764.1" stroke="#111" stroke-width="1.0"/>
<path d="M767.6,742.0 L773.4,747.8 M773.4,742.0 L767.6,747.8" stroke="#111" stroke-width="3.2" stroke-linecap="round"/>
<path d="M768.5,742.9 L772.5,746.9 M772.5,742.9 L768.5,746.9" stroke="#fff" stroke-width="1.0" stroke-linecap="round"/>
<rect x="773.9" y="750.6" width="5.2" height="5.6" rx="1.5" fill="#fff" stroke="#111" stroke-width="1.5"/>
<path d="M773.9,753.4 L779.1,753.4" stroke="#111" stroke-width="1.0"/>
<path d="M773.3,755.6 L779.1,761.4 M779.1,755.6 L773.3,761.4" stroke="#111" stroke-width="3.2" stroke-linecap="round"/>
<path d="M774.2,756.5 L778.2,760.5 M778.2,756.5 L774.2,760.5" stroke="#fff" stroke-width="1.0" stroke-linecap="round"/>
<rect x="778.9" y="764.0" width="5.2" height="5.6" rx="1.5" fill="#fff" stroke="#111" stroke-width="1.5"/>
<path d="M778.9,766.8 L784.1,766.8" stroke="#111" stroke-width="1.0"/>
<path d="M774.3,746.1 L780.1,751.9 M780.1,746.1 L774.3,751.9" stroke="#111" stroke-width="3.2" stroke-linecap="round"/>
<path d="M775.2,747.0 L779.2,751.0 M779.2,747.0 L775.2,751.0" stroke="#fff" stroke-width="1.0" stroke-linecap="round"/>
<rect x="779.5" y="755.1" width="5.2" height="5.6" rx="1.5" fill="#fff" stroke="#111" stroke-width="1.5"/>
<path d="M779.5,757.9 L784.7,757.9" stroke="#111" stroke-width="1.0"/>
<path d="M778.6,759.1 L784.4,764.9 M784.4,759.1 L778.6,764.9" stroke="#111" stroke-width="3.2" stroke-linecap="round"/>
<path d="M779.5,760.0 L783.5,764.0 M783.5,760.0 L779.5,764.0" stroke="#fff" stroke-width="1.0" stroke-linecap="round"/>
<rect x="783.0" y="767.7" width="5.2" height="5.6" rx="1.5" fill="#fff" stroke="#111" stroke-width="1.5"/>
<path d="M783.0,770.5 L788.2,770.5" stroke="#111" stroke-width="1.0"/>
<path d="M780.5,752.6 L786.3,758.4 M786.3,752.6 L780.5,758.4" stroke="#111" stroke-width="3.2" stroke-linecap="round"/>
<path d="M781.4,753.5 L785.4,757.5 M785.4,753.5 L781.4,757.5" stroke="#fff" stroke-width="1.0" stroke-linecap="round"/>
<rect x="784.8" y="763.5" width="5.2" height="5.6" rx="1.5" fill="#fff" stroke="#111" stroke-width="1.5"/>
<path d="M784.8,766.3 L790.0,766.3" stroke="#111" stroke-width="1.0"/>
<path d="M784.2,768.6 L790.0,774.4 M790.0,768.6 L784.2,774.4" stroke="#111" stroke-width="3.2" stroke-linecap="round"/>
<path d="M785.1,769.5 L789.1,773.5 M789.1,769.5 L785.1,773.5" stroke="#fff" stroke-width="1.0" stroke-linecap="round"/>
<path d="M785.3,759.1 L791.1,764.9 M791.1,759.1 L785.3,764.9" stroke="#111" stroke-width="3.2" stroke-linecap="round"/>
<path d="M786.2,760.0 L790.2,764.0 M790.2,760.0 L786.2,764.0" stroke="#fff" stroke-width="1.0" stroke-linecap="round"/>
<rect x="788.2" y="769.9" width="5.2" height="5.6" rx="1.5" fill="#fff" stroke="#111" stroke-width="1.5"/>
<path d="M788.2,772.7 L793.4,772.7" stroke="#111" stroke-width="1.0"/>
<path d="M787.3,773.9 L793.1,779.7 M793.1,773.9 L787.3,779.7" stroke="#111" stroke-width="3.2" stroke-linecap="round"/>
<path d="M788.2,774.8 L792.2,778.8 M792.2,774.8 L788.2,778.8" stroke="#fff" stroke-width="1.0" stroke-linecap="round"/>
<path d="M789.0,766.6 L794.8,772.4 M794.8,766.6 L789.0,772.4" stroke="#111" stroke-width="3.2" stroke-linecap="round"/>
<path d="M789.9,767.5 L793.9,771.5 M793.9,767.5 L789.9,771.5" stroke="#fff" stroke-width="1.0" stroke-linecap="round"/>
<rect x="790.6" y="777.1" width="5.2" height="5.6" rx="1.5" fill="#fff" stroke="#111" stroke-width="1.5"/>
<path d="M790.6,779.9 L795.8,779.9" stroke="#111" stroke-width="1.0"/>
<path d="M789.5,780.1 L795.3,785.9 M795.3,780.1 L789.5,785.9" stroke="#111" stroke-width="3.2" stroke-linecap="round"/>
<path d="M790.4,781.0 L794.4,785.0 M794.4,781.0 L790.4,785.0" stroke="#fff" stroke-width="1.0" stroke-linecap="round"/>
<path d="M791.4,776.4 L797.2,782.2 M797.2,776.4 L791.4,782.2" stroke="#111" stroke-width="3.2" stroke-linecap="round"/>
<path d="M792.3,777.3 L796.3,781.3 M796.3,777.3 L792.3,781.3" stroke="#fff" stroke-width="1.0" stroke-linecap="round"/>
<rect x="791.4" y="789.0" width="5.2" height="5.6" rx="1.5" fill="#fff" stroke="#111" stroke-width="1.5"/>
<path d="M791.4,791.8 L796.6,791.8" stroke="#111" stroke-width="1.0"/>
<path d="M792.6,785.2 L798.4,791.0 M798.4,785.2 L792.6,791.0" stroke="#111" stroke-width="3.2" stroke-linecap="round"/>
<path d="M793.5,786.1 L797.5,790.1 M797.5,786.1 L793.5,790.1" stroke="#fff" stroke-width="1.0" stroke-linecap="round"/>
<rect x="791.2" y="796.7" width="5.2" height="5.6" rx="1.5" fill="#fff" stroke="#111" stroke-width="1.5"/>
<path d="M791.2,799.5 L796.4,799.5" stroke="#111" stroke-width="1.0"/>
<path d="M792.5,794.4 L798.3,800.2 M798.3,794.4 L792.5,800.2" stroke="#111" stroke-width="3.2" stroke-linecap="round"/>
<path d="M793.4,795.3 L797.4,799.3 M797.4,795.3 L793.4,799.3" stroke="#fff" stroke-width="1.0" stroke-linecap="round"/>
<rect x="790.0" y="804.7" width="5.2" height="5.6" rx="1.5" fill="#fff" stroke="#111" stroke-width="1.5"/>
<path d="M790.0,807.5 L795.2,807.5" stroke="#111" stroke-width="1.0"/>
<path d="M790.0,806.0 L795.8,811.8 M795.8,806.0 L790.0,811.8" stroke="#111" stroke-width="3.2" stroke-linecap="round"/>
<path d="M790.9,806.9 L794.9,810.9 M794.9,806.9 L790.9,810.9" stroke="#fff" stroke-width="1.0" stroke-linecap="round"/>
<path d="M787.4,814.7 L793.2,820.5 M793.2,814.7 L787.4,820.5" stroke="#111" stroke-width="3.2" stroke-linecap="round"/>
<path d="M788.3,815.6 L792.3,819.6 M792.3,815.6 L788.3,819.6" stroke="#fff" stroke-width="1.0" stroke-linecap="round"/>
<path d="M788.1,823.0 L788.4,827.0 L785.0,829.0 L784.9,833.0 L781.4,834.7 L780.9,838.8 L777.3,840.1 L776.5,844.1 L772.9,845.0 L771.8,848.9 L768.1,849.5 L766.6,853.2 L763.0,853.4 L761.2,856.9 L757.6,856.7 L755.6,860.1 L752.1,859.5 L749.8,862.6 L746.5,861.6 L743.9,864.4 L740.8,863.0 L738.0,865.5 L735.1,863.8 L732.1,865.9 L729.4,863.8 L726.3,865.6 L723.9,863.2 L720.7,864.5 L718.6,861.9 L715.3,862.8 L713.5,859.9 L710.2,860.4 L708.8,857.3 L705.4,857.4 L704.3,854.1 L701.0,853.7 L700.3,850.2 L697.0,849.5 L696.7,845.9 L693.6,844.7 L693.6,841.0 L690.6,839.5 L691.1,835.7 L688.2,833.8 L689.1,830.1 L686.4,827.8 L687.6,824.1 L685.1,821.5 L686.7,817.8 L684.5,814.9 L686.5,811.4 L684.5,808.2 L686.8,804.9 L685.2,801.5 L687.7,798.3 L686.4,794.7 L689.2,791.8 L688.2,788.0 L691.3,785.3 L690.6,781.4 L693.9,779.0 L693.6,775.0 L697.0,773.0 L697.1,769.0 L700.6,767.3 L701.1,763.2 L704.7,761.9 L705.5,757.9 L709.1,757.0 L710.2,753.1 L713.9,752.5 L715.4,748.8 L719.0,748.6 L720.8,745.1 L724.4,745.3 L726.4,741.9 L729.9,742.5 L732.2,739.4 L735.5,740.4 L738.1,737.6 L741.2,739.0 L744.0,736.5 L746.9,738.2 L749.9,736.1 L752.6,738.2 L755.7,736.4 L758.1,738.8 L761.3,737.5 L763.4,740.1 L766.7,739.2 L768.5,742.1 L771.8,741.6 L773.2,744.7 L776.6,744.6 L777.7,747.9 L781.0,748.3 L781.7,751.8 L785.0,752.5 L785.3,756.1 L788.4,757.3 L788.4,761.0 L791.4,762.5 L790.9,766.3 L793.8,768.2 L792.9,771.9 L795.6,774.2 L794.4,777.9 L796.9,780.5 L795.3,784.2 L797.5,787.1 L795.5,790.6 L797.5,793.8 L795.2,797.1 L796.8,800.5 L794.3,803.7 L795.6,807.3 L792.8,810.2 L793.8,814.0 L790.7,816.7 L791.4,820.6 Z" fill="none" stroke="#111" stroke-width="1.6"/>
<ellipse cx="756" cy="813" rx="32" ry="50" transform="rotate(30 756 813)" fill="#fff" stroke="#111" stroke-width="1.4"/>
<ellipse cx="756" cy="813" rx="29" ry="47" transform="rotate(30 756 813)" fill="#fff" stroke="#111" stroke-width="1.2"/>
<ellipse cx="754" cy="812" rx="23.2" ry="37.6" transform="rotate(30 754 812)" fill="none" stroke="#111" stroke-width="1.1"/>
<ellipse cx="753" cy="811" rx="20.3" ry="32.9" transform="rotate(30 753 811)" fill="none" stroke="#111" stroke-width="1.1"/>
<ellipse cx="752" cy="810" rx="17.7" ry="28.7" transform="rotate(30 752 810)" fill="none" stroke="#111" stroke-width="1.1"/>
<ellipse cx="751" cy="809" rx="15.1" ry="24.4" transform="rotate(30 751 809)" fill="none" stroke="#111" stroke-width="1.1"/>
<ellipse cx="750" cy="808" rx="12.5" ry="20.2" transform="rotate(30 750 808)" fill="none" stroke="#111" stroke-width="1.1"/>
<ellipse cx="745" cy="800" rx="4.2" ry="5" transform="rotate(20 745 800)" fill="#fff" stroke="#111" stroke-width="1.3"/>
<path d="M742,804 L752,811 L757,803 L747,796 Z" fill="#fff" stroke="#111" stroke-width="0.01" />
<path d="M742,804 L752,811 M747,796 L757,803" fill="none" stroke="#111" stroke-width="1.3" />
<ellipse cx="754.5" cy="807" rx="4.2" ry="5" transform="rotate(20 754.5 807)" fill="#fff" stroke="#111" stroke-width="1.5"/>
<ellipse cx="734.5" cy="816" rx="2" ry="2" transform="rotate(0 734.5 816)" fill="#555" stroke="#111" stroke-width="1.4"/>
<ellipse cx="797.8" cy="828" rx="3.5" ry="4.5" transform="rotate(15 797.8 828)" fill="#fff" stroke="#111" stroke-width="1.5"/>
<ellipse cx="797.8" cy="828" rx="1.5" ry="2" transform="rotate(15 797.8 828)" fill="none" stroke="#111" stroke-width="1.0"/>
<path d="M809,833 L816,836 L813,842 L806,839 Z" fill="#fff" stroke="#111" stroke-width="1.2" />
<ellipse cx="815" cy="839" rx="2.5" ry="3.5" transform="rotate(15 815 839)" fill="#fff" stroke="#111" stroke-width="1.2"/>
<path d="M801.0,830.0 L809.0,835.0" fill="none" stroke="#111" stroke-width="1.1"/>
<path d="M351.7,799 L356.9,794.4 L364.6,799.5 L415.1,825.4 L416.4,832 L421.6,838.4 Q422,858 411.2,879.8 Q402,896 388,908.3 L328.4,939.4 L307.7,932.9 L305,927 L281.8,913.5 L279.2,916 L258.5,905.7 L257.2,901.8 L315.4,868.2 Q333,856 344,833.2 Q350,816 351.7,799 Z" fill="#fff" stroke="#111" stroke-width="1.4" />
<path d="M315.4,868.2 L390.5,903" fill="none" stroke="#111" stroke-width="1.1" />
<path d="M344,837 L416.4,874.6" fill="none" stroke="#111" stroke-width="1.1" />
<path d="M364.6,799.5 L367.2,828 M361,803 L366,826" fill="none" stroke="#111" stroke-width="1.1" />
<path d="M357,806 L415.5,836" fill="none" stroke="#111" stroke-width="1.0" />
<path d="M264,906 L328,936" fill="none" stroke="#111" stroke-width="1.0" />
<path d="M280,903 Q279,899 284,898.5 L316,899.5 L314,884 Q315,876 323,876.5 Q328,877 333,880 L371,901 Q376,905 371,908 L334,925 Q329,928 325,926 L284,906 Q279,905 280,903 Z" fill="none" stroke="#111" stroke-width="1.3" />
<path d="M283,902 L317.5,902.5 M317,897 L316,884 Q318,879 323,879.5 L370,903.5" fill="none" stroke="#111" stroke-width="0.8" />
<path d="M294.5,905.5 L321,905 L322,920.5 Z" fill="none" stroke="#111" stroke-width="1.2" />
<path d="M327.5,887.5 L355,902.5 L329.5,902.5 Z" fill="none" stroke="#111" stroke-width="1.2" />
<path d="M343,917 L365,908 L376,910.5 L353,920.5 Z" fill="#fff" stroke="#111" stroke-width="1.1" />
<ellipse cx="324.5" cy="904.4" rx="1" ry="1" transform="rotate(0 324.5 904.4)" fill="#333" stroke="#111" stroke-width="1"/>
<path d="M376.5,921 Q379,918 381.5,921 L381,928 Q379,930 377,928 Z" fill="#333" stroke="#111" stroke-width="1.2" />
<path d="M379.3,903.0 L379.3,920.0" fill="none" stroke="#111" stroke-width="1.1" stroke-dasharray="1.5,1"/>
<path d="M313.5,862 L313.5,869" fill="none" stroke="#111" stroke-width="1.8" />
<ellipse cx="191.3" cy="963.6" rx="8.8" ry="8.8" transform="rotate(0 191.3 963.6)" fill="#fff" stroke="#111" stroke-width="1.0"/>
<text x="191.3" y="968.1" font-size="12.5" text-anchor="middle">41</text>
<ellipse cx="271.8" cy="1027" rx="19.5" ry="26.5" transform="rotate(-22 271.8 1027)" fill="#fff" stroke="#111" stroke-width="1.6"/>
<ellipse cx="271.8" cy="1027" rx="17" ry="24" transform="rotate(-22 271.8 1027)" fill="none" stroke="#111" stroke-width="1.2"/>
<ellipse cx="272" cy="1027" rx="14.5" ry="21" transform="rotate(-22 272 1027)" fill="none" stroke="#111" stroke-width="2.2"/>
<path d="M275.9,1028.3 L284.6,1031.9" stroke="#111" stroke-width="3.0"/>
<path d="M275.9,1028.3 L284.6,1031.9" stroke="#fff" stroke-width="1.0"/>
<path d="M273.0,1031.8 L275.4,1045.4" stroke="#111" stroke-width="3.0"/>
<path d="M273.0,1031.8 L275.4,1045.4" stroke="#fff" stroke-width="1.0"/>
<path d="M269.2,1030.5 L262.8,1040.4" stroke="#111" stroke-width="3.0"/>
<path d="M269.2,1030.5 L262.8,1040.4" stroke="#fff" stroke-width="1.0"/>
<path d="M268.1,1025.7 L259.4,1022.1" stroke="#111" stroke-width="3.0"/>
<path d="M268.1,1025.7 L259.4,1022.1" stroke="#fff" stroke-width="1.0"/>
<path d="M271.0,1022.2 L268.6,1008.6" stroke="#111" stroke-width="3.0"/>
<path d="M271.0,1022.2 L268.6,1008.6" stroke="#fff" stroke-width="1.0"/>
<path d="M274.8,1023.5 L281.2,1013.6" stroke="#111" stroke-width="3.0"/>
<path d="M274.8,1023.5 L281.2,1013.6" stroke="#fff" stroke-width="1.0"/>
<ellipse cx="272" cy="1027" rx="4.5" ry="5.5" transform="rotate(-22 272 1027)" fill="#fff" stroke="#111" stroke-width="1.4"/>
<path d="M252.5,1039.0 L264.6,1034.6" fill="none" stroke="#111" stroke-width="1.2"/>
<ellipse cx="248" cy="1041.7" rx="5.5" ry="6.5" transform="rotate(-15 248 1041.7)" fill="#fff" stroke="#111" stroke-width="1.4"/>
<ellipse cx="248" cy="1041.7" rx="2" ry="2.5" transform="rotate(-15 248 1041.7)" fill="none" stroke="#111" stroke-width="1.1"/>
<path d="M227,1050 L237,1044 L240.5,1050 L230.5,1056 Z" fill="#333" stroke="#111" stroke-width="1.3" />
<path d="M230,1049 L238,1045" fill="none" stroke="#ccc" stroke-width="0.8" />
<path d="M241.0,1047.0 L243.0,1045.5" fill="none" stroke="#111" stroke-width="1.2"/>
<ellipse cx="345.2" cy="965.6" rx="8.7" ry="8.7" transform="rotate(0 345.2 965.6)" fill="#fff" stroke="#111" stroke-width="1.0"/>
<text x="345.2" y="970.1" font-size="12.5" text-anchor="middle">42</text>
<path d="M367.7,983.4 L370.1,984.5 L370.3,986.1 L368.2,987.5 L368.1,988.9 L370.0,990.9 L369.6,992.4 L367.1,992.7 L366.6,993.8 L367.5,996.3 L366.5,997.4 L364.2,996.5 L363.3,997.2 L363.1,999.8 L361.8,1000.2 L360.1,998.3 L359.0,998.3 L357.7,1000.4 L356.3,1000.2 L355.6,997.6 L354.5,997.1 L352.4,998.3 L351.2,997.3 L351.5,994.6 L350.7,993.6 L348.1,993.7 L347.4,992.2 L348.8,989.9 L348.3,988.6 L345.9,987.5 L345.7,985.9 L347.8,984.5 L347.9,983.1 L346.0,981.1 L346.4,979.6 L348.9,979.3 L349.4,978.2 L348.5,975.7 L349.5,974.6 L351.8,975.5 L352.7,974.8 L352.9,972.2 L354.2,971.8 L355.9,973.7 L357.0,973.7 L358.3,971.6 L359.7,971.8 L360.4,974.4 L361.5,974.9 L363.6,973.7 L364.8,974.7 L364.5,977.4 L365.3,978.4 L367.9,978.3 L368.6,979.8 L367.2,982.1 Z" fill="#222" stroke="#111" stroke-width="1.3"/>
<path d="M368.5,983.8 L371.0,984.8 L371.2,986.5 L369.1,987.9 L369.0,989.3 L370.9,991.3 L370.5,992.8 L368.0,993.1 L367.4,994.2 L368.4,996.7 L367.4,997.8 L365.1,996.9 L364.2,997.6 L364.0,1000.1 L362.7,1000.6 L361.0,998.7 L359.9,998.7 L358.6,1000.8 L357.2,1000.5 L356.5,998.0 L355.4,997.4 L353.2,998.7 L352.0,997.7 L352.4,995.0 L351.6,994.0 L349.0,994.1 L348.2,992.6 L349.6,990.3 L349.2,989.0 L346.7,987.9 L346.5,986.3 L348.7,984.8 L348.8,983.5 L346.9,981.5 L347.3,980.0 L349.8,979.7 L350.3,978.6 L349.4,976.0 L350.3,975.0 L352.6,975.8 L353.6,975.2 L353.8,972.6 L355.1,972.2 L356.7,974.1 L357.9,974.0 L359.2,971.9 L360.6,972.2 L361.3,974.8 L362.4,975.3 L364.5,974.1 L365.7,975.1 L365.3,977.8 L366.2,978.8 L368.7,978.7 L369.5,980.1 L368.1,982.5 Z" fill="#333" stroke="#111" stroke-width="0.6"/>
<path d="M369.4,984.2 L371.9,985.2 L372.1,986.8 L369.9,988.3 L369.9,989.7 L371.8,991.6 L371.3,993.1 L368.9,993.5 L368.3,994.6 L369.2,997.1 L368.3,998.2 L366.0,997.3 L365.1,997.9 L364.9,1000.5 L363.6,1000.9 L361.9,999.0 L360.8,999.1 L359.4,1001.2 L358.1,1000.9 L357.4,998.4 L356.3,997.8 L354.1,999.0 L352.9,998.1 L353.3,995.4 L352.5,994.3 L349.9,994.4 L349.1,993.0 L350.5,990.7 L350.1,989.3 L347.6,988.3 L347.4,986.7 L349.6,985.2 L349.6,983.8 L347.7,981.9 L348.2,980.4 L350.6,980.0 L351.2,978.9 L350.3,976.4 L351.2,975.3 L353.5,976.2 L354.4,975.6 L354.6,973.0 L355.9,972.6 L357.6,974.5 L358.7,974.4 L360.1,972.3 L361.4,972.6 L362.1,975.1 L363.2,975.7 L365.4,974.5 L366.6,975.4 L366.2,978.1 L367.0,979.2 L369.6,979.1 L370.4,980.5 L369.0,982.8 Z" fill="#333" stroke="#111" stroke-width="0.6"/>
<path d="M370.3,984.5 L372.8,985.6 L373.0,987.2 L370.8,988.7 L370.7,990.0 L372.6,992.0 L372.2,993.5 L369.7,993.8 L369.2,994.9 L370.1,997.5 L369.2,998.5 L366.9,997.7 L365.9,998.3 L365.7,1000.9 L364.4,1001.3 L362.8,999.4 L361.6,999.5 L360.3,1001.6 L358.9,1001.3 L358.2,998.7 L357.1,998.2 L355.0,999.4 L353.8,998.4 L354.2,995.7 L353.3,994.7 L350.8,994.8 L350.0,993.4 L351.4,991.0 L351.0,989.7 L348.5,988.7 L348.3,987.0 L350.4,985.6 L350.5,984.2 L348.6,982.2 L349.0,980.7 L351.5,980.4 L352.1,979.3 L351.1,976.8 L352.1,975.7 L354.4,976.6 L355.3,975.9 L355.5,973.4 L356.8,972.9 L358.5,974.8 L359.6,974.8 L360.9,972.7 L362.3,973.0 L363.0,975.5 L364.1,976.1 L366.3,974.8 L367.5,975.8 L367.1,978.5 L367.9,979.5 L370.5,979.4 L371.3,980.9 L369.9,983.2 Z" fill="#333" stroke="#111" stroke-width="0.6"/>
<path d="M371.2,984.9 L373.6,986.0 L373.8,987.6 L371.7,989.0 L371.6,990.4 L373.5,992.4 L373.1,993.9 L370.6,994.2 L370.1,995.3 L371.0,997.8 L370.0,998.9 L367.7,998.0 L366.8,998.7 L366.6,1001.3 L365.3,1001.7 L363.6,999.8 L362.5,999.8 L361.2,1001.9 L359.8,1001.7 L359.1,999.1 L358.0,998.6 L355.9,999.8 L354.7,998.8 L355.0,996.1 L354.2,995.1 L351.6,995.2 L350.9,993.7 L352.3,991.4 L351.8,990.1 L349.4,989.0 L349.2,987.4 L351.3,986.0 L351.4,984.6 L349.5,982.6 L349.9,981.1 L352.4,980.8 L352.9,979.7 L352.0,977.2 L353.0,976.1 L355.3,977.0 L356.2,976.3 L356.4,973.7 L357.7,973.3 L359.4,975.2 L360.5,975.2 L361.8,973.1 L363.2,973.3 L363.9,975.9 L365.0,976.4 L367.1,975.2 L368.3,976.2 L368.0,978.9 L368.8,979.9 L371.4,979.8 L372.1,981.3 L370.7,983.6 Z" fill="#fff" stroke="#111" stroke-width="1.3"/>
<ellipse cx="362.5" cy="987.5" rx="7" ry="9.5" transform="rotate(-15 362.5 987.5)" fill="none" stroke="#111" stroke-width="1.2"/>
<ellipse cx="364" cy="987.5" rx="4" ry="5.5" transform="rotate(-15 364 987.5)" fill="#fff" stroke="#111" stroke-width="1.3"/>
<path d="M365,990 L396,1005 L394.5,1009 L363.5,994 Z" fill="#fff" stroke="#111" stroke-width="1.2" />
<path d="M420.0,1011.5 L422.2,1012.1 L422.4,1013.1 L420.6,1014.4 L420.7,1015.4 L422.8,1016.4 L422.8,1017.4 L420.8,1018.2 L420.7,1019.2 L422.5,1020.6 L422.4,1021.6 L420.3,1021.9 L420.0,1022.8 L421.5,1024.6 L421.2,1025.5 L419.1,1025.3 L418.7,1026.0 L419.8,1028.0 L419.2,1028.8 L417.3,1028.1 L416.7,1028.7 L417.4,1030.9 L416.7,1031.5 L415.0,1030.3 L414.3,1030.7 L414.5,1032.9 L413.7,1033.3 L412.3,1031.7 L411.5,1031.9 L411.2,1034.0 L410.3,1034.2 L409.3,1032.3 L408.5,1032.3 L407.7,1034.2 L406.8,1034.1 L406.2,1032.0 L405.4,1031.7 L404.2,1033.4 L403.3,1033.1 L403.1,1030.8 L402.4,1030.4 L400.8,1031.7 L400.0,1031.2 L400.3,1028.9 L399.6,1028.3 L397.7,1029.2 L397.0,1028.4 L397.8,1026.2 L397.2,1025.5 L395.1,1025.9 L394.5,1025.0 L395.7,1023.0 L395.3,1022.2 L393.1,1022.1 L392.7,1021.1 L394.2,1019.4 L394.0,1018.5 L391.8,1017.9 L391.6,1016.9 L393.4,1015.6 L393.3,1014.6 L391.2,1013.6 L391.2,1012.6 L393.2,1011.8 L393.3,1010.8 L391.5,1009.4 L391.6,1008.4 L393.7,1008.1 L394.0,1007.2 L392.5,1005.4 L392.8,1004.5 L394.9,1004.7 L395.3,1004.0 L394.2,1002.0 L394.8,1001.2 L396.7,1001.9 L397.3,1001.3 L396.6,999.1 L397.3,998.5 L399.0,999.7 L399.7,999.3 L399.5,997.1 L400.3,996.7 L401.7,998.3 L402.5,998.1 L402.8,996.0 L403.7,995.8 L404.7,997.7 L405.5,997.7 L406.3,995.8 L407.2,995.9 L407.8,998.0 L408.6,998.3 L409.8,996.6 L410.7,996.9 L410.9,999.2 L411.6,999.6 L413.2,998.3 L414.0,998.8 L413.7,1001.1 L414.4,1001.7 L416.3,1000.8 L417.0,1001.6 L416.2,1003.8 L416.8,1004.5 L418.9,1004.1 L419.5,1005.0 L418.3,1007.0 L418.7,1007.8 L420.9,1007.9 L421.3,1008.9 L419.8,1010.6 Z" fill="#fff" stroke="#111" stroke-width="1.1"/>
<ellipse cx="415.0" cy="1015.0" rx="1.8" ry="2.5" transform="rotate(-15 415.0 1015.0)" fill="none" stroke="#111" stroke-width="1.0"/>
<ellipse cx="411.0" cy="1024.5" rx="1.8" ry="2.5" transform="rotate(-15 411.0 1024.5)" fill="none" stroke="#111" stroke-width="1.0"/>
<ellipse cx="403.0" cy="1024.5" rx="1.8" ry="2.5" transform="rotate(-15 403.0 1024.5)" fill="none" stroke="#111" stroke-width="1.0"/>
<ellipse cx="399.0" cy="1015.0" rx="1.8" ry="2.5" transform="rotate(-15 399.0 1015.0)" fill="none" stroke="#111" stroke-width="1.0"/>
<ellipse cx="403.0" cy="1005.5" rx="1.8" ry="2.5" transform="rotate(-15 403.0 1005.5)" fill="none" stroke="#111" stroke-width="1.0"/>
<ellipse cx="411.0" cy="1005.5" rx="1.8" ry="2.5" transform="rotate(-15 411.0 1005.5)" fill="none" stroke="#111" stroke-width="1.0"/>
<ellipse cx="408" cy="1015.5" rx="3" ry="3.5" transform="rotate(0 408 1015.5)" fill="#fff" stroke="#111" stroke-width="1.2"/>
<path d="M409,1014 L438,1028 L436,1032 L407,1018 Z" fill="#fff" stroke="#111" stroke-width="1.1" />
<ellipse cx="426.0" cy="1027.0" rx="2.5" ry="4" transform="rotate(-15 426.0 1027.0)" fill="#fff" stroke="#111" stroke-width="1.6"/>
<ellipse cx="430.5" cy="1029.3" rx="2.5" ry="4" transform="rotate(-15 430.5 1029.3)" fill="#fff" stroke="#111" stroke-width="1.6"/>
<ellipse cx="435.0" cy="1031.6" rx="2.5" ry="4" transform="rotate(-15 435.0 1031.6)" fill="#fff" stroke="#111" stroke-width="1.6"/>
<path d="M438,1034 L447,1037 L445,1043 L436,1040 Z" fill="#fff" stroke="#111" stroke-width="1.2" />
<ellipse cx="456" cy="1045" rx="8" ry="12.5" transform="rotate(-10 456 1045)" fill="#fff" stroke="#111" stroke-width="1.4"/>
<ellipse cx="457" cy="1044" rx="2.2" ry="3" transform="rotate(-10 457 1044)" fill="#333" stroke="#111" stroke-width="1.1"/>
<ellipse cx="452" cy="1052" rx="1.3" ry="1.6" transform="rotate(0 452 1052)" fill="none" stroke="#111" stroke-width="1.0"/>
<path d="M447.0,1036.0 L458.0,1040.0" fill="none" stroke="#111" stroke-width="1.2"/>
<path d="M471.9,1048.6 L473.9,1049.8 L473.9,1051.4 L472.0,1052.3 L471.8,1053.4 L472.9,1055.5 L472.3,1056.6 L470.5,1056.1 L469.8,1056.7 L469.7,1058.8 L468.7,1059.2 L467.6,1057.4 L466.8,1057.3 L465.5,1058.6 L464.4,1058.0 L464.5,1055.7 L463.8,1054.8 L461.8,1054.9 L461.2,1053.6 L462.4,1051.6 L462.1,1050.4 L460.1,1049.2 L460.1,1047.6 L462.0,1046.7 L462.2,1045.6 L461.1,1043.5 L461.7,1042.4 L463.5,1042.9 L464.2,1042.3 L464.3,1040.2 L465.3,1039.8 L466.4,1041.6 L467.2,1041.7 L468.5,1040.4 L469.6,1041.0 L469.5,1043.3 L470.2,1044.2 L472.2,1044.1 L472.8,1045.4 L471.6,1047.4 Z" fill="#222" stroke="#111" stroke-width="1.2"/>
<path d="M472.4,1048.9 L474.4,1050.1 L474.4,1051.6 L472.5,1052.6 L472.3,1053.7 L473.4,1055.7 L472.8,1056.9 L471.0,1056.4 L470.3,1057.0 L470.2,1059.1 L469.2,1059.4 L468.1,1057.7 L467.3,1057.5 L466.0,1058.9 L464.9,1058.3 L465.0,1055.9 L464.3,1055.1 L462.3,1055.2 L461.7,1053.9 L462.9,1051.8 L462.6,1050.6 L460.6,1049.4 L460.6,1047.9 L462.5,1046.9 L462.7,1045.8 L461.6,1043.8 L462.2,1042.6 L464.0,1043.1 L464.7,1042.5 L464.8,1040.4 L465.8,1040.1 L466.9,1041.8 L467.7,1042.0 L469.0,1040.6 L470.1,1041.2 L470.0,1043.6 L470.7,1044.4 L472.7,1044.3 L473.3,1045.6 L472.1,1047.7 Z" fill="#333" stroke="#111" stroke-width="0.6"/>
<path d="M472.9,1049.1 L474.9,1050.3 L474.9,1051.9 L473.0,1052.8 L472.8,1053.9 L473.9,1056.0 L473.3,1057.1 L471.5,1056.6 L470.8,1057.2 L470.7,1059.3 L469.7,1059.7 L468.6,1057.9 L467.8,1057.8 L466.5,1059.1 L465.4,1058.5 L465.5,1056.2 L464.8,1055.3 L462.8,1055.4 L462.2,1054.1 L463.4,1052.1 L463.1,1050.9 L461.1,1049.7 L461.1,1048.1 L463.0,1047.2 L463.2,1046.1 L462.1,1044.0 L462.7,1042.9 L464.5,1043.4 L465.2,1042.8 L465.3,1040.7 L466.3,1040.3 L467.4,1042.1 L468.2,1042.2 L469.5,1040.9 L470.6,1041.5 L470.5,1043.8 L471.2,1044.7 L473.2,1044.6 L473.8,1045.9 L472.6,1047.9 Z" fill="#333" stroke="#111" stroke-width="0.6"/>
<path d="M473.4,1049.4 L475.4,1050.6 L475.4,1052.1 L473.5,1053.1 L473.3,1054.2 L474.4,1056.2 L473.8,1057.4 L472.0,1056.9 L471.3,1057.5 L471.2,1059.6 L470.2,1059.9 L469.1,1058.2 L468.3,1058.0 L467.0,1059.4 L465.9,1058.8 L466.0,1056.4 L465.3,1055.6 L463.3,1055.7 L462.7,1054.4 L463.9,1052.3 L463.6,1051.1 L461.6,1049.9 L461.6,1048.4 L463.5,1047.4 L463.7,1046.3 L462.6,1044.3 L463.2,1043.1 L465.0,1043.6 L465.7,1043.0 L465.8,1040.9 L466.8,1040.6 L467.9,1042.3 L468.7,1042.5 L470.0,1041.1 L471.1,1041.7 L471.0,1044.1 L471.7,1044.9 L473.7,1044.8 L474.3,1046.1 L473.1,1048.2 Z" fill="#333" stroke="#111" stroke-width="0.6"/>
<path d="M473.9,1049.6 L475.9,1050.8 L475.9,1052.4 L474.0,1053.3 L473.8,1054.4 L474.9,1056.5 L474.3,1057.6 L472.5,1057.1 L471.8,1057.7 L471.7,1059.8 L470.7,1060.2 L469.6,1058.4 L468.8,1058.3 L467.5,1059.6 L466.4,1059.0 L466.5,1056.7 L465.8,1055.8 L463.8,1055.9 L463.2,1054.6 L464.4,1052.6 L464.1,1051.4 L462.1,1050.2 L462.1,1048.6 L464.0,1047.7 L464.2,1046.6 L463.1,1044.5 L463.7,1043.4 L465.5,1043.9 L466.2,1043.3 L466.3,1041.2 L467.3,1040.8 L468.4,1042.6 L469.2,1042.7 L470.5,1041.4 L471.6,1042.0 L471.5,1044.3 L472.2,1045.2 L474.2,1045.1 L474.8,1046.4 L473.6,1048.4 Z" fill="#fff" stroke="#111" stroke-width="1.2"/>
<path d="M467.9,1057.2 L469.5,1058.3 L469.4,1059.7 L467.7,1060.4 L467.3,1061.3 L467.8,1063.2 L466.9,1064.0 L465.3,1063.2 L464.5,1063.4 L463.5,1065.0 L462.4,1064.8 L461.8,1062.9 L461.0,1062.4 L459.3,1062.7 L458.5,1061.6 L459.3,1059.8 L459.1,1058.8 L457.5,1057.7 L457.6,1056.3 L459.3,1055.6 L459.7,1054.7 L459.2,1052.8 L460.1,1052.0 L461.7,1052.8 L462.5,1052.6 L463.5,1051.0 L464.6,1051.2 L465.2,1053.1 L466.0,1053.6 L467.7,1053.3 L468.5,1054.4 L467.7,1056.2 Z" fill="#333" stroke="#111" stroke-width="1.2"/>
<path d="M491.7,1058.5 L494.3,1059.3 L494.5,1060.8 L492.2,1062.2 L492.2,1063.3 L494.5,1065.1 L494.2,1066.4 L491.6,1066.8 L491.3,1067.8 L492.8,1070.2 L492.1,1071.3 L489.7,1070.5 L489.0,1071.2 L489.5,1073.9 L488.5,1074.5 L486.6,1072.8 L485.7,1073.1 L485.2,1075.6 L484.0,1075.7 L482.9,1073.3 L482.0,1073.1 L480.5,1075.1 L479.3,1074.7 L479.2,1071.9 L478.3,1071.3 L476.1,1072.5 L475.1,1071.6 L475.9,1068.9 L475.3,1067.9 L472.6,1068.1 L472.0,1066.8 L473.7,1064.6 L473.3,1063.5 L470.7,1062.7 L470.5,1061.2 L472.8,1059.8 L472.8,1058.7 L470.5,1056.9 L470.8,1055.6 L473.4,1055.2 L473.7,1054.2 L472.2,1051.8 L472.9,1050.7 L475.3,1051.5 L476.0,1050.8 L475.5,1048.1 L476.5,1047.5 L478.4,1049.2 L479.3,1048.9 L479.8,1046.4 L481.0,1046.3 L482.1,1048.7 L483.0,1048.9 L484.5,1046.9 L485.7,1047.3 L485.8,1050.1 L486.7,1050.7 L488.9,1049.5 L489.9,1050.4 L489.1,1053.1 L489.7,1054.1 L492.4,1053.9 L493.0,1055.2 L491.3,1057.4 Z" fill="#222" stroke="#111" stroke-width="1.3"/>
<path d="M492.6,1058.9 L495.2,1059.7 L495.4,1061.2 L493.1,1062.5 L493.1,1063.7 L495.3,1065.4 L495.1,1066.8 L492.5,1067.1 L492.2,1068.2 L493.7,1070.6 L493.0,1071.6 L490.6,1070.9 L489.9,1071.6 L490.4,1074.3 L489.4,1074.9 L487.5,1073.2 L486.6,1073.5 L486.1,1076.0 L484.9,1076.1 L483.8,1073.6 L482.9,1073.5 L481.4,1075.5 L480.2,1075.1 L480.1,1072.3 L479.2,1071.7 L476.9,1072.9 L476.0,1071.9 L476.8,1069.2 L476.1,1068.3 L473.5,1068.5 L472.9,1067.2 L474.6,1065.0 L474.2,1063.8 L471.6,1063.0 L471.4,1061.6 L473.7,1060.2 L473.7,1059.0 L471.4,1057.3 L471.7,1055.9 L474.2,1055.6 L474.6,1054.6 L473.1,1052.2 L473.8,1051.1 L476.2,1051.9 L476.9,1051.2 L476.4,1048.5 L477.4,1047.9 L479.3,1049.6 L480.1,1049.3 L480.7,1046.8 L481.8,1046.7 L482.9,1049.1 L483.9,1049.3 L485.4,1047.2 L486.6,1047.7 L486.7,1050.5 L487.6,1051.1 L489.8,1049.9 L490.8,1050.8 L489.9,1053.5 L490.6,1054.5 L493.3,1054.3 L493.9,1055.6 L492.2,1057.7 Z" fill="#333" stroke="#111" stroke-width="0.6"/>
<path d="M493.4,1059.3 L496.1,1060.1 L496.3,1061.5 L494.0,1062.9 L494.0,1064.1 L496.2,1065.8 L495.9,1067.2 L493.4,1067.5 L493.0,1068.5 L494.5,1070.9 L493.8,1072.0 L491.4,1071.2 L490.8,1072.0 L491.3,1074.6 L490.3,1075.3 L488.4,1073.5 L487.5,1073.8 L487.0,1076.4 L485.8,1076.5 L484.7,1074.0 L483.7,1073.8 L482.2,1075.9 L481.1,1075.4 L480.9,1072.6 L480.0,1072.0 L477.8,1073.3 L476.8,1072.3 L477.7,1069.6 L477.0,1068.6 L474.4,1068.9 L473.7,1067.6 L475.4,1065.4 L475.1,1064.2 L472.4,1063.4 L472.2,1062.0 L474.5,1060.6 L474.5,1059.4 L472.3,1057.7 L472.6,1056.3 L475.1,1056.0 L475.5,1055.0 L474.0,1052.6 L474.7,1051.5 L477.1,1052.3 L477.7,1051.5 L477.2,1048.9 L478.2,1048.2 L480.1,1050.0 L481.0,1049.7 L481.5,1047.1 L482.7,1047.0 L483.8,1049.5 L484.8,1049.7 L486.3,1047.6 L487.4,1048.1 L487.6,1050.9 L488.5,1051.5 L490.7,1050.2 L491.7,1051.2 L490.8,1053.9 L491.5,1054.9 L494.1,1054.6 L494.8,1055.9 L493.1,1058.1 Z" fill="#333" stroke="#111" stroke-width="0.6"/>
<path d="M494.3,1059.7 L496.9,1060.5 L497.1,1061.9 L494.8,1063.3 L494.8,1064.5 L497.1,1066.2 L496.8,1067.6 L494.3,1067.9 L493.9,1068.9 L495.4,1071.3 L494.7,1072.4 L492.3,1071.6 L491.6,1072.3 L492.1,1075.0 L491.1,1075.6 L489.2,1073.9 L488.4,1074.2 L487.8,1076.7 L486.7,1076.8 L485.6,1074.4 L484.6,1074.2 L483.1,1076.3 L481.9,1075.8 L481.8,1073.0 L480.9,1072.4 L478.7,1073.6 L477.7,1072.7 L478.6,1070.0 L477.9,1069.0 L475.2,1069.2 L474.6,1067.9 L476.3,1065.8 L475.9,1064.6 L473.3,1063.8 L473.1,1062.3 L475.4,1061.0 L475.4,1059.8 L473.2,1058.1 L473.4,1056.7 L476.0,1056.4 L476.3,1055.3 L474.8,1052.9 L475.5,1051.9 L477.9,1052.6 L478.6,1051.9 L478.1,1049.2 L479.1,1048.6 L481.0,1050.3 L481.9,1050.0 L482.4,1047.5 L483.6,1047.4 L484.7,1049.9 L485.6,1050.0 L487.1,1048.0 L488.3,1048.4 L488.4,1051.2 L489.3,1051.8 L491.6,1050.6 L492.5,1051.6 L491.7,1054.3 L492.4,1055.2 L495.0,1055.0 L495.6,1056.3 L493.9,1058.5 Z" fill="#333" stroke="#111" stroke-width="0.6"/>
<path d="M495.2,1060.0 L497.8,1060.8 L498.0,1062.3 L495.7,1063.7 L495.7,1064.8 L498.0,1066.6 L497.7,1067.9 L495.1,1068.3 L494.8,1069.3 L496.3,1071.7 L495.6,1072.8 L493.2,1072.0 L492.5,1072.7 L493.0,1075.4 L492.0,1076.0 L490.1,1074.3 L489.2,1074.6 L488.7,1077.1 L487.5,1077.2 L486.4,1074.8 L485.5,1074.6 L484.0,1076.6 L482.8,1076.2 L482.7,1073.4 L481.8,1072.8 L479.6,1074.0 L478.6,1073.1 L479.4,1070.4 L478.8,1069.4 L476.1,1069.6 L475.5,1068.3 L477.2,1066.1 L476.8,1065.0 L474.2,1064.2 L474.0,1062.7 L476.3,1061.3 L476.3,1060.2 L474.0,1058.4 L474.3,1057.1 L476.9,1056.7 L477.2,1055.7 L475.7,1053.3 L476.4,1052.2 L478.8,1053.0 L479.5,1052.3 L479.0,1049.6 L480.0,1049.0 L481.9,1050.7 L482.8,1050.4 L483.3,1047.9 L484.5,1047.8 L485.6,1050.2 L486.5,1050.4 L488.0,1048.4 L489.2,1048.8 L489.3,1051.6 L490.2,1052.2 L492.4,1051.0 L493.4,1051.9 L492.6,1054.6 L493.2,1055.6 L495.9,1055.4 L496.5,1056.7 L494.8,1058.9 Z" fill="#fff" stroke="#111" stroke-width="1.3"/>
<ellipse cx="485.5" cy="1062" rx="6" ry="8.5" transform="rotate(-15 485.5 1062)" fill="#fff" stroke="#111" stroke-width="1.2"/>
<ellipse cx="487" cy="1062" rx="3" ry="4" transform="rotate(-15 487 1062)" fill="#555" stroke="#111" stroke-width="1.4"/>
<ellipse cx="497.0" cy="1068.0" rx="2.5" ry="3.5" transform="rotate(-15 497.0 1068.0)" fill="#fff" stroke="#111" stroke-width="1.8"/>
<ellipse cx="502.5" cy="1071.5" rx="2.5" ry="3.5" transform="rotate(-15 502.5 1071.5)" fill="#fff" stroke="#111" stroke-width="1.8"/>
<ellipse cx="508.0" cy="1075.0" rx="2.5" ry="3.5" transform="rotate(-15 508.0 1075.0)" fill="#fff" stroke="#111" stroke-width="1.8"/>
<path d="M425.5,997 L430,996.5 L429.5,999 L425.5,999.5 Z" fill="#333" stroke="#111" stroke-width="1.2" />
<ellipse cx="567.2" cy="965" rx="8.7" ry="8.7" transform="rotate(0 567.2 965)" fill="#fff" stroke="#111" stroke-width="1.0"/>
<text x="567.2" y="969.5" font-size="12.5" text-anchor="middle">43</text>
<path d="M590,986.5 L595,989 L594,992 L589.5,989.5 Z" fill="#333" stroke="#111" stroke-width="1.3" />
<path d="M595.0,990.0 L600.0,993.0" fill="none" stroke="#111" stroke-width="1.2"/>
<ellipse cx="604.8" cy="1006.4" rx="13.8" ry="18.8" transform="rotate(25 604.8 1006.4)" fill="#fff" stroke="#111" stroke-width="1.6"/>
<ellipse cx="605" cy="1006.4" rx="11.5" ry="16" transform="rotate(25 605 1006.4)" fill="none" stroke="#111" stroke-width="1.0"/>
<ellipse cx="606.5" cy="1006" rx="7" ry="9.5" transform="rotate(25 606.5 1006)" fill="#fff" stroke="#111" stroke-width="1.5"/>
<ellipse cx="607" cy="1006" rx="4.5" ry="6.5" transform="rotate(25 607 1006)" fill="none" stroke="#111" stroke-width="1.2"/>
<ellipse cx="628.5" cy="1020.3" rx="15.5" ry="20.5" transform="rotate(25 628.5 1020.3)" fill="none" stroke="#111" stroke-width="1.8"/>
<ellipse cx="628.5" cy="1020.3" rx="13" ry="18" transform="rotate(25 628.5 1020.3)" fill="none" stroke="#111" stroke-width="1.4"/>
<path d="M612.0,1003.0 L656.0,1027.0" fill="none" stroke="#111" stroke-width="1.2"/>
<ellipse cx="656" cy="1037.9" rx="14.4" ry="18.2" transform="rotate(25 656 1037.9)" fill="#fff" stroke="#111" stroke-width="1.6"/>
<ellipse cx="656.5" cy="1037.5" rx="12" ry="15.5" transform="rotate(25 656.5 1037.5)" fill="none" stroke="#111" stroke-width="1.0"/>
<ellipse cx="658" cy="1037" rx="7.5" ry="9.5" transform="rotate(25 658 1037)" fill="#fff" stroke="#111" stroke-width="1.5"/>
<ellipse cx="658.5" cy="1037" rx="5" ry="6.5" transform="rotate(25 658.5 1037)" fill="none" stroke="#111" stroke-width="1.2"/>
<path d="M668.0,1044.0 L673.0,1047.0" fill="none" stroke="#111" stroke-width="1.2"/>
<path d="M685.9,1052.0 L687.4,1053.6 L686.9,1054.9 L684.8,1055.1 L684.2,1056.0 L684.8,1058.2 L683.9,1059.1 L682.0,1058.2 L681.2,1058.7 L680.7,1060.8 L679.5,1061.0 L678.4,1059.3 L677.5,1059.2 L676.1,1060.7 L675.0,1060.2 L675.0,1058.1 L674.3,1057.4 L672.3,1057.9 L671.6,1056.9 L672.6,1054.9 L672.3,1053.9 L670.3,1053.3 L670.2,1051.9 L672.0,1050.7 L672.1,1049.6 L670.6,1048.0 L671.1,1046.7 L673.2,1046.5 L673.8,1045.6 L673.2,1043.4 L674.1,1042.5 L676.0,1043.4 L676.8,1042.9 L677.3,1040.8 L678.5,1040.6 L679.6,1042.3 L680.5,1042.4 L681.9,1040.9 L683.0,1041.4 L683.0,1043.5 L683.7,1044.2 L685.7,1043.7 L686.4,1044.7 L685.4,1046.7 L685.7,1047.7 L687.7,1048.3 L687.8,1049.7 L686.0,1050.9 Z" fill="#222" stroke="#111" stroke-width="1.3"/>
<path d="M686.6,1052.4 L688.1,1054.0 L687.7,1055.3 L685.6,1055.5 L685.0,1056.4 L685.5,1058.6 L684.6,1059.4 L682.8,1058.6 L681.9,1059.0 L681.4,1061.1 L680.3,1061.4 L679.2,1059.6 L678.3,1059.5 L676.8,1061.0 L675.8,1060.6 L675.7,1058.4 L675.0,1057.8 L673.1,1058.3 L672.4,1057.3 L673.4,1055.3 L673.0,1054.3 L671.1,1053.6 L670.9,1052.3 L672.7,1051.1 L672.9,1050.0 L671.4,1048.3 L671.8,1047.1 L673.9,1046.8 L674.5,1045.9 L674.0,1043.8 L674.9,1042.9 L676.7,1043.8 L677.6,1043.3 L678.1,1041.2 L679.2,1041.0 L680.3,1042.7 L681.2,1042.8 L682.7,1041.3 L683.7,1041.8 L683.8,1043.9 L684.5,1044.5 L686.4,1044.1 L687.1,1045.1 L686.1,1047.0 L686.5,1048.0 L688.4,1048.7 L688.6,1050.0 L686.8,1051.3 Z" fill="#333" stroke="#111" stroke-width="0.6"/>
<path d="M687.4,1052.8 L688.9,1054.4 L688.4,1055.7 L686.3,1055.9 L685.7,1056.8 L686.3,1058.9 L685.4,1059.8 L683.5,1058.9 L682.7,1059.4 L682.2,1061.5 L681.0,1061.7 L679.9,1060.0 L679.0,1059.9 L677.6,1061.4 L676.5,1061.0 L676.5,1058.8 L675.8,1058.2 L673.8,1058.7 L673.1,1057.6 L674.1,1055.7 L673.8,1054.7 L671.8,1054.0 L671.7,1052.7 L673.5,1051.4 L673.6,1050.3 L672.1,1048.7 L672.6,1047.4 L674.7,1047.2 L675.3,1046.3 L674.7,1044.2 L675.6,1043.3 L677.5,1044.2 L678.3,1043.7 L678.8,1041.6 L680.0,1041.4 L681.1,1043.1 L682.0,1043.2 L683.4,1041.7 L684.5,1042.1 L684.5,1044.3 L685.2,1044.9 L687.2,1044.4 L687.9,1045.5 L686.9,1047.4 L687.2,1048.4 L689.2,1049.1 L689.3,1050.4 L687.5,1051.7 Z" fill="#333" stroke="#111" stroke-width="0.6"/>
<path d="M688.1,1053.1 L689.6,1054.8 L689.2,1056.0 L687.1,1056.2 L686.5,1057.2 L687.0,1059.3 L686.1,1060.2 L684.3,1059.3 L683.4,1059.8 L682.9,1061.9 L681.8,1062.1 L680.7,1060.4 L679.8,1060.3 L678.3,1061.8 L677.3,1061.3 L677.2,1059.2 L676.5,1058.6 L674.6,1059.0 L673.9,1058.0 L674.9,1056.1 L674.5,1055.1 L672.6,1054.4 L672.4,1053.1 L674.2,1051.8 L674.4,1050.7 L672.9,1049.1 L673.3,1047.8 L675.4,1047.6 L676.0,1046.7 L675.5,1044.5 L676.4,1043.7 L678.2,1044.5 L679.1,1044.1 L679.6,1042.0 L680.7,1041.7 L681.8,1043.5 L682.7,1043.5 L684.2,1042.1 L685.2,1042.5 L685.3,1044.7 L686.0,1045.3 L687.9,1044.8 L688.6,1045.8 L687.6,1047.8 L688.0,1048.8 L689.9,1049.5 L690.1,1050.8 L688.3,1052.0 Z" fill="#333" stroke="#111" stroke-width="0.6"/>
<path d="M688.9,1053.5 L690.4,1055.1 L689.9,1056.4 L687.8,1056.6 L687.2,1057.5 L687.8,1059.7 L686.9,1060.6 L685.0,1059.7 L684.2,1060.2 L683.7,1062.3 L682.5,1062.5 L681.4,1060.8 L680.5,1060.7 L679.1,1062.2 L678.0,1061.7 L678.0,1059.6 L677.3,1058.9 L675.3,1059.4 L674.6,1058.4 L675.6,1056.4 L675.3,1055.4 L673.3,1054.8 L673.2,1053.4 L675.0,1052.2 L675.1,1051.1 L673.6,1049.5 L674.1,1048.2 L676.2,1048.0 L676.8,1047.1 L676.2,1044.9 L677.1,1044.0 L679.0,1044.9 L679.8,1044.4 L680.3,1042.3 L681.5,1042.1 L682.6,1043.8 L683.5,1043.9 L684.9,1042.4 L686.0,1042.9 L686.0,1045.0 L686.7,1045.7 L688.7,1045.2 L689.4,1046.2 L688.4,1048.2 L688.7,1049.2 L690.7,1049.8 L690.8,1051.2 L689.0,1052.4 Z" fill="#fff" stroke="#111" stroke-width="1.3"/>
<ellipse cx="684" cy="1053" rx="4" ry="5" transform="rotate(10 684 1053)" fill="#fff" stroke="#111" stroke-width="1.6"/>
<path d="M690.0,1057.0 L697.0,1061.0" fill="none" stroke="#111" stroke-width="1.2"/>
<path d="M695,1062 L712,1053 Q718,1053 718,1058 L717,1066 L702,1078 Q696,1081 695.5,1075 Z" fill="#fff" stroke="#111" stroke-width="1.4" />
<ellipse cx="706.5" cy="1066" rx="6" ry="6.5" transform="rotate(0 706.5 1066)" fill="#fff" stroke="#111" stroke-width="1.3"/>
<ellipse cx="706.5" cy="1066" rx="3.5" ry="4" transform="rotate(0 706.5 1066)" fill="none" stroke="#111" stroke-width="1.3"/>
<path d="M257.0,574.0 L287.0,592.0" fill="none" stroke="#111" stroke-width="1.1" stroke-dasharray="1.6,1.2"/>
<path d="M257.0,600.5 L290.4,619.7" fill="none" stroke="#111" stroke-width="1.1" stroke-dasharray="2,1.5"/>
<path d="M301.8,576.0 L350.3,600.3" fill="none" stroke="#111" stroke-width="1.2"/>
<path d="M259.0,554.0 L267.0,560.0" fill="none" stroke="#111" stroke-width="1.1"/>
<path d="M271.0,650.0 L329.3,615.7 L314.7,610.0" fill="none" stroke="#111" stroke-width="1.2"/>
<path d="M314.4,611.7 L314.4,650.0" fill="none" stroke="#111" stroke-width="1.2"/>
<path d="M552.0,676.3 L578.3,702.4" fill="none" stroke="#111" stroke-width="1.1" stroke-dasharray="2,1.5"/>
<path d="M530.8,704.8 L554.6,721.4" fill="none" stroke="#111" stroke-width="1.1" stroke-dasharray="2,1.5"/>
<path d="M528.5,753.4 L569.0,777.0" fill="none" stroke="#111" stroke-width="1.2"/>
<path d="M549.8,764.0 L549.8,798.0" fill="none" stroke="#111" stroke-width="1.2"/>
<path d="M549.8,640.7 L549.8,672.0" fill="none" stroke="#111" stroke-width="1.2"/>
</svg>
</body></html>
